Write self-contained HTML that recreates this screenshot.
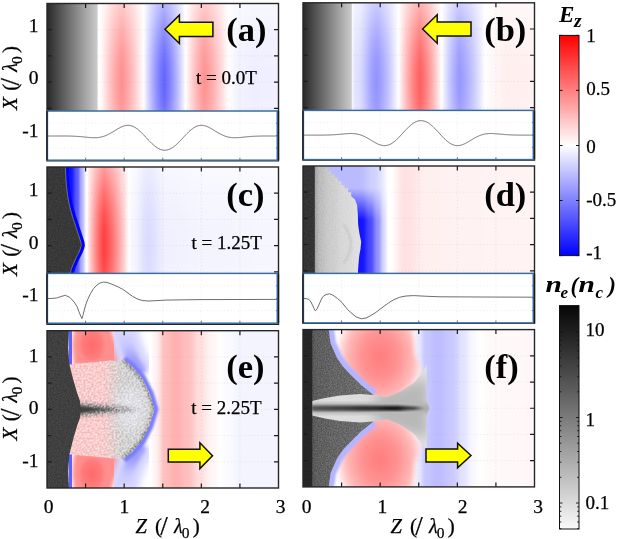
<!DOCTYPE html>
<html><head><meta charset="utf-8"><style>
html,body{margin:0;padding:0;background:#fff;}
svg{display:block;will-change:transform;}
</style></head><body>
<svg width="617" height="539" viewBox="0 0 617 539">
<defs><filter id="b1" x="-20%" y="-20%" width="140%" height="140%"><feGaussianBlur stdDeviation="1"/></filter>
<filter id="b2" x="-30%" y="-30%" width="160%" height="160%"><feGaussianBlur stdDeviation="2"/></filter>
<filter id="b3" x="-30%" y="-30%" width="160%" height="160%"><feGaussianBlur stdDeviation="3.5"/></filter>
<filter id="b5" x="-40%" y="-40%" width="180%" height="180%"><feGaussianBlur stdDeviation="6"/></filter>
<filter id="b8" x="-50%" y="-50%" width="200%" height="200%"><feGaussianBlur stdDeviation="9"/></filter>
<clipPath id="cp00"><rect x="47.00" y="3.50" width="231.50" height="157.30"/></clipPath>
<clipPath id="cp01"><rect x="303.00" y="2.80" width="231.50" height="157.30"/></clipPath>
<clipPath id="cp10"><rect x="47.00" y="167.00" width="231.50" height="157.30"/></clipPath>
<clipPath id="cp11"><rect x="303.00" y="166.00" width="231.50" height="157.30"/></clipPath>
<clipPath id="cp20"><rect x="47.00" y="330.70" width="231.50" height="157.30"/></clipPath>
<clipPath id="cp21"><rect x="303.00" y="329.60" width="231.50" height="157.30"/></clipPath>
<filter id="nz" x="0" y="0" width="1" height="1" filterUnits="objectBoundingBox" color-interpolation-filters="sRGB"><feTurbulence type="fractalNoise" baseFrequency="0.75" numOctaves="2" seed="4"/><feColorMatrix type="matrix" values="1 0 0 0 0  1 0 0 0 0  1 0 0 0 0  0 0 0 0 1"/><feComponentTransfer><feFuncR type="linear" slope="2.6" intercept="-0.8"/><feFuncG type="linear" slope="2.6" intercept="-0.8"/><feFuncB type="linear" slope="2.6" intercept="-0.8"/></feComponentTransfer></filter>
<filter id="nz2" x="0" y="0" width="1" height="1" filterUnits="objectBoundingBox" color-interpolation-filters="sRGB"><feTurbulence type="fractalNoise" baseFrequency="0.5" numOctaves="2" seed="9"/><feColorMatrix type="matrix" values="1 0 0 0 0  1 0 0 0 0  1 0 0 0 0  0 0 0 0 1"/><feComponentTransfer><feFuncR type="linear" slope="3.2" intercept="-1.1"/><feFuncG type="linear" slope="3.2" intercept="-1.1"/><feFuncB type="linear" slope="3.2" intercept="-1.1"/></feComponentTransfer></filter>
<linearGradient id="ga" gradientUnits="userSpaceOnUse" x1="47.00" y1="0" x2="279.00" y2="0"><stop offset="0.0000" stop-color="#ffffff"/><stop offset="0.0043" stop-color="#ffffff"/><stop offset="0.0086" stop-color="#ffffff"/><stop offset="0.0129" stop-color="#ffffff"/><stop offset="0.0172" stop-color="#ffffff"/><stop offset="0.0215" stop-color="#ffffff"/><stop offset="0.0258" stop-color="#ffffff"/><stop offset="0.0300" stop-color="#ffffff"/><stop offset="0.0343" stop-color="#ffffff"/><stop offset="0.0386" stop-color="#ffffff"/><stop offset="0.0429" stop-color="#ffffff"/><stop offset="0.0472" stop-color="#ffffff"/><stop offset="0.0515" stop-color="#ffffff"/><stop offset="0.0558" stop-color="#ffffff"/><stop offset="0.0601" stop-color="#ffffff"/><stop offset="0.0644" stop-color="#ffffff"/><stop offset="0.0687" stop-color="#ffffff"/><stop offset="0.0730" stop-color="#ffffff"/><stop offset="0.0773" stop-color="#ffffff"/><stop offset="0.0815" stop-color="#ffffff"/><stop offset="0.0858" stop-color="#ffffff"/><stop offset="0.0901" stop-color="#ffffff"/><stop offset="0.0944" stop-color="#ffffff"/><stop offset="0.0987" stop-color="#ffffff"/><stop offset="0.1030" stop-color="#ffffff"/><stop offset="0.1073" stop-color="#ffffff"/><stop offset="0.1116" stop-color="#ffffff"/><stop offset="0.1159" stop-color="#ffffff"/><stop offset="0.1202" stop-color="#ffffff"/><stop offset="0.1245" stop-color="#ffffff"/><stop offset="0.1288" stop-color="#ffffff"/><stop offset="0.1330" stop-color="#ffffff"/><stop offset="0.1373" stop-color="#ffffff"/><stop offset="0.1416" stop-color="#ffffff"/><stop offset="0.1459" stop-color="#ffffff"/><stop offset="0.1502" stop-color="#ffffff"/><stop offset="0.1545" stop-color="#ffffff"/><stop offset="0.1588" stop-color="#ffffff"/><stop offset="0.1631" stop-color="#ffffff"/><stop offset="0.1674" stop-color="#ffffff"/><stop offset="0.1717" stop-color="#ffffff"/><stop offset="0.1760" stop-color="#ffffff"/><stop offset="0.1803" stop-color="#ffffff"/><stop offset="0.1845" stop-color="#ffffff"/><stop offset="0.1888" stop-color="#ffffff"/><stop offset="0.1931" stop-color="#ffffff"/><stop offset="0.1974" stop-color="#ffffff"/><stop offset="0.2017" stop-color="#ffffff"/><stop offset="0.2060" stop-color="#ffffff"/><stop offset="0.2103" stop-color="#ffffff"/><stop offset="0.2146" stop-color="#ffffff"/><stop offset="0.2189" stop-color="#ffffff"/><stop offset="0.2232" stop-color="#ffffff"/><stop offset="0.2275" stop-color="#ffffff"/><stop offset="0.2318" stop-color="#fffdfd"/><stop offset="0.2361" stop-color="#fff7f7"/><stop offset="0.2403" stop-color="#fff0f0"/><stop offset="0.2446" stop-color="#ffeaea"/><stop offset="0.2489" stop-color="#ffe3e3"/><stop offset="0.2532" stop-color="#ffdddd"/><stop offset="0.2575" stop-color="#ffd7d7"/><stop offset="0.2618" stop-color="#ffd1d1"/><stop offset="0.2661" stop-color="#ffcbcb"/><stop offset="0.2704" stop-color="#ffc5c5"/><stop offset="0.2747" stop-color="#ffbfbf"/><stop offset="0.2790" stop-color="#ffbaba"/><stop offset="0.2833" stop-color="#ffb4b4"/><stop offset="0.2876" stop-color="#ffafaf"/><stop offset="0.2918" stop-color="#ffaaaa"/><stop offset="0.2961" stop-color="#ffa6a6"/><stop offset="0.3004" stop-color="#ffa1a1"/><stop offset="0.3047" stop-color="#ff9d9d"/><stop offset="0.3090" stop-color="#ff9999"/><stop offset="0.3133" stop-color="#ff9595"/><stop offset="0.3176" stop-color="#ff9292"/><stop offset="0.3219" stop-color="#ff8f8f"/><stop offset="0.3262" stop-color="#ff9393"/><stop offset="0.3305" stop-color="#ff9696"/><stop offset="0.3348" stop-color="#ff9a9a"/><stop offset="0.3391" stop-color="#ff9d9d"/><stop offset="0.3433" stop-color="#ffa2a2"/><stop offset="0.3476" stop-color="#ffa6a6"/><stop offset="0.3519" stop-color="#ffaaaa"/><stop offset="0.3562" stop-color="#ffafaf"/><stop offset="0.3605" stop-color="#ffb4b4"/><stop offset="0.3648" stop-color="#ffb9b9"/><stop offset="0.3691" stop-color="#ffbebe"/><stop offset="0.3734" stop-color="#ffc4c4"/><stop offset="0.3777" stop-color="#ffc9c9"/><stop offset="0.3820" stop-color="#ffcfcf"/><stop offset="0.3863" stop-color="#ffd5d5"/><stop offset="0.3906" stop-color="#ffdbdb"/><stop offset="0.3948" stop-color="#ffe1e1"/><stop offset="0.3991" stop-color="#ffe7e7"/><stop offset="0.4034" stop-color="#ffeded"/><stop offset="0.4077" stop-color="#fff3f3"/><stop offset="0.4120" stop-color="#fff9f9"/><stop offset="0.4163" stop-color="#fefeff"/><stop offset="0.4206" stop-color="#f5f5ff"/><stop offset="0.4249" stop-color="#ececff"/><stop offset="0.4292" stop-color="#e3e3ff"/><stop offset="0.4335" stop-color="#d9d9ff"/><stop offset="0.4378" stop-color="#d0d0ff"/><stop offset="0.4421" stop-color="#c8c8ff"/><stop offset="0.4464" stop-color="#bfbfff"/><stop offset="0.4506" stop-color="#b6b6ff"/><stop offset="0.4549" stop-color="#aeaeff"/><stop offset="0.4592" stop-color="#a6a6ff"/><stop offset="0.4635" stop-color="#9e9eff"/><stop offset="0.4678" stop-color="#9797ff"/><stop offset="0.4721" stop-color="#8f8fff"/><stop offset="0.4764" stop-color="#8888ff"/><stop offset="0.4807" stop-color="#8282ff"/><stop offset="0.4850" stop-color="#7c7cff"/><stop offset="0.4893" stop-color="#7676ff"/><stop offset="0.4936" stop-color="#7070ff"/><stop offset="0.4979" stop-color="#6b6bff"/><stop offset="0.5021" stop-color="#6666ff"/><stop offset="0.5064" stop-color="#6666ff"/><stop offset="0.5107" stop-color="#6a6aff"/><stop offset="0.5150" stop-color="#6f6fff"/><stop offset="0.5193" stop-color="#7575ff"/><stop offset="0.5236" stop-color="#7a7aff"/><stop offset="0.5279" stop-color="#8080ff"/><stop offset="0.5322" stop-color="#8686ff"/><stop offset="0.5365" stop-color="#8d8dff"/><stop offset="0.5408" stop-color="#9494ff"/><stop offset="0.5451" stop-color="#9b9bff"/><stop offset="0.5494" stop-color="#a2a2ff"/><stop offset="0.5536" stop-color="#aaaaff"/><stop offset="0.5579" stop-color="#b1b1ff"/><stop offset="0.5622" stop-color="#b9b9ff"/><stop offset="0.5665" stop-color="#c2c2ff"/><stop offset="0.5708" stop-color="#cacaff"/><stop offset="0.5751" stop-color="#d2d2ff"/><stop offset="0.5794" stop-color="#dbdbff"/><stop offset="0.5837" stop-color="#e4e4ff"/><stop offset="0.5880" stop-color="#ececff"/><stop offset="0.5923" stop-color="#f5f5ff"/><stop offset="0.5966" stop-color="#fefeff"/><stop offset="0.6009" stop-color="#fff9f9"/><stop offset="0.6052" stop-color="#fff2f2"/><stop offset="0.6094" stop-color="#ffebeb"/><stop offset="0.6137" stop-color="#ffe4e4"/><stop offset="0.6180" stop-color="#ffdddd"/><stop offset="0.6223" stop-color="#ffd6d6"/><stop offset="0.6266" stop-color="#ffd0d0"/><stop offset="0.6309" stop-color="#ffc9c9"/><stop offset="0.6352" stop-color="#ffc3c3"/><stop offset="0.6395" stop-color="#ffbdbd"/><stop offset="0.6438" stop-color="#ffb7b7"/><stop offset="0.6481" stop-color="#ffb2b2"/><stop offset="0.6524" stop-color="#ffacac"/><stop offset="0.6567" stop-color="#ffa7a7"/><stop offset="0.6609" stop-color="#ffa2a2"/><stop offset="0.6652" stop-color="#ff9e9e"/><stop offset="0.6695" stop-color="#ff9a9a"/><stop offset="0.6738" stop-color="#ff9696"/><stop offset="0.6781" stop-color="#ff9292"/><stop offset="0.6824" stop-color="#ff9494"/><stop offset="0.6867" stop-color="#ff9797"/><stop offset="0.6910" stop-color="#ff9a9a"/><stop offset="0.6953" stop-color="#ff9d9d"/><stop offset="0.6996" stop-color="#ffa1a1"/><stop offset="0.7039" stop-color="#ffa4a4"/><stop offset="0.7082" stop-color="#ffa8a8"/><stop offset="0.7124" stop-color="#ffacac"/><stop offset="0.7167" stop-color="#ffb0b0"/><stop offset="0.7210" stop-color="#ffb5b5"/><stop offset="0.7253" stop-color="#ffb9b9"/><stop offset="0.7296" stop-color="#ffbebe"/><stop offset="0.7339" stop-color="#ffc3c3"/><stop offset="0.7382" stop-color="#ffc8c8"/><stop offset="0.7425" stop-color="#ffcdcd"/><stop offset="0.7468" stop-color="#ffd2d2"/><stop offset="0.7511" stop-color="#ffd7d7"/><stop offset="0.7554" stop-color="#ffdcdc"/><stop offset="0.7597" stop-color="#ffe2e2"/><stop offset="0.7639" stop-color="#ffe7e7"/><stop offset="0.7682" stop-color="#ffeded"/><stop offset="0.7725" stop-color="#fff2f2"/><stop offset="0.7768" stop-color="#fff8f8"/><stop offset="0.7811" stop-color="#fffdfd"/><stop offset="0.7854" stop-color="#fefeff"/><stop offset="0.7897" stop-color="#fcfcff"/><stop offset="0.7940" stop-color="#fbfbff"/><stop offset="0.7983" stop-color="#f9f9ff"/><stop offset="0.8026" stop-color="#f8f8ff"/><stop offset="0.8069" stop-color="#f6f6ff"/><stop offset="0.8112" stop-color="#f5f5ff"/><stop offset="0.8155" stop-color="#f4f4ff"/><stop offset="0.8197" stop-color="#f3f3ff"/><stop offset="0.8240" stop-color="#f2f2ff"/><stop offset="0.8283" stop-color="#f2f2ff"/><stop offset="0.8326" stop-color="#f2f2ff"/><stop offset="0.8369" stop-color="#f2f2ff"/><stop offset="0.8412" stop-color="#f2f2ff"/><stop offset="0.8455" stop-color="#f1f1ff"/><stop offset="0.8498" stop-color="#f1f1ff"/><stop offset="0.8541" stop-color="#f1f1ff"/><stop offset="0.8584" stop-color="#f0f0ff"/><stop offset="0.8627" stop-color="#f0f0ff"/><stop offset="0.8670" stop-color="#f0f0ff"/><stop offset="0.8712" stop-color="#efefff"/><stop offset="0.8755" stop-color="#efefff"/><stop offset="0.8798" stop-color="#efefff"/><stop offset="0.8841" stop-color="#efefff"/><stop offset="0.8884" stop-color="#eeeeff"/><stop offset="0.8927" stop-color="#eeeeff"/><stop offset="0.8970" stop-color="#eeeeff"/><stop offset="0.9013" stop-color="#eeeeff"/><stop offset="0.9056" stop-color="#eeeeff"/><stop offset="0.9099" stop-color="#efefff"/><stop offset="0.9142" stop-color="#efefff"/><stop offset="0.9185" stop-color="#efefff"/><stop offset="0.9227" stop-color="#efefff"/><stop offset="0.9270" stop-color="#efefff"/><stop offset="0.9313" stop-color="#efefff"/><stop offset="0.9356" stop-color="#efefff"/><stop offset="0.9399" stop-color="#efefff"/><stop offset="0.9442" stop-color="#efefff"/><stop offset="0.9485" stop-color="#efefff"/><stop offset="0.9528" stop-color="#efefff"/><stop offset="0.9571" stop-color="#efefff"/><stop offset="0.9614" stop-color="#efefff"/><stop offset="0.9657" stop-color="#efefff"/><stop offset="0.9700" stop-color="#efefff"/><stop offset="0.9742" stop-color="#f0f0ff"/><stop offset="0.9785" stop-color="#f0f0ff"/><stop offset="0.9828" stop-color="#f0f0ff"/><stop offset="0.9871" stop-color="#f0f0ff"/><stop offset="0.9914" stop-color="#f0f0ff"/><stop offset="0.9957" stop-color="#f0f0ff"/><stop offset="1.0000" stop-color="#f0f0ff"/></linearGradient>
<linearGradient id="gra" gradientUnits="userSpaceOnUse" x1="47.00" y1="0" x2="97.60" y2="0"><stop offset="0.0000" stop-color="#292929"/><stop offset="0.0196" stop-color="#2c2c2c"/><stop offset="0.0392" stop-color="#2f2f2f"/><stop offset="0.0588" stop-color="#323232"/><stop offset="0.0784" stop-color="#363636"/><stop offset="0.0980" stop-color="#393939"/><stop offset="0.1176" stop-color="#3c3c3c"/><stop offset="0.1373" stop-color="#3f3f3f"/><stop offset="0.1569" stop-color="#424242"/><stop offset="0.1765" stop-color="#464646"/><stop offset="0.1961" stop-color="#494949"/><stop offset="0.2157" stop-color="#4c4c4c"/><stop offset="0.2353" stop-color="#4f4f4f"/><stop offset="0.2549" stop-color="#525252"/><stop offset="0.2745" stop-color="#565656"/><stop offset="0.2941" stop-color="#595959"/><stop offset="0.3137" stop-color="#5c5c5c"/><stop offset="0.3333" stop-color="#5f5f5f"/><stop offset="0.3529" stop-color="#626262"/><stop offset="0.3725" stop-color="#666666"/><stop offset="0.3922" stop-color="#696969"/><stop offset="0.4118" stop-color="#6c6c6c"/><stop offset="0.4314" stop-color="#6f6f6f"/><stop offset="0.4510" stop-color="#727272"/><stop offset="0.4706" stop-color="#767676"/><stop offset="0.4902" stop-color="#797979"/><stop offset="0.5098" stop-color="#7c7c7c"/><stop offset="0.5294" stop-color="#7f7f7f"/><stop offset="0.5490" stop-color="#828282"/><stop offset="0.5686" stop-color="#868686"/><stop offset="0.5882" stop-color="#898989"/><stop offset="0.6078" stop-color="#8c8c8c"/><stop offset="0.6275" stop-color="#8f8f8f"/><stop offset="0.6471" stop-color="#929292"/><stop offset="0.6667" stop-color="#969696"/><stop offset="0.6863" stop-color="#999999"/><stop offset="0.7059" stop-color="#9c9c9c"/><stop offset="0.7255" stop-color="#9f9f9f"/><stop offset="0.7451" stop-color="#a2a2a2"/><stop offset="0.7647" stop-color="#a6a6a6"/><stop offset="0.7843" stop-color="#a9a9a9"/><stop offset="0.8039" stop-color="#acacac"/><stop offset="0.8235" stop-color="#afafaf"/><stop offset="0.8431" stop-color="#b2b2b2"/><stop offset="0.8627" stop-color="#b6b6b6"/><stop offset="0.8824" stop-color="#b9b9b9"/><stop offset="0.9020" stop-color="#bcbcbc"/><stop offset="0.9216" stop-color="#bfbfbf"/><stop offset="0.9412" stop-color="#c2c2c2"/><stop offset="0.9608" stop-color="#c6c6c6"/><stop offset="0.9804" stop-color="#c9c9c9"/><stop offset="1.0000" stop-color="#cccccc"/></linearGradient>
<linearGradient id="mag" gradientUnits="userSpaceOnUse" x1="0" y1="3.50" x2="0" y2="160.80"><stop offset="0.0000" stop-color="#ffffff" stop-opacity="0.480"/><stop offset="0.0127" stop-color="#ffffff" stop-opacity="0.498"/><stop offset="0.0253" stop-color="#ffffff" stop-opacity="0.516"/><stop offset="0.0380" stop-color="#ffffff" stop-opacity="0.534"/><stop offset="0.0506" stop-color="#ffffff" stop-opacity="0.552"/><stop offset="0.0633" stop-color="#ffffff" stop-opacity="0.571"/><stop offset="0.0759" stop-color="#ffffff" stop-opacity="0.590"/><stop offset="0.0886" stop-color="#ffffff" stop-opacity="0.608"/><stop offset="0.1013" stop-color="#ffffff" stop-opacity="0.627"/><stop offset="0.1139" stop-color="#ffffff" stop-opacity="0.645"/><stop offset="0.1266" stop-color="#ffffff" stop-opacity="0.664"/><stop offset="0.1392" stop-color="#ffffff" stop-opacity="0.682"/><stop offset="0.1519" stop-color="#ffffff" stop-opacity="0.700"/><stop offset="0.1646" stop-color="#ffffff" stop-opacity="0.718"/><stop offset="0.1772" stop-color="#ffffff" stop-opacity="0.736"/><stop offset="0.1899" stop-color="#ffffff" stop-opacity="0.754"/><stop offset="0.2025" stop-color="#ffffff" stop-opacity="0.771"/><stop offset="0.2152" stop-color="#ffffff" stop-opacity="0.788"/><stop offset="0.2278" stop-color="#ffffff" stop-opacity="0.804"/><stop offset="0.2405" stop-color="#ffffff" stop-opacity="0.820"/><stop offset="0.2532" stop-color="#ffffff" stop-opacity="0.836"/><stop offset="0.2658" stop-color="#ffffff" stop-opacity="0.851"/><stop offset="0.2785" stop-color="#ffffff" stop-opacity="0.866"/><stop offset="0.2911" stop-color="#ffffff" stop-opacity="0.880"/><stop offset="0.3038" stop-color="#ffffff" stop-opacity="0.893"/><stop offset="0.3165" stop-color="#ffffff" stop-opacity="0.906"/><stop offset="0.3291" stop-color="#ffffff" stop-opacity="0.918"/><stop offset="0.3418" stop-color="#ffffff" stop-opacity="0.929"/><stop offset="0.3544" stop-color="#ffffff" stop-opacity="0.940"/><stop offset="0.3671" stop-color="#ffffff" stop-opacity="0.949"/><stop offset="0.3797" stop-color="#ffffff" stop-opacity="0.958"/><stop offset="0.3924" stop-color="#ffffff" stop-opacity="0.967"/><stop offset="0.4051" stop-color="#ffffff" stop-opacity="0.974"/><stop offset="0.4177" stop-color="#ffffff" stop-opacity="0.980"/><stop offset="0.4304" stop-color="#ffffff" stop-opacity="0.986"/><stop offset="0.4430" stop-color="#ffffff" stop-opacity="0.991"/><stop offset="0.4557" stop-color="#ffffff" stop-opacity="0.994"/><stop offset="0.4684" stop-color="#ffffff" stop-opacity="0.997"/><stop offset="0.4810" stop-color="#ffffff" stop-opacity="0.999"/><stop offset="0.4937" stop-color="#ffffff" stop-opacity="1.000"/><stop offset="0.5063" stop-color="#ffffff" stop-opacity="1.000"/><stop offset="0.5190" stop-color="#ffffff" stop-opacity="0.999"/><stop offset="0.5316" stop-color="#ffffff" stop-opacity="0.997"/><stop offset="0.5443" stop-color="#ffffff" stop-opacity="0.994"/><stop offset="0.5570" stop-color="#ffffff" stop-opacity="0.991"/><stop offset="0.5696" stop-color="#ffffff" stop-opacity="0.986"/><stop offset="0.5823" stop-color="#ffffff" stop-opacity="0.980"/><stop offset="0.5949" stop-color="#ffffff" stop-opacity="0.974"/><stop offset="0.6076" stop-color="#ffffff" stop-opacity="0.967"/><stop offset="0.6203" stop-color="#ffffff" stop-opacity="0.958"/><stop offset="0.6329" stop-color="#ffffff" stop-opacity="0.949"/><stop offset="0.6456" stop-color="#ffffff" stop-opacity="0.940"/><stop offset="0.6582" stop-color="#ffffff" stop-opacity="0.929"/><stop offset="0.6709" stop-color="#ffffff" stop-opacity="0.918"/><stop offset="0.6835" stop-color="#ffffff" stop-opacity="0.906"/><stop offset="0.6962" stop-color="#ffffff" stop-opacity="0.893"/><stop offset="0.7089" stop-color="#ffffff" stop-opacity="0.880"/><stop offset="0.7215" stop-color="#ffffff" stop-opacity="0.866"/><stop offset="0.7342" stop-color="#ffffff" stop-opacity="0.851"/><stop offset="0.7468" stop-color="#ffffff" stop-opacity="0.836"/><stop offset="0.7595" stop-color="#ffffff" stop-opacity="0.820"/><stop offset="0.7722" stop-color="#ffffff" stop-opacity="0.804"/><stop offset="0.7848" stop-color="#ffffff" stop-opacity="0.788"/><stop offset="0.7975" stop-color="#ffffff" stop-opacity="0.771"/><stop offset="0.8101" stop-color="#ffffff" stop-opacity="0.754"/><stop offset="0.8228" stop-color="#ffffff" stop-opacity="0.736"/><stop offset="0.8354" stop-color="#ffffff" stop-opacity="0.718"/><stop offset="0.8481" stop-color="#ffffff" stop-opacity="0.700"/><stop offset="0.8608" stop-color="#ffffff" stop-opacity="0.682"/><stop offset="0.8734" stop-color="#ffffff" stop-opacity="0.664"/><stop offset="0.8861" stop-color="#ffffff" stop-opacity="0.645"/><stop offset="0.8987" stop-color="#ffffff" stop-opacity="0.627"/><stop offset="0.9114" stop-color="#ffffff" stop-opacity="0.608"/><stop offset="0.9241" stop-color="#ffffff" stop-opacity="0.590"/><stop offset="0.9367" stop-color="#ffffff" stop-opacity="0.571"/><stop offset="0.9494" stop-color="#ffffff" stop-opacity="0.552"/><stop offset="0.9620" stop-color="#ffffff" stop-opacity="0.534"/><stop offset="0.9747" stop-color="#ffffff" stop-opacity="0.516"/><stop offset="0.9873" stop-color="#ffffff" stop-opacity="0.498"/><stop offset="1.0000" stop-color="#ffffff" stop-opacity="0.480"/></linearGradient>
<mask id="ma" maskUnits="userSpaceOnUse" x="47.0" y="3.5" width="231.5" height="157.3"><rect x="47.0" y="3.5" width="231.5" height="157.3" fill="url(#mag)"/></mask>
<linearGradient id="gb" gradientUnits="userSpaceOnUse" x1="303.00" y1="0" x2="535.00" y2="0"><stop offset="0.0000" stop-color="#f5f5ff"/><stop offset="0.0043" stop-color="#f5f5ff"/><stop offset="0.0086" stop-color="#f5f5ff"/><stop offset="0.0129" stop-color="#f5f5ff"/><stop offset="0.0172" stop-color="#f5f5ff"/><stop offset="0.0215" stop-color="#f5f5ff"/><stop offset="0.0258" stop-color="#f5f5ff"/><stop offset="0.0300" stop-color="#f5f5ff"/><stop offset="0.0343" stop-color="#f5f5ff"/><stop offset="0.0386" stop-color="#f5f5ff"/><stop offset="0.0429" stop-color="#f5f5ff"/><stop offset="0.0472" stop-color="#f5f5ff"/><stop offset="0.0515" stop-color="#f5f5ff"/><stop offset="0.0558" stop-color="#f5f5ff"/><stop offset="0.0601" stop-color="#f5f5ff"/><stop offset="0.0644" stop-color="#f5f5ff"/><stop offset="0.0687" stop-color="#f5f5ff"/><stop offset="0.0730" stop-color="#f5f5ff"/><stop offset="0.0773" stop-color="#f5f5ff"/><stop offset="0.0815" stop-color="#f5f5ff"/><stop offset="0.0858" stop-color="#f5f5ff"/><stop offset="0.0901" stop-color="#f5f5ff"/><stop offset="0.0944" stop-color="#f5f5ff"/><stop offset="0.0987" stop-color="#f5f5ff"/><stop offset="0.1030" stop-color="#f5f5ff"/><stop offset="0.1073" stop-color="#f5f5ff"/><stop offset="0.1116" stop-color="#f5f5ff"/><stop offset="0.1159" stop-color="#f5f5ff"/><stop offset="0.1202" stop-color="#f5f5ff"/><stop offset="0.1245" stop-color="#f5f5ff"/><stop offset="0.1288" stop-color="#f5f5ff"/><stop offset="0.1330" stop-color="#f5f5ff"/><stop offset="0.1373" stop-color="#f5f5ff"/><stop offset="0.1416" stop-color="#f5f5ff"/><stop offset="0.1459" stop-color="#f5f5ff"/><stop offset="0.1502" stop-color="#f5f5ff"/><stop offset="0.1545" stop-color="#f5f5ff"/><stop offset="0.1588" stop-color="#f5f5ff"/><stop offset="0.1631" stop-color="#f5f5ff"/><stop offset="0.1674" stop-color="#f5f5ff"/><stop offset="0.1717" stop-color="#f5f5ff"/><stop offset="0.1760" stop-color="#f5f5ff"/><stop offset="0.1803" stop-color="#f5f5ff"/><stop offset="0.1845" stop-color="#f5f5ff"/><stop offset="0.1888" stop-color="#f5f5ff"/><stop offset="0.1931" stop-color="#f5f5ff"/><stop offset="0.1974" stop-color="#f5f5ff"/><stop offset="0.2017" stop-color="#f5f5ff"/><stop offset="0.2060" stop-color="#f5f5ff"/><stop offset="0.2103" stop-color="#f5f5ff"/><stop offset="0.2146" stop-color="#f2f2ff"/><stop offset="0.2189" stop-color="#ececff"/><stop offset="0.2232" stop-color="#e4e4ff"/><stop offset="0.2275" stop-color="#e1e1ff"/><stop offset="0.2318" stop-color="#e0e0ff"/><stop offset="0.2361" stop-color="#dfdfff"/><stop offset="0.2403" stop-color="#ddddff"/><stop offset="0.2446" stop-color="#dbdbff"/><stop offset="0.2489" stop-color="#d8d8ff"/><stop offset="0.2532" stop-color="#d4d4ff"/><stop offset="0.2575" stop-color="#cfcfff"/><stop offset="0.2618" stop-color="#cacaff"/><stop offset="0.2661" stop-color="#c5c5ff"/><stop offset="0.2704" stop-color="#c0c0ff"/><stop offset="0.2747" stop-color="#babaff"/><stop offset="0.2790" stop-color="#b5b5ff"/><stop offset="0.2833" stop-color="#afafff"/><stop offset="0.2876" stop-color="#aaaaff"/><stop offset="0.2918" stop-color="#a5a5ff"/><stop offset="0.2961" stop-color="#a1a1ff"/><stop offset="0.3004" stop-color="#9d9dff"/><stop offset="0.3047" stop-color="#9a9aff"/><stop offset="0.3090" stop-color="#9797ff"/><stop offset="0.3133" stop-color="#9595ff"/><stop offset="0.3176" stop-color="#9494ff"/><stop offset="0.3219" stop-color="#9494ff"/><stop offset="0.3262" stop-color="#9898ff"/><stop offset="0.3305" stop-color="#9b9bff"/><stop offset="0.3348" stop-color="#9f9fff"/><stop offset="0.3391" stop-color="#a3a3ff"/><stop offset="0.3433" stop-color="#a7a7ff"/><stop offset="0.3476" stop-color="#ababff"/><stop offset="0.3519" stop-color="#b0b0ff"/><stop offset="0.3562" stop-color="#b5b5ff"/><stop offset="0.3605" stop-color="#b9b9ff"/><stop offset="0.3648" stop-color="#bfbfff"/><stop offset="0.3691" stop-color="#c4c4ff"/><stop offset="0.3734" stop-color="#c9c9ff"/><stop offset="0.3777" stop-color="#cfcfff"/><stop offset="0.3820" stop-color="#d5d5ff"/><stop offset="0.3863" stop-color="#dbdbff"/><stop offset="0.3906" stop-color="#e1e1ff"/><stop offset="0.3948" stop-color="#e7e7ff"/><stop offset="0.3991" stop-color="#ededff"/><stop offset="0.4034" stop-color="#f3f3ff"/><stop offset="0.4077" stop-color="#f9f9ff"/><stop offset="0.4120" stop-color="#fffefe"/><stop offset="0.4163" stop-color="#fff5f5"/><stop offset="0.4206" stop-color="#ffecec"/><stop offset="0.4249" stop-color="#ffe3e3"/><stop offset="0.4292" stop-color="#ffdada"/><stop offset="0.4335" stop-color="#ffd1d1"/><stop offset="0.4378" stop-color="#ffc8c8"/><stop offset="0.4421" stop-color="#ffc0c0"/><stop offset="0.4464" stop-color="#ffb7b7"/><stop offset="0.4506" stop-color="#ffafaf"/><stop offset="0.4549" stop-color="#ffa7a7"/><stop offset="0.4592" stop-color="#ff9f9f"/><stop offset="0.4635" stop-color="#ff9898"/><stop offset="0.4678" stop-color="#ff9090"/><stop offset="0.4721" stop-color="#ff8989"/><stop offset="0.4764" stop-color="#ff8282"/><stop offset="0.4807" stop-color="#ff7c7c"/><stop offset="0.4850" stop-color="#ff7676"/><stop offset="0.4893" stop-color="#ff7070"/><stop offset="0.4936" stop-color="#ff6b6b"/><stop offset="0.4979" stop-color="#ff6565"/><stop offset="0.5021" stop-color="#ff6161"/><stop offset="0.5064" stop-color="#ff6161"/><stop offset="0.5107" stop-color="#ff6565"/><stop offset="0.5150" stop-color="#ff6b6b"/><stop offset="0.5193" stop-color="#ff7070"/><stop offset="0.5236" stop-color="#ff7676"/><stop offset="0.5279" stop-color="#ff7c7c"/><stop offset="0.5322" stop-color="#ff8282"/><stop offset="0.5365" stop-color="#ff8989"/><stop offset="0.5408" stop-color="#ff9090"/><stop offset="0.5451" stop-color="#ff9797"/><stop offset="0.5494" stop-color="#ff9f9f"/><stop offset="0.5536" stop-color="#ffa7a7"/><stop offset="0.5579" stop-color="#ffafaf"/><stop offset="0.5622" stop-color="#ffb7b7"/><stop offset="0.5665" stop-color="#ffc0c0"/><stop offset="0.5708" stop-color="#ffc8c8"/><stop offset="0.5751" stop-color="#ffd1d1"/><stop offset="0.5794" stop-color="#ffdada"/><stop offset="0.5837" stop-color="#ffe3e3"/><stop offset="0.5880" stop-color="#ffecec"/><stop offset="0.5923" stop-color="#fff5f5"/><stop offset="0.5966" stop-color="#fffefe"/><stop offset="0.6009" stop-color="#f9f9ff"/><stop offset="0.6052" stop-color="#f2f2ff"/><stop offset="0.6094" stop-color="#eaeaff"/><stop offset="0.6137" stop-color="#e4e4ff"/><stop offset="0.6180" stop-color="#ddddff"/><stop offset="0.6223" stop-color="#d6d6ff"/><stop offset="0.6266" stop-color="#cfcfff"/><stop offset="0.6309" stop-color="#c9c9ff"/><stop offset="0.6352" stop-color="#c3c3ff"/><stop offset="0.6395" stop-color="#bdbdff"/><stop offset="0.6438" stop-color="#b7b7ff"/><stop offset="0.6481" stop-color="#b2b2ff"/><stop offset="0.6524" stop-color="#adadff"/><stop offset="0.6567" stop-color="#a8a8ff"/><stop offset="0.6609" stop-color="#a3a3ff"/><stop offset="0.6652" stop-color="#9f9fff"/><stop offset="0.6695" stop-color="#9b9bff"/><stop offset="0.6738" stop-color="#9797ff"/><stop offset="0.6781" stop-color="#9999ff"/><stop offset="0.6824" stop-color="#9b9bff"/><stop offset="0.6867" stop-color="#9e9eff"/><stop offset="0.6910" stop-color="#a1a1ff"/><stop offset="0.6953" stop-color="#a4a4ff"/><stop offset="0.6996" stop-color="#a7a7ff"/><stop offset="0.7039" stop-color="#ababff"/><stop offset="0.7082" stop-color="#aeaeff"/><stop offset="0.7124" stop-color="#b2b2ff"/><stop offset="0.7167" stop-color="#b6b6ff"/><stop offset="0.7210" stop-color="#babaff"/><stop offset="0.7253" stop-color="#bebeff"/><stop offset="0.7296" stop-color="#c2c2ff"/><stop offset="0.7339" stop-color="#c6c6ff"/><stop offset="0.7382" stop-color="#cbcbff"/><stop offset="0.7425" stop-color="#cfcfff"/><stop offset="0.7468" stop-color="#d4d4ff"/><stop offset="0.7511" stop-color="#d9d9ff"/><stop offset="0.7554" stop-color="#ddddff"/><stop offset="0.7597" stop-color="#e2e2ff"/><stop offset="0.7639" stop-color="#e7e7ff"/><stop offset="0.7682" stop-color="#ececff"/><stop offset="0.7725" stop-color="#f1f1ff"/><stop offset="0.7768" stop-color="#f6f6ff"/><stop offset="0.7811" stop-color="#fbfbff"/><stop offset="0.7854" stop-color="#ffffff"/><stop offset="0.7897" stop-color="#fffdfd"/><stop offset="0.7940" stop-color="#fffcfc"/><stop offset="0.7983" stop-color="#fffbfb"/><stop offset="0.8026" stop-color="#fffafa"/><stop offset="0.8069" stop-color="#fff9f9"/><stop offset="0.8112" stop-color="#fff8f8"/><stop offset="0.8155" stop-color="#fff7f7"/><stop offset="0.8197" stop-color="#fff7f7"/><stop offset="0.8240" stop-color="#fff7f7"/><stop offset="0.8283" stop-color="#fff6f6"/><stop offset="0.8326" stop-color="#fff6f6"/><stop offset="0.8369" stop-color="#fff5f5"/><stop offset="0.8412" stop-color="#fff4f4"/><stop offset="0.8455" stop-color="#fff3f3"/><stop offset="0.8498" stop-color="#fff2f2"/><stop offset="0.8541" stop-color="#fff1f1"/><stop offset="0.8584" stop-color="#fff1f1"/><stop offset="0.8627" stop-color="#fff0f0"/><stop offset="0.8670" stop-color="#ffefef"/><stop offset="0.8712" stop-color="#ffefef"/><stop offset="0.8755" stop-color="#ffeeee"/><stop offset="0.8798" stop-color="#ffeeee"/><stop offset="0.8841" stop-color="#ffeeee"/><stop offset="0.8884" stop-color="#ffeeee"/><stop offset="0.8927" stop-color="#ffefef"/><stop offset="0.8970" stop-color="#ffefef"/><stop offset="0.9013" stop-color="#ffefef"/><stop offset="0.9056" stop-color="#ffefef"/><stop offset="0.9099" stop-color="#ffefef"/><stop offset="0.9142" stop-color="#ffefef"/><stop offset="0.9185" stop-color="#ffefef"/><stop offset="0.9227" stop-color="#ffefef"/><stop offset="0.9270" stop-color="#ffefef"/><stop offset="0.9313" stop-color="#ffefef"/><stop offset="0.9356" stop-color="#fff0f0"/><stop offset="0.9399" stop-color="#fff0f0"/><stop offset="0.9442" stop-color="#fff0f0"/><stop offset="0.9485" stop-color="#fff0f0"/><stop offset="0.9528" stop-color="#fff0f0"/><stop offset="0.9571" stop-color="#fff0f0"/><stop offset="0.9614" stop-color="#fff0f0"/><stop offset="0.9657" stop-color="#fff0f0"/><stop offset="0.9700" stop-color="#fff1f1"/><stop offset="0.9742" stop-color="#fff1f1"/><stop offset="0.9785" stop-color="#fff1f1"/><stop offset="0.9828" stop-color="#fff1f1"/><stop offset="0.9871" stop-color="#fff1f1"/><stop offset="0.9914" stop-color="#fff1f1"/><stop offset="0.9957" stop-color="#fff1f1"/><stop offset="1.0000" stop-color="#fff1f1"/></linearGradient>
<linearGradient id="grb" gradientUnits="userSpaceOnUse" x1="303.00" y1="0" x2="351.80" y2="0"><stop offset="0.0000" stop-color="#292929"/><stop offset="0.0204" stop-color="#2c2c2c"/><stop offset="0.0408" stop-color="#2f2f2f"/><stop offset="0.0612" stop-color="#333333"/><stop offset="0.0816" stop-color="#363636"/><stop offset="0.1020" stop-color="#393939"/><stop offset="0.1224" stop-color="#3d3d3d"/><stop offset="0.1429" stop-color="#404040"/><stop offset="0.1633" stop-color="#434343"/><stop offset="0.1837" stop-color="#474747"/><stop offset="0.2041" stop-color="#4a4a4a"/><stop offset="0.2245" stop-color="#4d4d4d"/><stop offset="0.2449" stop-color="#515151"/><stop offset="0.2653" stop-color="#545454"/><stop offset="0.2857" stop-color="#575757"/><stop offset="0.3061" stop-color="#5b5b5b"/><stop offset="0.3265" stop-color="#5e5e5e"/><stop offset="0.3469" stop-color="#616161"/><stop offset="0.3673" stop-color="#656565"/><stop offset="0.3878" stop-color="#686868"/><stop offset="0.4082" stop-color="#6b6b6b"/><stop offset="0.4286" stop-color="#6f6f6f"/><stop offset="0.4490" stop-color="#727272"/><stop offset="0.4694" stop-color="#757575"/><stop offset="0.4898" stop-color="#797979"/><stop offset="0.5102" stop-color="#7c7c7c"/><stop offset="0.5306" stop-color="#7f7f7f"/><stop offset="0.5510" stop-color="#838383"/><stop offset="0.5714" stop-color="#868686"/><stop offset="0.5918" stop-color="#898989"/><stop offset="0.6122" stop-color="#8d8d8d"/><stop offset="0.6327" stop-color="#909090"/><stop offset="0.6531" stop-color="#939393"/><stop offset="0.6735" stop-color="#979797"/><stop offset="0.6939" stop-color="#9a9a9a"/><stop offset="0.7143" stop-color="#9d9d9d"/><stop offset="0.7347" stop-color="#a1a1a1"/><stop offset="0.7551" stop-color="#a4a4a4"/><stop offset="0.7755" stop-color="#a7a7a7"/><stop offset="0.7959" stop-color="#ababab"/><stop offset="0.8163" stop-color="#aeaeae"/><stop offset="0.8367" stop-color="#b1b1b1"/><stop offset="0.8571" stop-color="#b5b5b5"/><stop offset="0.8776" stop-color="#b8b8b8"/><stop offset="0.8980" stop-color="#bbbbbb"/><stop offset="0.9184" stop-color="#bfbfbf"/><stop offset="0.9388" stop-color="#c2c2c2"/><stop offset="0.9592" stop-color="#c5c5c5"/><stop offset="0.9796" stop-color="#c9c9c9"/><stop offset="1.0000" stop-color="#cccccc"/></linearGradient>
<linearGradient id="mbg" gradientUnits="userSpaceOnUse" x1="0" y1="2.80" x2="0" y2="160.10"><stop offset="0.0000" stop-color="#ffffff" stop-opacity="0.480"/><stop offset="0.0127" stop-color="#ffffff" stop-opacity="0.498"/><stop offset="0.0253" stop-color="#ffffff" stop-opacity="0.516"/><stop offset="0.0380" stop-color="#ffffff" stop-opacity="0.534"/><stop offset="0.0506" stop-color="#ffffff" stop-opacity="0.552"/><stop offset="0.0633" stop-color="#ffffff" stop-opacity="0.571"/><stop offset="0.0759" stop-color="#ffffff" stop-opacity="0.590"/><stop offset="0.0886" stop-color="#ffffff" stop-opacity="0.608"/><stop offset="0.1013" stop-color="#ffffff" stop-opacity="0.627"/><stop offset="0.1139" stop-color="#ffffff" stop-opacity="0.645"/><stop offset="0.1266" stop-color="#ffffff" stop-opacity="0.664"/><stop offset="0.1392" stop-color="#ffffff" stop-opacity="0.682"/><stop offset="0.1519" stop-color="#ffffff" stop-opacity="0.700"/><stop offset="0.1646" stop-color="#ffffff" stop-opacity="0.718"/><stop offset="0.1772" stop-color="#ffffff" stop-opacity="0.736"/><stop offset="0.1899" stop-color="#ffffff" stop-opacity="0.754"/><stop offset="0.2025" stop-color="#ffffff" stop-opacity="0.771"/><stop offset="0.2152" stop-color="#ffffff" stop-opacity="0.788"/><stop offset="0.2278" stop-color="#ffffff" stop-opacity="0.804"/><stop offset="0.2405" stop-color="#ffffff" stop-opacity="0.820"/><stop offset="0.2532" stop-color="#ffffff" stop-opacity="0.836"/><stop offset="0.2658" stop-color="#ffffff" stop-opacity="0.851"/><stop offset="0.2785" stop-color="#ffffff" stop-opacity="0.866"/><stop offset="0.2911" stop-color="#ffffff" stop-opacity="0.880"/><stop offset="0.3038" stop-color="#ffffff" stop-opacity="0.893"/><stop offset="0.3165" stop-color="#ffffff" stop-opacity="0.906"/><stop offset="0.3291" stop-color="#ffffff" stop-opacity="0.918"/><stop offset="0.3418" stop-color="#ffffff" stop-opacity="0.929"/><stop offset="0.3544" stop-color="#ffffff" stop-opacity="0.940"/><stop offset="0.3671" stop-color="#ffffff" stop-opacity="0.949"/><stop offset="0.3797" stop-color="#ffffff" stop-opacity="0.958"/><stop offset="0.3924" stop-color="#ffffff" stop-opacity="0.967"/><stop offset="0.4051" stop-color="#ffffff" stop-opacity="0.974"/><stop offset="0.4177" stop-color="#ffffff" stop-opacity="0.980"/><stop offset="0.4304" stop-color="#ffffff" stop-opacity="0.986"/><stop offset="0.4430" stop-color="#ffffff" stop-opacity="0.991"/><stop offset="0.4557" stop-color="#ffffff" stop-opacity="0.994"/><stop offset="0.4684" stop-color="#ffffff" stop-opacity="0.997"/><stop offset="0.4810" stop-color="#ffffff" stop-opacity="0.999"/><stop offset="0.4937" stop-color="#ffffff" stop-opacity="1.000"/><stop offset="0.5063" stop-color="#ffffff" stop-opacity="1.000"/><stop offset="0.5190" stop-color="#ffffff" stop-opacity="0.999"/><stop offset="0.5316" stop-color="#ffffff" stop-opacity="0.997"/><stop offset="0.5443" stop-color="#ffffff" stop-opacity="0.994"/><stop offset="0.5570" stop-color="#ffffff" stop-opacity="0.991"/><stop offset="0.5696" stop-color="#ffffff" stop-opacity="0.986"/><stop offset="0.5823" stop-color="#ffffff" stop-opacity="0.980"/><stop offset="0.5949" stop-color="#ffffff" stop-opacity="0.974"/><stop offset="0.6076" stop-color="#ffffff" stop-opacity="0.967"/><stop offset="0.6203" stop-color="#ffffff" stop-opacity="0.958"/><stop offset="0.6329" stop-color="#ffffff" stop-opacity="0.949"/><stop offset="0.6456" stop-color="#ffffff" stop-opacity="0.940"/><stop offset="0.6582" stop-color="#ffffff" stop-opacity="0.929"/><stop offset="0.6709" stop-color="#ffffff" stop-opacity="0.918"/><stop offset="0.6835" stop-color="#ffffff" stop-opacity="0.906"/><stop offset="0.6962" stop-color="#ffffff" stop-opacity="0.893"/><stop offset="0.7089" stop-color="#ffffff" stop-opacity="0.880"/><stop offset="0.7215" stop-color="#ffffff" stop-opacity="0.866"/><stop offset="0.7342" stop-color="#ffffff" stop-opacity="0.851"/><stop offset="0.7468" stop-color="#ffffff" stop-opacity="0.836"/><stop offset="0.7595" stop-color="#ffffff" stop-opacity="0.820"/><stop offset="0.7722" stop-color="#ffffff" stop-opacity="0.804"/><stop offset="0.7848" stop-color="#ffffff" stop-opacity="0.788"/><stop offset="0.7975" stop-color="#ffffff" stop-opacity="0.771"/><stop offset="0.8101" stop-color="#ffffff" stop-opacity="0.754"/><stop offset="0.8228" stop-color="#ffffff" stop-opacity="0.736"/><stop offset="0.8354" stop-color="#ffffff" stop-opacity="0.718"/><stop offset="0.8481" stop-color="#ffffff" stop-opacity="0.700"/><stop offset="0.8608" stop-color="#ffffff" stop-opacity="0.682"/><stop offset="0.8734" stop-color="#ffffff" stop-opacity="0.664"/><stop offset="0.8861" stop-color="#ffffff" stop-opacity="0.645"/><stop offset="0.8987" stop-color="#ffffff" stop-opacity="0.627"/><stop offset="0.9114" stop-color="#ffffff" stop-opacity="0.608"/><stop offset="0.9241" stop-color="#ffffff" stop-opacity="0.590"/><stop offset="0.9367" stop-color="#ffffff" stop-opacity="0.571"/><stop offset="0.9494" stop-color="#ffffff" stop-opacity="0.552"/><stop offset="0.9620" stop-color="#ffffff" stop-opacity="0.534"/><stop offset="0.9747" stop-color="#ffffff" stop-opacity="0.516"/><stop offset="0.9873" stop-color="#ffffff" stop-opacity="0.498"/><stop offset="1.0000" stop-color="#ffffff" stop-opacity="0.480"/></linearGradient>
<mask id="mb" maskUnits="userSpaceOnUse" x="303.0" y="2.8" width="231.5" height="157.3"><rect x="303.0" y="2.8" width="231.5" height="157.3" fill="url(#mbg)"/></mask>
<linearGradient id="gc1" gradientUnits="userSpaceOnUse" x1="47.00" y1="0" x2="279.00" y2="0"><stop offset="0.0000" stop-color="#ffffff"/><stop offset="0.0043" stop-color="#ffffff"/><stop offset="0.0086" stop-color="#ffffff"/><stop offset="0.0129" stop-color="#ffffff"/><stop offset="0.0172" stop-color="#ffffff"/><stop offset="0.0215" stop-color="#ffffff"/><stop offset="0.0258" stop-color="#ffffff"/><stop offset="0.0300" stop-color="#ffffff"/><stop offset="0.0343" stop-color="#ffffff"/><stop offset="0.0386" stop-color="#ffffff"/><stop offset="0.0429" stop-color="#ffffff"/><stop offset="0.0472" stop-color="#ffffff"/><stop offset="0.0515" stop-color="#ffffff"/><stop offset="0.0558" stop-color="#ffffff"/><stop offset="0.0601" stop-color="#ffffff"/><stop offset="0.0644" stop-color="#ffffff"/><stop offset="0.0687" stop-color="#ffffff"/><stop offset="0.0730" stop-color="#ffffff"/><stop offset="0.0773" stop-color="#ffffff"/><stop offset="0.0815" stop-color="#ffffff"/><stop offset="0.0858" stop-color="#ffffff"/><stop offset="0.0901" stop-color="#ffffff"/><stop offset="0.0944" stop-color="#ffffff"/><stop offset="0.0987" stop-color="#ffffff"/><stop offset="0.1030" stop-color="#ffffff"/><stop offset="0.1073" stop-color="#ffffff"/><stop offset="0.1116" stop-color="#ffffff"/><stop offset="0.1159" stop-color="#ffffff"/><stop offset="0.1202" stop-color="#ffffff"/><stop offset="0.1245" stop-color="#ffffff"/><stop offset="0.1288" stop-color="#ffffff"/><stop offset="0.1330" stop-color="#ffffff"/><stop offset="0.1373" stop-color="#ffffff"/><stop offset="0.1416" stop-color="#ffffff"/><stop offset="0.1459" stop-color="#ffffff"/><stop offset="0.1502" stop-color="#ffffff"/><stop offset="0.1545" stop-color="#ffffff"/><stop offset="0.1588" stop-color="#ffffff"/><stop offset="0.1631" stop-color="#ffffff"/><stop offset="0.1674" stop-color="#ffffff"/><stop offset="0.1717" stop-color="#fffcfc"/><stop offset="0.1760" stop-color="#fff4f4"/><stop offset="0.1803" stop-color="#ffecec"/><stop offset="0.1845" stop-color="#ffe4e4"/><stop offset="0.1888" stop-color="#ffdddd"/><stop offset="0.1931" stop-color="#ffd5d5"/><stop offset="0.1974" stop-color="#ffcece"/><stop offset="0.2017" stop-color="#ffc6c6"/><stop offset="0.2060" stop-color="#ffbfbf"/><stop offset="0.2103" stop-color="#ffb8b8"/><stop offset="0.2146" stop-color="#ffb2b2"/><stop offset="0.2189" stop-color="#ffacac"/><stop offset="0.2232" stop-color="#ffa6a6"/><stop offset="0.2275" stop-color="#ffa0a0"/><stop offset="0.2318" stop-color="#ff9b9b"/><stop offset="0.2361" stop-color="#ff9696"/><stop offset="0.2403" stop-color="#ff9191"/><stop offset="0.2446" stop-color="#ff8d8d"/><stop offset="0.2489" stop-color="#ff8e8e"/><stop offset="0.2532" stop-color="#ff9191"/><stop offset="0.2575" stop-color="#ff9494"/><stop offset="0.2618" stop-color="#ff9898"/><stop offset="0.2661" stop-color="#ff9b9b"/><stop offset="0.2704" stop-color="#ff9f9f"/><stop offset="0.2747" stop-color="#ffa3a3"/><stop offset="0.2790" stop-color="#ffa7a7"/><stop offset="0.2833" stop-color="#ffabab"/><stop offset="0.2876" stop-color="#ffafaf"/><stop offset="0.2918" stop-color="#ffb4b4"/><stop offset="0.2961" stop-color="#ffb8b8"/><stop offset="0.3004" stop-color="#ffbdbd"/><stop offset="0.3047" stop-color="#ffc2c2"/><stop offset="0.3090" stop-color="#ffc7c7"/><stop offset="0.3133" stop-color="#ffcccc"/><stop offset="0.3176" stop-color="#ffd1d1"/><stop offset="0.3219" stop-color="#ffd6d6"/><stop offset="0.3262" stop-color="#ffdcdc"/><stop offset="0.3305" stop-color="#ffe1e1"/><stop offset="0.3348" stop-color="#ffe7e7"/><stop offset="0.3391" stop-color="#ffecec"/><stop offset="0.3433" stop-color="#fff2f2"/><stop offset="0.3476" stop-color="#fff7f7"/><stop offset="0.3519" stop-color="#fffdfd"/><stop offset="0.3562" stop-color="#fdfdff"/><stop offset="0.3605" stop-color="#fafaff"/><stop offset="0.3648" stop-color="#f7f7ff"/><stop offset="0.3691" stop-color="#f5f5ff"/><stop offset="0.3734" stop-color="#f5f5ff"/><stop offset="0.3777" stop-color="#f4f4ff"/><stop offset="0.3820" stop-color="#f3f3ff"/><stop offset="0.3863" stop-color="#f1f1ff"/><stop offset="0.3906" stop-color="#efefff"/><stop offset="0.3948" stop-color="#ededff"/><stop offset="0.3991" stop-color="#eaeaff"/><stop offset="0.4034" stop-color="#e8e8ff"/><stop offset="0.4077" stop-color="#e5e5ff"/><stop offset="0.4120" stop-color="#e3e3ff"/><stop offset="0.4163" stop-color="#e0e0ff"/><stop offset="0.4206" stop-color="#dedeff"/><stop offset="0.4249" stop-color="#ddddff"/><stop offset="0.4292" stop-color="#dcdcff"/><stop offset="0.4335" stop-color="#dbdbff"/><stop offset="0.4378" stop-color="#dbdbff"/><stop offset="0.4421" stop-color="#dcdcff"/><stop offset="0.4464" stop-color="#dcdcff"/><stop offset="0.4506" stop-color="#ddddff"/><stop offset="0.4549" stop-color="#dedeff"/><stop offset="0.4592" stop-color="#dfdfff"/><stop offset="0.4635" stop-color="#e1e1ff"/><stop offset="0.4678" stop-color="#e2e2ff"/><stop offset="0.4721" stop-color="#e4e4ff"/><stop offset="0.4764" stop-color="#e6e6ff"/><stop offset="0.4807" stop-color="#e7e7ff"/><stop offset="0.4850" stop-color="#e9e9ff"/><stop offset="0.4893" stop-color="#eaeaff"/><stop offset="0.4936" stop-color="#ececff"/><stop offset="0.4979" stop-color="#ededff"/><stop offset="0.5021" stop-color="#eeeeff"/><stop offset="0.5064" stop-color="#efefff"/><stop offset="0.5107" stop-color="#efefff"/><stop offset="0.5150" stop-color="#f0f0ff"/><stop offset="0.5193" stop-color="#f0f0ff"/><stop offset="0.5236" stop-color="#f0f0ff"/><stop offset="0.5279" stop-color="#f0f0ff"/><stop offset="0.5322" stop-color="#f0f0ff"/><stop offset="0.5365" stop-color="#f0f0ff"/><stop offset="0.5408" stop-color="#f0f0ff"/><stop offset="0.5451" stop-color="#f0f0ff"/><stop offset="0.5494" stop-color="#f0f0ff"/><stop offset="0.5536" stop-color="#f0f0ff"/><stop offset="0.5579" stop-color="#f0f0ff"/><stop offset="0.5622" stop-color="#f1f1ff"/><stop offset="0.5665" stop-color="#f1f1ff"/><stop offset="0.5708" stop-color="#f1f1ff"/><stop offset="0.5751" stop-color="#f1f1ff"/><stop offset="0.5794" stop-color="#f1f1ff"/><stop offset="0.5837" stop-color="#f1f1ff"/><stop offset="0.5880" stop-color="#f2f2ff"/><stop offset="0.5923" stop-color="#f2f2ff"/><stop offset="0.5966" stop-color="#f2f2ff"/><stop offset="0.6009" stop-color="#f2f2ff"/><stop offset="0.6052" stop-color="#f2f2ff"/><stop offset="0.6094" stop-color="#f2f2ff"/><stop offset="0.6137" stop-color="#f3f3ff"/><stop offset="0.6180" stop-color="#f3f3ff"/><stop offset="0.6223" stop-color="#f3f3ff"/><stop offset="0.6266" stop-color="#f3f3ff"/><stop offset="0.6309" stop-color="#f3f3ff"/><stop offset="0.6352" stop-color="#f3f3ff"/><stop offset="0.6395" stop-color="#f3f3ff"/><stop offset="0.6438" stop-color="#f3f3ff"/><stop offset="0.6481" stop-color="#f3f3ff"/><stop offset="0.6524" stop-color="#f4f4ff"/><stop offset="0.6567" stop-color="#f4f4ff"/><stop offset="0.6609" stop-color="#f4f4ff"/><stop offset="0.6652" stop-color="#f4f4ff"/><stop offset="0.6695" stop-color="#f4f4ff"/><stop offset="0.6738" stop-color="#f4f4ff"/><stop offset="0.6781" stop-color="#f4f4ff"/><stop offset="0.6824" stop-color="#f4f4ff"/><stop offset="0.6867" stop-color="#f4f4ff"/><stop offset="0.6910" stop-color="#f4f4ff"/><stop offset="0.6953" stop-color="#f4f4ff"/><stop offset="0.6996" stop-color="#f4f4ff"/><stop offset="0.7039" stop-color="#f4f4ff"/><stop offset="0.7082" stop-color="#f4f4ff"/><stop offset="0.7124" stop-color="#f4f4ff"/><stop offset="0.7167" stop-color="#f4f4ff"/><stop offset="0.7210" stop-color="#f4f4ff"/><stop offset="0.7253" stop-color="#f4f4ff"/><stop offset="0.7296" stop-color="#f4f4ff"/><stop offset="0.7339" stop-color="#f4f4ff"/><stop offset="0.7382" stop-color="#f4f4ff"/><stop offset="0.7425" stop-color="#f4f4ff"/><stop offset="0.7468" stop-color="#f4f4ff"/><stop offset="0.7511" stop-color="#f4f4ff"/><stop offset="0.7554" stop-color="#f4f4ff"/><stop offset="0.7597" stop-color="#f4f4ff"/><stop offset="0.7639" stop-color="#f4f4ff"/><stop offset="0.7682" stop-color="#f4f4ff"/><stop offset="0.7725" stop-color="#f4f4ff"/><stop offset="0.7768" stop-color="#f4f4ff"/><stop offset="0.7811" stop-color="#f4f4ff"/><stop offset="0.7854" stop-color="#f4f4ff"/><stop offset="0.7897" stop-color="#f4f4ff"/><stop offset="0.7940" stop-color="#f4f4ff"/><stop offset="0.7983" stop-color="#f4f4ff"/><stop offset="0.8026" stop-color="#f4f4ff"/><stop offset="0.8069" stop-color="#f5f5ff"/><stop offset="0.8112" stop-color="#f5f5ff"/><stop offset="0.8155" stop-color="#f5f5ff"/><stop offset="0.8197" stop-color="#f5f5ff"/><stop offset="0.8240" stop-color="#f5f5ff"/><stop offset="0.8283" stop-color="#f5f5ff"/><stop offset="0.8326" stop-color="#f5f5ff"/><stop offset="0.8369" stop-color="#f5f5ff"/><stop offset="0.8412" stop-color="#f5f5ff"/><stop offset="0.8455" stop-color="#f5f5ff"/><stop offset="0.8498" stop-color="#f5f5ff"/><stop offset="0.8541" stop-color="#f5f5ff"/><stop offset="0.8584" stop-color="#f5f5ff"/><stop offset="0.8627" stop-color="#f5f5ff"/><stop offset="0.8670" stop-color="#f5f5ff"/><stop offset="0.8712" stop-color="#f5f5ff"/><stop offset="0.8755" stop-color="#f5f5ff"/><stop offset="0.8798" stop-color="#f5f5ff"/><stop offset="0.8841" stop-color="#f5f5ff"/><stop offset="0.8884" stop-color="#f5f5ff"/><stop offset="0.8927" stop-color="#f5f5ff"/><stop offset="0.8970" stop-color="#f6f6ff"/><stop offset="0.9013" stop-color="#f6f6ff"/><stop offset="0.9056" stop-color="#f6f6ff"/><stop offset="0.9099" stop-color="#f6f6ff"/><stop offset="0.9142" stop-color="#f6f6ff"/><stop offset="0.9185" stop-color="#f6f6ff"/><stop offset="0.9227" stop-color="#f6f6ff"/><stop offset="0.9270" stop-color="#f6f6ff"/><stop offset="0.9313" stop-color="#f6f6ff"/><stop offset="0.9356" stop-color="#f6f6ff"/><stop offset="0.9399" stop-color="#f6f6ff"/><stop offset="0.9442" stop-color="#f6f6ff"/><stop offset="0.9485" stop-color="#f6f6ff"/><stop offset="0.9528" stop-color="#f6f6ff"/><stop offset="0.9571" stop-color="#f6f6ff"/><stop offset="0.9614" stop-color="#f6f6ff"/><stop offset="0.9657" stop-color="#f6f6ff"/><stop offset="0.9700" stop-color="#f6f6ff"/><stop offset="0.9742" stop-color="#f6f6ff"/><stop offset="0.9785" stop-color="#f6f6ff"/><stop offset="0.9828" stop-color="#f6f6ff"/><stop offset="0.9871" stop-color="#f6f6ff"/><stop offset="0.9914" stop-color="#f6f6ff"/><stop offset="0.9957" stop-color="#f6f6ff"/><stop offset="1.0000" stop-color="#f6f6ff"/></linearGradient>
<linearGradient id="gc2" gradientUnits="userSpaceOnUse" x1="47.00" y1="0" x2="279.00" y2="0"><stop offset="0.0000" stop-color="#ffffff"/><stop offset="0.0043" stop-color="#ffffff"/><stop offset="0.0086" stop-color="#ffffff"/><stop offset="0.0129" stop-color="#ffffff"/><stop offset="0.0172" stop-color="#ffffff"/><stop offset="0.0215" stop-color="#ffffff"/><stop offset="0.0258" stop-color="#ffffff"/><stop offset="0.0300" stop-color="#ffffff"/><stop offset="0.0343" stop-color="#ffffff"/><stop offset="0.0386" stop-color="#ffffff"/><stop offset="0.0429" stop-color="#ffffff"/><stop offset="0.0472" stop-color="#ffffff"/><stop offset="0.0515" stop-color="#ffffff"/><stop offset="0.0558" stop-color="#ffffff"/><stop offset="0.0601" stop-color="#ffffff"/><stop offset="0.0644" stop-color="#ffffff"/><stop offset="0.0687" stop-color="#ffffff"/><stop offset="0.0730" stop-color="#ffffff"/><stop offset="0.0773" stop-color="#ffffff"/><stop offset="0.0815" stop-color="#ffffff"/><stop offset="0.0858" stop-color="#ffffff"/><stop offset="0.0901" stop-color="#ffffff"/><stop offset="0.0944" stop-color="#ffffff"/><stop offset="0.0987" stop-color="#ffffff"/><stop offset="0.1030" stop-color="#ffffff"/><stop offset="0.1073" stop-color="#ffffff"/><stop offset="0.1116" stop-color="#ffffff"/><stop offset="0.1159" stop-color="#ffffff"/><stop offset="0.1202" stop-color="#ffffff"/><stop offset="0.1245" stop-color="#ffffff"/><stop offset="0.1288" stop-color="#ffffff"/><stop offset="0.1330" stop-color="#ffffff"/><stop offset="0.1373" stop-color="#ffffff"/><stop offset="0.1416" stop-color="#ffffff"/><stop offset="0.1459" stop-color="#ffffff"/><stop offset="0.1502" stop-color="#ffffff"/><stop offset="0.1545" stop-color="#ffffff"/><stop offset="0.1588" stop-color="#ffffff"/><stop offset="0.1631" stop-color="#ffffff"/><stop offset="0.1674" stop-color="#ffffff"/><stop offset="0.1717" stop-color="#fffbfb"/><stop offset="0.1760" stop-color="#ffeded"/><stop offset="0.1803" stop-color="#ffe0e0"/><stop offset="0.1845" stop-color="#ffd2d2"/><stop offset="0.1888" stop-color="#ffc5c5"/><stop offset="0.1931" stop-color="#ffb8b8"/><stop offset="0.1974" stop-color="#ffacac"/><stop offset="0.2017" stop-color="#ff9f9f"/><stop offset="0.2060" stop-color="#ff9393"/><stop offset="0.2103" stop-color="#ff8888"/><stop offset="0.2146" stop-color="#ff7d7d"/><stop offset="0.2189" stop-color="#ff7272"/><stop offset="0.2232" stop-color="#ff6868"/><stop offset="0.2275" stop-color="#ff5f5f"/><stop offset="0.2318" stop-color="#ff5656"/><stop offset="0.2361" stop-color="#ff4e4e"/><stop offset="0.2403" stop-color="#ff4646"/><stop offset="0.2446" stop-color="#ff3f3f"/><stop offset="0.2489" stop-color="#ff4141"/><stop offset="0.2532" stop-color="#ff4646"/><stop offset="0.2575" stop-color="#ff4b4b"/><stop offset="0.2618" stop-color="#ff5151"/><stop offset="0.2661" stop-color="#ff5757"/><stop offset="0.2704" stop-color="#ff5d5d"/><stop offset="0.2747" stop-color="#ff6363"/><stop offset="0.2790" stop-color="#ff6a6a"/><stop offset="0.2833" stop-color="#ff7171"/><stop offset="0.2876" stop-color="#ff7878"/><stop offset="0.2918" stop-color="#ff8080"/><stop offset="0.2961" stop-color="#ff8888"/><stop offset="0.3004" stop-color="#ff9090"/><stop offset="0.3047" stop-color="#ff9898"/><stop offset="0.3090" stop-color="#ffa0a0"/><stop offset="0.3133" stop-color="#ffa9a9"/><stop offset="0.3176" stop-color="#ffb2b2"/><stop offset="0.3219" stop-color="#ffbbbb"/><stop offset="0.3262" stop-color="#ffc4c4"/><stop offset="0.3305" stop-color="#ffcdcd"/><stop offset="0.3348" stop-color="#ffd6d6"/><stop offset="0.3391" stop-color="#ffdfdf"/><stop offset="0.3433" stop-color="#ffe9e9"/><stop offset="0.3476" stop-color="#fff2f2"/><stop offset="0.3519" stop-color="#fffcfc"/><stop offset="0.3562" stop-color="#fdfdff"/><stop offset="0.3605" stop-color="#fafaff"/><stop offset="0.3648" stop-color="#f7f7ff"/><stop offset="0.3691" stop-color="#f5f5ff"/><stop offset="0.3734" stop-color="#f5f5ff"/><stop offset="0.3777" stop-color="#f4f4ff"/><stop offset="0.3820" stop-color="#f3f3ff"/><stop offset="0.3863" stop-color="#f1f1ff"/><stop offset="0.3906" stop-color="#efefff"/><stop offset="0.3948" stop-color="#ededff"/><stop offset="0.3991" stop-color="#eaeaff"/><stop offset="0.4034" stop-color="#e8e8ff"/><stop offset="0.4077" stop-color="#e5e5ff"/><stop offset="0.4120" stop-color="#e3e3ff"/><stop offset="0.4163" stop-color="#e0e0ff"/><stop offset="0.4206" stop-color="#dedeff"/><stop offset="0.4249" stop-color="#ddddff"/><stop offset="0.4292" stop-color="#dcdcff"/><stop offset="0.4335" stop-color="#dbdbff"/><stop offset="0.4378" stop-color="#dbdbff"/><stop offset="0.4421" stop-color="#dcdcff"/><stop offset="0.4464" stop-color="#dcdcff"/><stop offset="0.4506" stop-color="#ddddff"/><stop offset="0.4549" stop-color="#dedeff"/><stop offset="0.4592" stop-color="#dfdfff"/><stop offset="0.4635" stop-color="#e1e1ff"/><stop offset="0.4678" stop-color="#e2e2ff"/><stop offset="0.4721" stop-color="#e4e4ff"/><stop offset="0.4764" stop-color="#e6e6ff"/><stop offset="0.4807" stop-color="#e7e7ff"/><stop offset="0.4850" stop-color="#e9e9ff"/><stop offset="0.4893" stop-color="#eaeaff"/><stop offset="0.4936" stop-color="#ececff"/><stop offset="0.4979" stop-color="#ededff"/><stop offset="0.5021" stop-color="#eeeeff"/><stop offset="0.5064" stop-color="#efefff"/><stop offset="0.5107" stop-color="#efefff"/><stop offset="0.5150" stop-color="#f0f0ff"/><stop offset="0.5193" stop-color="#f0f0ff"/><stop offset="0.5236" stop-color="#f0f0ff"/><stop offset="0.5279" stop-color="#f0f0ff"/><stop offset="0.5322" stop-color="#f0f0ff"/><stop offset="0.5365" stop-color="#f0f0ff"/><stop offset="0.5408" stop-color="#f0f0ff"/><stop offset="0.5451" stop-color="#f0f0ff"/><stop offset="0.5494" stop-color="#f0f0ff"/><stop offset="0.5536" stop-color="#f0f0ff"/><stop offset="0.5579" stop-color="#f0f0ff"/><stop offset="0.5622" stop-color="#f1f1ff"/><stop offset="0.5665" stop-color="#f1f1ff"/><stop offset="0.5708" stop-color="#f1f1ff"/><stop offset="0.5751" stop-color="#f1f1ff"/><stop offset="0.5794" stop-color="#f1f1ff"/><stop offset="0.5837" stop-color="#f1f1ff"/><stop offset="0.5880" stop-color="#f2f2ff"/><stop offset="0.5923" stop-color="#f2f2ff"/><stop offset="0.5966" stop-color="#f2f2ff"/><stop offset="0.6009" stop-color="#f2f2ff"/><stop offset="0.6052" stop-color="#f2f2ff"/><stop offset="0.6094" stop-color="#f2f2ff"/><stop offset="0.6137" stop-color="#f3f3ff"/><stop offset="0.6180" stop-color="#f3f3ff"/><stop offset="0.6223" stop-color="#f3f3ff"/><stop offset="0.6266" stop-color="#f3f3ff"/><stop offset="0.6309" stop-color="#f3f3ff"/><stop offset="0.6352" stop-color="#f3f3ff"/><stop offset="0.6395" stop-color="#f3f3ff"/><stop offset="0.6438" stop-color="#f3f3ff"/><stop offset="0.6481" stop-color="#f3f3ff"/><stop offset="0.6524" stop-color="#f4f4ff"/><stop offset="0.6567" stop-color="#f4f4ff"/><stop offset="0.6609" stop-color="#f4f4ff"/><stop offset="0.6652" stop-color="#f4f4ff"/><stop offset="0.6695" stop-color="#f4f4ff"/><stop offset="0.6738" stop-color="#f4f4ff"/><stop offset="0.6781" stop-color="#f4f4ff"/><stop offset="0.6824" stop-color="#f4f4ff"/><stop offset="0.6867" stop-color="#f4f4ff"/><stop offset="0.6910" stop-color="#f4f4ff"/><stop offset="0.6953" stop-color="#f4f4ff"/><stop offset="0.6996" stop-color="#f4f4ff"/><stop offset="0.7039" stop-color="#f4f4ff"/><stop offset="0.7082" stop-color="#f4f4ff"/><stop offset="0.7124" stop-color="#f4f4ff"/><stop offset="0.7167" stop-color="#f4f4ff"/><stop offset="0.7210" stop-color="#f4f4ff"/><stop offset="0.7253" stop-color="#f4f4ff"/><stop offset="0.7296" stop-color="#f4f4ff"/><stop offset="0.7339" stop-color="#f4f4ff"/><stop offset="0.7382" stop-color="#f4f4ff"/><stop offset="0.7425" stop-color="#f4f4ff"/><stop offset="0.7468" stop-color="#f4f4ff"/><stop offset="0.7511" stop-color="#f4f4ff"/><stop offset="0.7554" stop-color="#f4f4ff"/><stop offset="0.7597" stop-color="#f4f4ff"/><stop offset="0.7639" stop-color="#f4f4ff"/><stop offset="0.7682" stop-color="#f4f4ff"/><stop offset="0.7725" stop-color="#f4f4ff"/><stop offset="0.7768" stop-color="#f4f4ff"/><stop offset="0.7811" stop-color="#f4f4ff"/><stop offset="0.7854" stop-color="#f4f4ff"/><stop offset="0.7897" stop-color="#f4f4ff"/><stop offset="0.7940" stop-color="#f4f4ff"/><stop offset="0.7983" stop-color="#f4f4ff"/><stop offset="0.8026" stop-color="#f4f4ff"/><stop offset="0.8069" stop-color="#f5f5ff"/><stop offset="0.8112" stop-color="#f5f5ff"/><stop offset="0.8155" stop-color="#f5f5ff"/><stop offset="0.8197" stop-color="#f5f5ff"/><stop offset="0.8240" stop-color="#f5f5ff"/><stop offset="0.8283" stop-color="#f5f5ff"/><stop offset="0.8326" stop-color="#f5f5ff"/><stop offset="0.8369" stop-color="#f5f5ff"/><stop offset="0.8412" stop-color="#f5f5ff"/><stop offset="0.8455" stop-color="#f5f5ff"/><stop offset="0.8498" stop-color="#f5f5ff"/><stop offset="0.8541" stop-color="#f5f5ff"/><stop offset="0.8584" stop-color="#f5f5ff"/><stop offset="0.8627" stop-color="#f5f5ff"/><stop offset="0.8670" stop-color="#f5f5ff"/><stop offset="0.8712" stop-color="#f5f5ff"/><stop offset="0.8755" stop-color="#f5f5ff"/><stop offset="0.8798" stop-color="#f5f5ff"/><stop offset="0.8841" stop-color="#f5f5ff"/><stop offset="0.8884" stop-color="#f5f5ff"/><stop offset="0.8927" stop-color="#f5f5ff"/><stop offset="0.8970" stop-color="#f6f6ff"/><stop offset="0.9013" stop-color="#f6f6ff"/><stop offset="0.9056" stop-color="#f6f6ff"/><stop offset="0.9099" stop-color="#f6f6ff"/><stop offset="0.9142" stop-color="#f6f6ff"/><stop offset="0.9185" stop-color="#f6f6ff"/><stop offset="0.9227" stop-color="#f6f6ff"/><stop offset="0.9270" stop-color="#f6f6ff"/><stop offset="0.9313" stop-color="#f6f6ff"/><stop offset="0.9356" stop-color="#f6f6ff"/><stop offset="0.9399" stop-color="#f6f6ff"/><stop offset="0.9442" stop-color="#f6f6ff"/><stop offset="0.9485" stop-color="#f6f6ff"/><stop offset="0.9528" stop-color="#f6f6ff"/><stop offset="0.9571" stop-color="#f6f6ff"/><stop offset="0.9614" stop-color="#f6f6ff"/><stop offset="0.9657" stop-color="#f6f6ff"/><stop offset="0.9700" stop-color="#f6f6ff"/><stop offset="0.9742" stop-color="#f6f6ff"/><stop offset="0.9785" stop-color="#f6f6ff"/><stop offset="0.9828" stop-color="#f6f6ff"/><stop offset="0.9871" stop-color="#f6f6ff"/><stop offset="0.9914" stop-color="#f6f6ff"/><stop offset="0.9957" stop-color="#f6f6ff"/><stop offset="1.0000" stop-color="#f6f6ff"/></linearGradient>
<linearGradient id="gcm" gradientUnits="userSpaceOnUse" x1="0" y1="167.00" x2="0" y2="324.30"><stop offset="0.0000" stop-color="#ffffff" stop-opacity="0.000"/><stop offset="0.0127" stop-color="#ffffff" stop-opacity="0.000"/><stop offset="0.0253" stop-color="#ffffff" stop-opacity="0.000"/><stop offset="0.0380" stop-color="#ffffff" stop-opacity="0.000"/><stop offset="0.0506" stop-color="#ffffff" stop-opacity="0.000"/><stop offset="0.0633" stop-color="#ffffff" stop-opacity="0.000"/><stop offset="0.0759" stop-color="#ffffff" stop-opacity="0.000"/><stop offset="0.0886" stop-color="#ffffff" stop-opacity="0.000"/><stop offset="0.1013" stop-color="#ffffff" stop-opacity="0.000"/><stop offset="0.1139" stop-color="#ffffff" stop-opacity="0.000"/><stop offset="0.1266" stop-color="#ffffff" stop-opacity="0.000"/><stop offset="0.1392" stop-color="#ffffff" stop-opacity="0.042"/><stop offset="0.1519" stop-color="#ffffff" stop-opacity="0.087"/><stop offset="0.1646" stop-color="#ffffff" stop-opacity="0.131"/><stop offset="0.1772" stop-color="#ffffff" stop-opacity="0.175"/><stop offset="0.1899" stop-color="#ffffff" stop-opacity="0.219"/><stop offset="0.2025" stop-color="#ffffff" stop-opacity="0.264"/><stop offset="0.2152" stop-color="#ffffff" stop-opacity="0.308"/><stop offset="0.2278" stop-color="#ffffff" stop-opacity="0.352"/><stop offset="0.2405" stop-color="#ffffff" stop-opacity="0.396"/><stop offset="0.2532" stop-color="#ffffff" stop-opacity="0.441"/><stop offset="0.2658" stop-color="#ffffff" stop-opacity="0.485"/><stop offset="0.2785" stop-color="#ffffff" stop-opacity="0.529"/><stop offset="0.2911" stop-color="#ffffff" stop-opacity="0.573"/><stop offset="0.3038" stop-color="#ffffff" stop-opacity="0.617"/><stop offset="0.3165" stop-color="#ffffff" stop-opacity="0.662"/><stop offset="0.3291" stop-color="#ffffff" stop-opacity="0.706"/><stop offset="0.3418" stop-color="#ffffff" stop-opacity="0.750"/><stop offset="0.3544" stop-color="#ffffff" stop-opacity="0.794"/><stop offset="0.3671" stop-color="#ffffff" stop-opacity="0.839"/><stop offset="0.3797" stop-color="#ffffff" stop-opacity="0.883"/><stop offset="0.3924" stop-color="#ffffff" stop-opacity="0.927"/><stop offset="0.4051" stop-color="#ffffff" stop-opacity="0.971"/><stop offset="0.4177" stop-color="#ffffff" stop-opacity="1.000"/><stop offset="0.4304" stop-color="#ffffff" stop-opacity="1.000"/><stop offset="0.4430" stop-color="#ffffff" stop-opacity="1.000"/><stop offset="0.4557" stop-color="#ffffff" stop-opacity="1.000"/><stop offset="0.4684" stop-color="#ffffff" stop-opacity="1.000"/><stop offset="0.4810" stop-color="#ffffff" stop-opacity="1.000"/><stop offset="0.4937" stop-color="#ffffff" stop-opacity="1.000"/><stop offset="0.5063" stop-color="#ffffff" stop-opacity="1.000"/><stop offset="0.5190" stop-color="#ffffff" stop-opacity="1.000"/><stop offset="0.5316" stop-color="#ffffff" stop-opacity="1.000"/><stop offset="0.5443" stop-color="#ffffff" stop-opacity="1.000"/><stop offset="0.5570" stop-color="#ffffff" stop-opacity="1.000"/><stop offset="0.5696" stop-color="#ffffff" stop-opacity="1.000"/><stop offset="0.5823" stop-color="#ffffff" stop-opacity="1.000"/><stop offset="0.5949" stop-color="#ffffff" stop-opacity="1.000"/><stop offset="0.6076" stop-color="#ffffff" stop-opacity="1.000"/><stop offset="0.6203" stop-color="#ffffff" stop-opacity="1.000"/><stop offset="0.6329" stop-color="#ffffff" stop-opacity="1.000"/><stop offset="0.6456" stop-color="#ffffff" stop-opacity="1.000"/><stop offset="0.6582" stop-color="#ffffff" stop-opacity="1.000"/><stop offset="0.6709" stop-color="#ffffff" stop-opacity="1.000"/><stop offset="0.6835" stop-color="#ffffff" stop-opacity="1.000"/><stop offset="0.6962" stop-color="#ffffff" stop-opacity="1.000"/><stop offset="0.7089" stop-color="#ffffff" stop-opacity="1.000"/><stop offset="0.7215" stop-color="#ffffff" stop-opacity="1.000"/><stop offset="0.7342" stop-color="#ffffff" stop-opacity="1.000"/><stop offset="0.7468" stop-color="#ffffff" stop-opacity="1.000"/><stop offset="0.7595" stop-color="#ffffff" stop-opacity="1.000"/><stop offset="0.7722" stop-color="#ffffff" stop-opacity="1.000"/><stop offset="0.7848" stop-color="#ffffff" stop-opacity="1.000"/><stop offset="0.7975" stop-color="#ffffff" stop-opacity="1.000"/><stop offset="0.8101" stop-color="#ffffff" stop-opacity="1.000"/><stop offset="0.8228" stop-color="#ffffff" stop-opacity="1.000"/><stop offset="0.8354" stop-color="#ffffff" stop-opacity="1.000"/><stop offset="0.8481" stop-color="#ffffff" stop-opacity="1.000"/><stop offset="0.8608" stop-color="#ffffff" stop-opacity="1.000"/><stop offset="0.8734" stop-color="#ffffff" stop-opacity="1.000"/><stop offset="0.8861" stop-color="#ffffff" stop-opacity="1.000"/><stop offset="0.8987" stop-color="#ffffff" stop-opacity="1.000"/><stop offset="0.9114" stop-color="#ffffff" stop-opacity="1.000"/><stop offset="0.9241" stop-color="#ffffff" stop-opacity="1.000"/><stop offset="0.9367" stop-color="#ffffff" stop-opacity="1.000"/><stop offset="0.9494" stop-color="#ffffff" stop-opacity="1.000"/><stop offset="0.9620" stop-color="#ffffff" stop-opacity="1.000"/><stop offset="0.9747" stop-color="#ffffff" stop-opacity="1.000"/><stop offset="0.9873" stop-color="#ffffff" stop-opacity="1.000"/><stop offset="1.0000" stop-color="#ffffff" stop-opacity="1.000"/></linearGradient>
<mask id="mc"><rect x="47.0" y="167.0" width="231.5" height="157.3" fill="url(#gcm)"/></mask>
<linearGradient id="gcb" gradientUnits="userSpaceOnUse" x1="64.00" y1="0" x2="87.00" y2="0"><stop offset="0.0000" stop-color="#0000ff"/><stop offset="0.0417" stop-color="#0101ff"/><stop offset="0.0833" stop-color="#0404ff"/><stop offset="0.1250" stop-color="#0707ff"/><stop offset="0.1667" stop-color="#0c0cff"/><stop offset="0.2083" stop-color="#1010ff"/><stop offset="0.2500" stop-color="#1313ff"/><stop offset="0.2917" stop-color="#1414ff"/><stop offset="0.3333" stop-color="#1616ff"/><stop offset="0.3750" stop-color="#2020ff"/><stop offset="0.4167" stop-color="#2f2fff"/><stop offset="0.4583" stop-color="#4040ff"/><stop offset="0.5000" stop-color="#4f4fff"/><stop offset="0.5417" stop-color="#5858ff"/><stop offset="0.5833" stop-color="#5b5bff"/><stop offset="0.6250" stop-color="#6969ff"/><stop offset="0.6667" stop-color="#8181ff"/><stop offset="0.7083" stop-color="#9b9bff"/><stop offset="0.7500" stop-color="#aeaeff"/><stop offset="0.7917" stop-color="#b5b5ff"/><stop offset="0.8333" stop-color="#c3c3ff"/><stop offset="0.8750" stop-color="#d5d5ff"/><stop offset="0.9167" stop-color="#eaeaff"/><stop offset="0.9583" stop-color="#ffffff"/><stop offset="1.0000" stop-color="#ffffff"/></linearGradient>
<linearGradient id="mc2g" gradientUnits="userSpaceOnUse" x1="0" y1="167.00" x2="0" y2="324.30"><stop offset="0.0000" stop-color="#ffffff" stop-opacity="0.518"/><stop offset="0.0127" stop-color="#ffffff" stop-opacity="0.536"/><stop offset="0.0253" stop-color="#ffffff" stop-opacity="0.553"/><stop offset="0.0380" stop-color="#ffffff" stop-opacity="0.570"/><stop offset="0.0506" stop-color="#ffffff" stop-opacity="0.588"/><stop offset="0.0633" stop-color="#ffffff" stop-opacity="0.606"/><stop offset="0.0759" stop-color="#ffffff" stop-opacity="0.623"/><stop offset="0.0886" stop-color="#ffffff" stop-opacity="0.641"/><stop offset="0.1013" stop-color="#ffffff" stop-opacity="0.658"/><stop offset="0.1139" stop-color="#ffffff" stop-opacity="0.676"/><stop offset="0.1266" stop-color="#ffffff" stop-opacity="0.693"/><stop offset="0.1392" stop-color="#ffffff" stop-opacity="0.710"/><stop offset="0.1519" stop-color="#ffffff" stop-opacity="0.727"/><stop offset="0.1646" stop-color="#ffffff" stop-opacity="0.744"/><stop offset="0.1772" stop-color="#ffffff" stop-opacity="0.760"/><stop offset="0.1899" stop-color="#ffffff" stop-opacity="0.777"/><stop offset="0.2025" stop-color="#ffffff" stop-opacity="0.792"/><stop offset="0.2152" stop-color="#ffffff" stop-opacity="0.808"/><stop offset="0.2278" stop-color="#ffffff" stop-opacity="0.823"/><stop offset="0.2405" stop-color="#ffffff" stop-opacity="0.838"/><stop offset="0.2532" stop-color="#ffffff" stop-opacity="0.852"/><stop offset="0.2658" stop-color="#ffffff" stop-opacity="0.866"/><stop offset="0.2785" stop-color="#ffffff" stop-opacity="0.879"/><stop offset="0.2911" stop-color="#ffffff" stop-opacity="0.892"/><stop offset="0.3038" stop-color="#ffffff" stop-opacity="0.904"/><stop offset="0.3165" stop-color="#ffffff" stop-opacity="0.915"/><stop offset="0.3291" stop-color="#ffffff" stop-opacity="0.926"/><stop offset="0.3418" stop-color="#ffffff" stop-opacity="0.936"/><stop offset="0.3544" stop-color="#ffffff" stop-opacity="0.946"/><stop offset="0.3671" stop-color="#ffffff" stop-opacity="0.955"/><stop offset="0.3797" stop-color="#ffffff" stop-opacity="0.963"/><stop offset="0.3924" stop-color="#ffffff" stop-opacity="0.970"/><stop offset="0.4051" stop-color="#ffffff" stop-opacity="0.977"/><stop offset="0.4177" stop-color="#ffffff" stop-opacity="0.982"/><stop offset="0.4304" stop-color="#ffffff" stop-opacity="0.987"/><stop offset="0.4430" stop-color="#ffffff" stop-opacity="0.992"/><stop offset="0.4557" stop-color="#ffffff" stop-opacity="0.995"/><stop offset="0.4684" stop-color="#ffffff" stop-opacity="0.997"/><stop offset="0.4810" stop-color="#ffffff" stop-opacity="0.999"/><stop offset="0.4937" stop-color="#ffffff" stop-opacity="1.000"/><stop offset="0.5063" stop-color="#ffffff" stop-opacity="1.000"/><stop offset="0.5190" stop-color="#ffffff" stop-opacity="0.999"/><stop offset="0.5316" stop-color="#ffffff" stop-opacity="0.997"/><stop offset="0.5443" stop-color="#ffffff" stop-opacity="0.995"/><stop offset="0.5570" stop-color="#ffffff" stop-opacity="0.992"/><stop offset="0.5696" stop-color="#ffffff" stop-opacity="0.987"/><stop offset="0.5823" stop-color="#ffffff" stop-opacity="0.982"/><stop offset="0.5949" stop-color="#ffffff" stop-opacity="0.977"/><stop offset="0.6076" stop-color="#ffffff" stop-opacity="0.970"/><stop offset="0.6203" stop-color="#ffffff" stop-opacity="0.963"/><stop offset="0.6329" stop-color="#ffffff" stop-opacity="0.955"/><stop offset="0.6456" stop-color="#ffffff" stop-opacity="0.946"/><stop offset="0.6582" stop-color="#ffffff" stop-opacity="0.936"/><stop offset="0.6709" stop-color="#ffffff" stop-opacity="0.926"/><stop offset="0.6835" stop-color="#ffffff" stop-opacity="0.915"/><stop offset="0.6962" stop-color="#ffffff" stop-opacity="0.904"/><stop offset="0.7089" stop-color="#ffffff" stop-opacity="0.892"/><stop offset="0.7215" stop-color="#ffffff" stop-opacity="0.879"/><stop offset="0.7342" stop-color="#ffffff" stop-opacity="0.866"/><stop offset="0.7468" stop-color="#ffffff" stop-opacity="0.852"/><stop offset="0.7595" stop-color="#ffffff" stop-opacity="0.838"/><stop offset="0.7722" stop-color="#ffffff" stop-opacity="0.823"/><stop offset="0.7848" stop-color="#ffffff" stop-opacity="0.808"/><stop offset="0.7975" stop-color="#ffffff" stop-opacity="0.792"/><stop offset="0.8101" stop-color="#ffffff" stop-opacity="0.777"/><stop offset="0.8228" stop-color="#ffffff" stop-opacity="0.760"/><stop offset="0.8354" stop-color="#ffffff" stop-opacity="0.744"/><stop offset="0.8481" stop-color="#ffffff" stop-opacity="0.727"/><stop offset="0.8608" stop-color="#ffffff" stop-opacity="0.710"/><stop offset="0.8734" stop-color="#ffffff" stop-opacity="0.693"/><stop offset="0.8861" stop-color="#ffffff" stop-opacity="0.676"/><stop offset="0.8987" stop-color="#ffffff" stop-opacity="0.658"/><stop offset="0.9114" stop-color="#ffffff" stop-opacity="0.641"/><stop offset="0.9241" stop-color="#ffffff" stop-opacity="0.623"/><stop offset="0.9367" stop-color="#ffffff" stop-opacity="0.606"/><stop offset="0.9494" stop-color="#ffffff" stop-opacity="0.588"/><stop offset="0.9620" stop-color="#ffffff" stop-opacity="0.570"/><stop offset="0.9747" stop-color="#ffffff" stop-opacity="0.553"/><stop offset="0.9873" stop-color="#ffffff" stop-opacity="0.536"/><stop offset="1.0000" stop-color="#ffffff" stop-opacity="0.518"/></linearGradient>
<mask id="mc2" maskUnits="userSpaceOnUse" x="47.0" y="167.0" width="231.5" height="157.3"><rect x="47.0" y="167.0" width="231.5" height="157.3" fill="url(#mc2g)"/></mask>
<clipPath id="nzc1"><path d="M47.0 167.0 L65.4 167.0 L65.5 169.0 L65.6 171.7 L65.7 174.9 L65.9 178.4 L66.1 182.0 L66.4 185.4 L66.8 188.7 L67.2 192.1 L67.6 195.5 L68.2 198.9 L68.8 202.4 L69.5 205.8 L70.4 209.2 L71.4 212.7 L72.4 216.2 L73.5 219.7 L74.6 222.9 L75.6 226.0 L76.5 228.9 L77.5 231.8 L78.4 234.5 L79.2 237.0 L79.9 239.2 L80.5 241.0 L80.9 242.4 L81.1 243.5 L81.2 244.3 L81.2 244.8 L81.3 245.3 L81.3 245.7 L81.1 246.2 L80.9 246.9 L80.6 247.8 L80.3 248.8 L79.9 249.9 L79.5 251.0 L79.0 252.1 L78.4 253.3 L77.8 254.5 L77.1 255.8 L76.3 257.3 L75.6 258.9 L74.8 260.7 L73.9 262.7 L73.0 264.8 L72.1 267.1 L71.2 269.5 L70.5 272.0 L69.9 274.7 L69.3 277.6 L68.8 280.6 L68.3 283.7 L67.9 286.8 L67.5 290.0 L67.2 293.3 L66.9 296.7 L66.6 300.2 L66.4 303.7 L66.2 307.0 L66.0 310.0 L65.8 312.9 L65.7 315.7 L65.6 318.4 L65.5 320.8 L65.5 322.8 L65.4 324.3 L47.0 324.3Z"/></clipPath>
<linearGradient id="gd" gradientUnits="userSpaceOnUse" x1="303.00" y1="0" x2="535.00" y2="0"><stop offset="0.0000" stop-color="#ffffff"/><stop offset="0.0065" stop-color="#ffffff"/><stop offset="0.0129" stop-color="#ffffff"/><stop offset="0.0194" stop-color="#ffffff"/><stop offset="0.0258" stop-color="#ffffff"/><stop offset="0.0323" stop-color="#ffffff"/><stop offset="0.0387" stop-color="#ffffff"/><stop offset="0.0452" stop-color="#ffffff"/><stop offset="0.0516" stop-color="#ffffff"/><stop offset="0.0581" stop-color="#ffffff"/><stop offset="0.0645" stop-color="#ffffff"/><stop offset="0.0710" stop-color="#ffffff"/><stop offset="0.0774" stop-color="#ffffff"/><stop offset="0.0839" stop-color="#ffffff"/><stop offset="0.0903" stop-color="#ffffff"/><stop offset="0.0968" stop-color="#ffffff"/><stop offset="0.1032" stop-color="#ffffff"/><stop offset="0.1097" stop-color="#ffffff"/><stop offset="0.1161" stop-color="#ffffff"/><stop offset="0.1226" stop-color="#ffffff"/><stop offset="0.1290" stop-color="#ffffff"/><stop offset="0.1355" stop-color="#ffffff"/><stop offset="0.1419" stop-color="#ffffff"/><stop offset="0.1484" stop-color="#ffffff"/><stop offset="0.1548" stop-color="#ffffff"/><stop offset="0.1613" stop-color="#ffffff"/><stop offset="0.1677" stop-color="#ffffff"/><stop offset="0.1742" stop-color="#ffffff"/><stop offset="0.1806" stop-color="#ffffff"/><stop offset="0.1871" stop-color="#ffffff"/><stop offset="0.1935" stop-color="#ffffff"/><stop offset="0.2000" stop-color="#ffffff"/><stop offset="0.2065" stop-color="#ffffff"/><stop offset="0.2129" stop-color="#ffffff"/><stop offset="0.2194" stop-color="#ffffff"/><stop offset="0.2258" stop-color="#ffffff"/><stop offset="0.2323" stop-color="#ffffff"/><stop offset="0.2387" stop-color="#ffffff"/><stop offset="0.2452" stop-color="#ffffff"/><stop offset="0.2516" stop-color="#ffffff"/><stop offset="0.2581" stop-color="#ffffff"/><stop offset="0.2645" stop-color="#ffffff"/><stop offset="0.2710" stop-color="#ffffff"/><stop offset="0.2774" stop-color="#ffffff"/><stop offset="0.2839" stop-color="#ffffff"/><stop offset="0.2903" stop-color="#ffffff"/><stop offset="0.2968" stop-color="#ffffff"/><stop offset="0.3032" stop-color="#ffffff"/><stop offset="0.3097" stop-color="#ffffff"/><stop offset="0.3161" stop-color="#ffffff"/><stop offset="0.3226" stop-color="#ffffff"/><stop offset="0.3290" stop-color="#ffffff"/><stop offset="0.3355" stop-color="#ffffff"/><stop offset="0.3419" stop-color="#ffffff"/><stop offset="0.3484" stop-color="#ffffff"/><stop offset="0.3548" stop-color="#ffffff"/><stop offset="0.3613" stop-color="#ffffff"/><stop offset="0.3677" stop-color="#ffffff"/><stop offset="0.3742" stop-color="#ffffff"/><stop offset="0.3806" stop-color="#ffffff"/><stop offset="0.3871" stop-color="#fffcfc"/><stop offset="0.3935" stop-color="#fff8f8"/><stop offset="0.4000" stop-color="#fff3f3"/><stop offset="0.4065" stop-color="#ffefef"/><stop offset="0.4129" stop-color="#ffebeb"/><stop offset="0.4194" stop-color="#ffe7e7"/><stop offset="0.4258" stop-color="#ffe4e4"/><stop offset="0.4323" stop-color="#ffe2e2"/><stop offset="0.4387" stop-color="#ffe0e0"/><stop offset="0.4452" stop-color="#ffe1e1"/><stop offset="0.4516" stop-color="#ffe1e1"/><stop offset="0.4581" stop-color="#ffe2e2"/><stop offset="0.4645" stop-color="#ffe3e3"/><stop offset="0.4710" stop-color="#ffe4e4"/><stop offset="0.4774" stop-color="#ffe6e6"/><stop offset="0.4839" stop-color="#ffe7e7"/><stop offset="0.4903" stop-color="#ffe9e9"/><stop offset="0.4968" stop-color="#ffeaea"/><stop offset="0.5032" stop-color="#ffecec"/><stop offset="0.5097" stop-color="#ffeded"/><stop offset="0.5161" stop-color="#ffeeee"/><stop offset="0.5226" stop-color="#ffefef"/><stop offset="0.5290" stop-color="#ffefef"/><stop offset="0.5355" stop-color="#fff0f0"/><stop offset="0.5419" stop-color="#fff0f0"/><stop offset="0.5484" stop-color="#fff0f0"/><stop offset="0.5548" stop-color="#fff0f0"/><stop offset="0.5613" stop-color="#fff0f0"/><stop offset="0.5677" stop-color="#fff0f0"/><stop offset="0.5742" stop-color="#fff0f0"/><stop offset="0.5806" stop-color="#fff0f0"/><stop offset="0.5871" stop-color="#fff0f0"/><stop offset="0.5935" stop-color="#fff1f1"/><stop offset="0.6000" stop-color="#fff1f1"/><stop offset="0.6065" stop-color="#fff1f1"/><stop offset="0.6129" stop-color="#fff1f1"/><stop offset="0.6194" stop-color="#fff1f1"/><stop offset="0.6258" stop-color="#fff1f1"/><stop offset="0.6323" stop-color="#fff2f2"/><stop offset="0.6387" stop-color="#fff2f2"/><stop offset="0.6452" stop-color="#fff2f2"/><stop offset="0.6516" stop-color="#fff2f2"/><stop offset="0.6581" stop-color="#fff2f2"/><stop offset="0.6645" stop-color="#fff2f2"/><stop offset="0.6710" stop-color="#fff2f2"/><stop offset="0.6774" stop-color="#fff2f2"/><stop offset="0.6839" stop-color="#fff2f2"/><stop offset="0.6903" stop-color="#fff2f2"/><stop offset="0.6968" stop-color="#fff2f2"/><stop offset="0.7032" stop-color="#fff2f2"/><stop offset="0.7097" stop-color="#fff2f2"/><stop offset="0.7161" stop-color="#fff2f2"/><stop offset="0.7226" stop-color="#fff2f2"/><stop offset="0.7290" stop-color="#fff2f2"/><stop offset="0.7355" stop-color="#fff2f2"/><stop offset="0.7419" stop-color="#fff2f2"/><stop offset="0.7484" stop-color="#fff2f2"/><stop offset="0.7548" stop-color="#fff2f2"/><stop offset="0.7613" stop-color="#fff2f2"/><stop offset="0.7677" stop-color="#fff2f2"/><stop offset="0.7742" stop-color="#fff3f3"/><stop offset="0.7806" stop-color="#fff3f3"/><stop offset="0.7871" stop-color="#fff3f3"/><stop offset="0.7935" stop-color="#fff3f3"/><stop offset="0.8000" stop-color="#fff3f3"/><stop offset="0.8065" stop-color="#fff3f3"/><stop offset="0.8129" stop-color="#fff3f3"/><stop offset="0.8194" stop-color="#fff3f3"/><stop offset="0.8258" stop-color="#fff3f3"/><stop offset="0.8323" stop-color="#fff3f3"/><stop offset="0.8387" stop-color="#fff3f3"/><stop offset="0.8452" stop-color="#fff3f3"/><stop offset="0.8516" stop-color="#fff3f3"/><stop offset="0.8581" stop-color="#fff3f3"/><stop offset="0.8645" stop-color="#fff3f3"/><stop offset="0.8710" stop-color="#fff3f3"/><stop offset="0.8774" stop-color="#fff3f3"/><stop offset="0.8839" stop-color="#fff3f3"/><stop offset="0.8903" stop-color="#fff3f3"/><stop offset="0.8968" stop-color="#fff3f3"/><stop offset="0.9032" stop-color="#fff3f3"/><stop offset="0.9097" stop-color="#fff3f3"/><stop offset="0.9161" stop-color="#fff3f3"/><stop offset="0.9226" stop-color="#fff3f3"/><stop offset="0.9290" stop-color="#fff3f3"/><stop offset="0.9355" stop-color="#fff3f3"/><stop offset="0.9419" stop-color="#fff3f3"/><stop offset="0.9484" stop-color="#fff3f3"/><stop offset="0.9548" stop-color="#fff3f3"/><stop offset="0.9613" stop-color="#fff3f3"/><stop offset="0.9677" stop-color="#fff3f3"/><stop offset="0.9742" stop-color="#fff4f4"/><stop offset="0.9806" stop-color="#fff4f4"/><stop offset="0.9871" stop-color="#fff4f4"/><stop offset="0.9935" stop-color="#fff4f4"/><stop offset="1.0000" stop-color="#fff4f4"/></linearGradient>
<linearGradient id="gdb1" gradientUnits="userSpaceOnUse" x1="320.00" y1="0" x2="389.00" y2="0"><stop offset="0.0000" stop-color="#babaff"/><stop offset="0.0143" stop-color="#babaff"/><stop offset="0.0286" stop-color="#babaff"/><stop offset="0.0429" stop-color="#babaff"/><stop offset="0.0571" stop-color="#babaff"/><stop offset="0.0714" stop-color="#babaff"/><stop offset="0.0857" stop-color="#babaff"/><stop offset="0.1000" stop-color="#babaff"/><stop offset="0.1143" stop-color="#babaff"/><stop offset="0.1286" stop-color="#babaff"/><stop offset="0.1429" stop-color="#babaff"/><stop offset="0.1571" stop-color="#babaff"/><stop offset="0.1714" stop-color="#babaff"/><stop offset="0.1857" stop-color="#babaff"/><stop offset="0.2000" stop-color="#babaff"/><stop offset="0.2143" stop-color="#babaff"/><stop offset="0.2286" stop-color="#babaff"/><stop offset="0.2429" stop-color="#babaff"/><stop offset="0.2571" stop-color="#babaff"/><stop offset="0.2714" stop-color="#babaff"/><stop offset="0.2857" stop-color="#babaff"/><stop offset="0.3000" stop-color="#babaff"/><stop offset="0.3143" stop-color="#babaff"/><stop offset="0.3286" stop-color="#babaff"/><stop offset="0.3429" stop-color="#babaff"/><stop offset="0.3571" stop-color="#babaff"/><stop offset="0.3714" stop-color="#babaff"/><stop offset="0.3857" stop-color="#babaff"/><stop offset="0.4000" stop-color="#babaff"/><stop offset="0.4143" stop-color="#babaff"/><stop offset="0.4286" stop-color="#babaff"/><stop offset="0.4429" stop-color="#babaff"/><stop offset="0.4571" stop-color="#babaff"/><stop offset="0.4714" stop-color="#babaff"/><stop offset="0.4857" stop-color="#babaff"/><stop offset="0.5000" stop-color="#babaff"/><stop offset="0.5143" stop-color="#babaff"/><stop offset="0.5286" stop-color="#babaff"/><stop offset="0.5429" stop-color="#babaff"/><stop offset="0.5571" stop-color="#babaff"/><stop offset="0.5714" stop-color="#bbbbff"/><stop offset="0.5857" stop-color="#bbbbff"/><stop offset="0.6000" stop-color="#bcbcff"/><stop offset="0.6143" stop-color="#bebeff"/><stop offset="0.6286" stop-color="#bfbfff"/><stop offset="0.6429" stop-color="#c1c1ff"/><stop offset="0.6571" stop-color="#c3c3ff"/><stop offset="0.6714" stop-color="#c5c5ff"/><stop offset="0.6857" stop-color="#c7c7ff"/><stop offset="0.7000" stop-color="#c9c9ff"/><stop offset="0.7143" stop-color="#cbcbff"/><stop offset="0.7286" stop-color="#cdcdff"/><stop offset="0.7429" stop-color="#ceceff"/><stop offset="0.7571" stop-color="#d0d0ff"/><stop offset="0.7714" stop-color="#d0d0ff"/><stop offset="0.7857" stop-color="#d1d1ff"/><stop offset="0.8000" stop-color="#d2d2ff"/><stop offset="0.8143" stop-color="#d4d4ff"/><stop offset="0.8286" stop-color="#d6d6ff"/><stop offset="0.8429" stop-color="#d9d9ff"/><stop offset="0.8571" stop-color="#dcdcff"/><stop offset="0.8714" stop-color="#dfdfff"/><stop offset="0.8857" stop-color="#e3e3ff"/><stop offset="0.9000" stop-color="#e6e6ff"/><stop offset="0.9143" stop-color="#eaeaff"/><stop offset="0.9286" stop-color="#eeeeff"/><stop offset="0.9429" stop-color="#f2f2ff"/><stop offset="0.9571" stop-color="#f7f7ff"/><stop offset="0.9714" stop-color="#fbfbff"/><stop offset="0.9857" stop-color="#ffffff"/><stop offset="1.0000" stop-color="#ffffff"/></linearGradient>
<linearGradient id="gdb2" gradientUnits="userSpaceOnUse" x1="350.00" y1="0" x2="389.00" y2="0"><stop offset="0.0000" stop-color="#0000ff"/><stop offset="0.0250" stop-color="#0000ff"/><stop offset="0.0500" stop-color="#0101ff"/><stop offset="0.0750" stop-color="#0303ff"/><stop offset="0.1000" stop-color="#0505ff"/><stop offset="0.1250" stop-color="#0707ff"/><stop offset="0.1500" stop-color="#0a0aff"/><stop offset="0.1750" stop-color="#0c0cff"/><stop offset="0.2000" stop-color="#0f0fff"/><stop offset="0.2250" stop-color="#1111ff"/><stop offset="0.2500" stop-color="#1313ff"/><stop offset="0.2750" stop-color="#1414ff"/><stop offset="0.3000" stop-color="#1414ff"/><stop offset="0.3250" stop-color="#1515ff"/><stop offset="0.3500" stop-color="#1a1aff"/><stop offset="0.3750" stop-color="#2121ff"/><stop offset="0.4000" stop-color="#2a2aff"/><stop offset="0.4250" stop-color="#3434ff"/><stop offset="0.4500" stop-color="#3c3cff"/><stop offset="0.4750" stop-color="#4343ff"/><stop offset="0.5000" stop-color="#4747ff"/><stop offset="0.5250" stop-color="#4848ff"/><stop offset="0.5500" stop-color="#4d4dff"/><stop offset="0.5750" stop-color="#5757ff"/><stop offset="0.6000" stop-color="#6565ff"/><stop offset="0.6250" stop-color="#7373ff"/><stop offset="0.6500" stop-color="#8181ff"/><stop offset="0.6750" stop-color="#8c8cff"/><stop offset="0.7000" stop-color="#9292ff"/><stop offset="0.7250" stop-color="#9494ff"/><stop offset="0.7500" stop-color="#9b9bff"/><stop offset="0.7750" stop-color="#a9a9ff"/><stop offset="0.8000" stop-color="#babaff"/><stop offset="0.8250" stop-color="#cacaff"/><stop offset="0.8500" stop-color="#d5d5ff"/><stop offset="0.8750" stop-color="#d9d9ff"/><stop offset="0.9000" stop-color="#e0e0ff"/><stop offset="0.9250" stop-color="#e9e9ff"/><stop offset="0.9500" stop-color="#f4f4ff"/><stop offset="0.9750" stop-color="#ffffff"/><stop offset="1.0000" stop-color="#ffffff"/></linearGradient>
<linearGradient id="gdm" gradientUnits="userSpaceOnUse" x1="0" y1="166.00" x2="0" y2="323.30"><stop offset="0.0000" stop-color="#ffffff" stop-opacity="0.000"/><stop offset="0.0127" stop-color="#ffffff" stop-opacity="0.000"/><stop offset="0.0253" stop-color="#ffffff" stop-opacity="0.000"/><stop offset="0.0380" stop-color="#ffffff" stop-opacity="0.000"/><stop offset="0.0506" stop-color="#ffffff" stop-opacity="0.000"/><stop offset="0.0633" stop-color="#ffffff" stop-opacity="0.000"/><stop offset="0.0759" stop-color="#ffffff" stop-opacity="0.000"/><stop offset="0.0886" stop-color="#ffffff" stop-opacity="0.000"/><stop offset="0.1013" stop-color="#ffffff" stop-opacity="0.000"/><stop offset="0.1139" stop-color="#ffffff" stop-opacity="0.000"/><stop offset="0.1266" stop-color="#ffffff" stop-opacity="0.000"/><stop offset="0.1392" stop-color="#ffffff" stop-opacity="0.000"/><stop offset="0.1519" stop-color="#ffffff" stop-opacity="0.059"/><stop offset="0.1646" stop-color="#ffffff" stop-opacity="0.121"/><stop offset="0.1772" stop-color="#ffffff" stop-opacity="0.184"/><stop offset="0.1899" stop-color="#ffffff" stop-opacity="0.246"/><stop offset="0.2025" stop-color="#ffffff" stop-opacity="0.308"/><stop offset="0.2152" stop-color="#ffffff" stop-opacity="0.370"/><stop offset="0.2278" stop-color="#ffffff" stop-opacity="0.433"/><stop offset="0.2405" stop-color="#ffffff" stop-opacity="0.495"/><stop offset="0.2532" stop-color="#ffffff" stop-opacity="0.557"/><stop offset="0.2658" stop-color="#ffffff" stop-opacity="0.619"/><stop offset="0.2785" stop-color="#ffffff" stop-opacity="0.681"/><stop offset="0.2911" stop-color="#ffffff" stop-opacity="0.744"/><stop offset="0.3038" stop-color="#ffffff" stop-opacity="0.806"/><stop offset="0.3165" stop-color="#ffffff" stop-opacity="0.868"/><stop offset="0.3291" stop-color="#ffffff" stop-opacity="0.930"/><stop offset="0.3418" stop-color="#ffffff" stop-opacity="0.993"/><stop offset="0.3544" stop-color="#ffffff" stop-opacity="1.000"/><stop offset="0.3671" stop-color="#ffffff" stop-opacity="1.000"/><stop offset="0.3797" stop-color="#ffffff" stop-opacity="1.000"/><stop offset="0.3924" stop-color="#ffffff" stop-opacity="1.000"/><stop offset="0.4051" stop-color="#ffffff" stop-opacity="1.000"/><stop offset="0.4177" stop-color="#ffffff" stop-opacity="1.000"/><stop offset="0.4304" stop-color="#ffffff" stop-opacity="1.000"/><stop offset="0.4430" stop-color="#ffffff" stop-opacity="1.000"/><stop offset="0.4557" stop-color="#ffffff" stop-opacity="1.000"/><stop offset="0.4684" stop-color="#ffffff" stop-opacity="1.000"/><stop offset="0.4810" stop-color="#ffffff" stop-opacity="1.000"/><stop offset="0.4937" stop-color="#ffffff" stop-opacity="1.000"/><stop offset="0.5063" stop-color="#ffffff" stop-opacity="1.000"/><stop offset="0.5190" stop-color="#ffffff" stop-opacity="1.000"/><stop offset="0.5316" stop-color="#ffffff" stop-opacity="1.000"/><stop offset="0.5443" stop-color="#ffffff" stop-opacity="1.000"/><stop offset="0.5570" stop-color="#ffffff" stop-opacity="1.000"/><stop offset="0.5696" stop-color="#ffffff" stop-opacity="1.000"/><stop offset="0.5823" stop-color="#ffffff" stop-opacity="1.000"/><stop offset="0.5949" stop-color="#ffffff" stop-opacity="1.000"/><stop offset="0.6076" stop-color="#ffffff" stop-opacity="1.000"/><stop offset="0.6203" stop-color="#ffffff" stop-opacity="1.000"/><stop offset="0.6329" stop-color="#ffffff" stop-opacity="1.000"/><stop offset="0.6456" stop-color="#ffffff" stop-opacity="1.000"/><stop offset="0.6582" stop-color="#ffffff" stop-opacity="1.000"/><stop offset="0.6709" stop-color="#ffffff" stop-opacity="1.000"/><stop offset="0.6835" stop-color="#ffffff" stop-opacity="1.000"/><stop offset="0.6962" stop-color="#ffffff" stop-opacity="1.000"/><stop offset="0.7089" stop-color="#ffffff" stop-opacity="1.000"/><stop offset="0.7215" stop-color="#ffffff" stop-opacity="1.000"/><stop offset="0.7342" stop-color="#ffffff" stop-opacity="1.000"/><stop offset="0.7468" stop-color="#ffffff" stop-opacity="1.000"/><stop offset="0.7595" stop-color="#ffffff" stop-opacity="1.000"/><stop offset="0.7722" stop-color="#ffffff" stop-opacity="1.000"/><stop offset="0.7848" stop-color="#ffffff" stop-opacity="1.000"/><stop offset="0.7975" stop-color="#ffffff" stop-opacity="1.000"/><stop offset="0.8101" stop-color="#ffffff" stop-opacity="1.000"/><stop offset="0.8228" stop-color="#ffffff" stop-opacity="1.000"/><stop offset="0.8354" stop-color="#ffffff" stop-opacity="1.000"/><stop offset="0.8481" stop-color="#ffffff" stop-opacity="1.000"/><stop offset="0.8608" stop-color="#ffffff" stop-opacity="1.000"/><stop offset="0.8734" stop-color="#ffffff" stop-opacity="1.000"/><stop offset="0.8861" stop-color="#ffffff" stop-opacity="1.000"/><stop offset="0.8987" stop-color="#ffffff" stop-opacity="1.000"/><stop offset="0.9114" stop-color="#ffffff" stop-opacity="1.000"/><stop offset="0.9241" stop-color="#ffffff" stop-opacity="1.000"/><stop offset="0.9367" stop-color="#ffffff" stop-opacity="1.000"/><stop offset="0.9494" stop-color="#ffffff" stop-opacity="1.000"/><stop offset="0.9620" stop-color="#ffffff" stop-opacity="1.000"/><stop offset="0.9747" stop-color="#ffffff" stop-opacity="1.000"/><stop offset="0.9873" stop-color="#ffffff" stop-opacity="1.000"/><stop offset="1.0000" stop-color="#ffffff" stop-opacity="1.000"/></linearGradient>
<mask id="md"><rect x="303.0" y="166.0" width="231.5" height="157.3" fill="url(#gdm)"/></mask>
<linearGradient id="gdg" gradientUnits="userSpaceOnUse" x1="315.00" y1="0" x2="362.00" y2="0"><stop offset="0.0000" stop-color="#a3a3a3"/><stop offset="0.0417" stop-color="#acacac"/><stop offset="0.0833" stop-color="#bababa"/><stop offset="0.1250" stop-color="#bdbdbd"/><stop offset="0.1667" stop-color="#c0c0c0"/><stop offset="0.2083" stop-color="#c4c4c4"/><stop offset="0.2500" stop-color="#c8c8c8"/><stop offset="0.2917" stop-color="#cbcbcb"/><stop offset="0.3333" stop-color="#cccccc"/><stop offset="0.3750" stop-color="#cdcdcd"/><stop offset="0.4167" stop-color="#cfcfcf"/><stop offset="0.4583" stop-color="#d1d1d1"/><stop offset="0.5000" stop-color="#d4d4d4"/><stop offset="0.5417" stop-color="#d6d6d6"/><stop offset="0.5833" stop-color="#d8d8d8"/><stop offset="0.6250" stop-color="#d9d9d9"/><stop offset="0.6667" stop-color="#d9d9d9"/><stop offset="0.7083" stop-color="#dadada"/><stop offset="0.7500" stop-color="#dbdbdb"/><stop offset="0.7917" stop-color="#dcdcdc"/><stop offset="0.8333" stop-color="#dedede"/><stop offset="0.8750" stop-color="#dfdfdf"/><stop offset="0.9167" stop-color="#e0e0e0"/><stop offset="0.9583" stop-color="#e0e0e0"/><stop offset="1.0000" stop-color="#e0e0e0"/></linearGradient>
<clipPath id="nzc2"><path d="M314.7 166.0 L324.3 166.7 L327.5 167.0 L327.4 170.6 L330.8 170.7 L330.9 174.1 L334.4 174.1 L334.6 177.4 L337.9 177.6 L338.0 181.0 L341.2 181.3 L341.3 184.7 L344.3 185.2 L344.5 188.5 L348.4 188.1 L348.0 192.0 L351.2 192.3 L351.1 195.9 L355.0 199.5 L357.1 205.0 L357.8 214.0 L358.2 225.0 L359.5 234.0 L361.2 241.8 L360.5 249.0 L359.2 256.0 L358.5 264.0 L358.0 271.0 L358.0 323.3 L314.7 323.3Z"/></clipPath>
<clipPath id="nzc3"><path d="M303.0 166.0 L314.9 166.0 L314.9 323.3 L303.0 323.3Z"/></clipPath>
<linearGradient id="ge" gradientUnits="userSpaceOnUse" x1="47.00" y1="0" x2="279.00" y2="0"><stop offset="0.0000" stop-color="#ffffff"/><stop offset="0.0065" stop-color="#ffffff"/><stop offset="0.0129" stop-color="#ffffff"/><stop offset="0.0194" stop-color="#ffffff"/><stop offset="0.0258" stop-color="#ffffff"/><stop offset="0.0323" stop-color="#ffffff"/><stop offset="0.0387" stop-color="#ffffff"/><stop offset="0.0452" stop-color="#ffffff"/><stop offset="0.0516" stop-color="#ffffff"/><stop offset="0.0581" stop-color="#ffffff"/><stop offset="0.0645" stop-color="#ffffff"/><stop offset="0.0710" stop-color="#ffffff"/><stop offset="0.0774" stop-color="#ffffff"/><stop offset="0.0839" stop-color="#ffffff"/><stop offset="0.0903" stop-color="#ffffff"/><stop offset="0.0968" stop-color="#ffffff"/><stop offset="0.1032" stop-color="#ffffff"/><stop offset="0.1097" stop-color="#ffffff"/><stop offset="0.1161" stop-color="#ffffff"/><stop offset="0.1226" stop-color="#ffffff"/><stop offset="0.1290" stop-color="#ffffff"/><stop offset="0.1355" stop-color="#ffffff"/><stop offset="0.1419" stop-color="#ffffff"/><stop offset="0.1484" stop-color="#ffffff"/><stop offset="0.1548" stop-color="#ffffff"/><stop offset="0.1613" stop-color="#ffffff"/><stop offset="0.1677" stop-color="#ffffff"/><stop offset="0.1742" stop-color="#ffffff"/><stop offset="0.1806" stop-color="#ffffff"/><stop offset="0.1871" stop-color="#ffffff"/><stop offset="0.1935" stop-color="#ffffff"/><stop offset="0.2000" stop-color="#ffffff"/><stop offset="0.2065" stop-color="#ffffff"/><stop offset="0.2129" stop-color="#ffffff"/><stop offset="0.2194" stop-color="#ffffff"/><stop offset="0.2258" stop-color="#ffffff"/><stop offset="0.2323" stop-color="#ffffff"/><stop offset="0.2387" stop-color="#ffffff"/><stop offset="0.2452" stop-color="#ffffff"/><stop offset="0.2516" stop-color="#ffffff"/><stop offset="0.2581" stop-color="#ffffff"/><stop offset="0.2645" stop-color="#ffffff"/><stop offset="0.2710" stop-color="#ffffff"/><stop offset="0.2774" stop-color="#ffffff"/><stop offset="0.2839" stop-color="#ffffff"/><stop offset="0.2903" stop-color="#ffffff"/><stop offset="0.2968" stop-color="#ffffff"/><stop offset="0.3032" stop-color="#ffffff"/><stop offset="0.3097" stop-color="#ffffff"/><stop offset="0.3161" stop-color="#ffffff"/><stop offset="0.3226" stop-color="#ffffff"/><stop offset="0.3290" stop-color="#ffffff"/><stop offset="0.3355" stop-color="#ffffff"/><stop offset="0.3419" stop-color="#ffffff"/><stop offset="0.3484" stop-color="#ffffff"/><stop offset="0.3548" stop-color="#ffffff"/><stop offset="0.3613" stop-color="#ffffff"/><stop offset="0.3677" stop-color="#ffffff"/><stop offset="0.3742" stop-color="#ffffff"/><stop offset="0.3806" stop-color="#ffffff"/><stop offset="0.3871" stop-color="#ffffff"/><stop offset="0.3935" stop-color="#ffffff"/><stop offset="0.4000" stop-color="#ffffff"/><stop offset="0.4065" stop-color="#ffffff"/><stop offset="0.4129" stop-color="#ffffff"/><stop offset="0.4194" stop-color="#ffffff"/><stop offset="0.4258" stop-color="#ffffff"/><stop offset="0.4323" stop-color="#ffffff"/><stop offset="0.4387" stop-color="#ffffff"/><stop offset="0.4452" stop-color="#ffffff"/><stop offset="0.4516" stop-color="#fffcfc"/><stop offset="0.4581" stop-color="#fff7f7"/><stop offset="0.4645" stop-color="#fff3f3"/><stop offset="0.4710" stop-color="#fff1f1"/><stop offset="0.4774" stop-color="#ffeaea"/><stop offset="0.4839" stop-color="#ffe1e1"/><stop offset="0.4903" stop-color="#ffd6d6"/><stop offset="0.4968" stop-color="#ffcbcb"/><stop offset="0.5032" stop-color="#ffc2c2"/><stop offset="0.5097" stop-color="#ffbdbd"/><stop offset="0.5161" stop-color="#ffbdbd"/><stop offset="0.5226" stop-color="#ffbbbb"/><stop offset="0.5290" stop-color="#ffb9b9"/><stop offset="0.5355" stop-color="#ffb6b6"/><stop offset="0.5419" stop-color="#ffb3b3"/><stop offset="0.5484" stop-color="#ffb1b1"/><stop offset="0.5548" stop-color="#ffb0b0"/><stop offset="0.5613" stop-color="#ffb0b0"/><stop offset="0.5677" stop-color="#ffb2b2"/><stop offset="0.5742" stop-color="#ffb4b4"/><stop offset="0.5806" stop-color="#ffb7b7"/><stop offset="0.5871" stop-color="#ffbaba"/><stop offset="0.5935" stop-color="#ffbdbd"/><stop offset="0.6000" stop-color="#ffbebe"/><stop offset="0.6065" stop-color="#ffbfbf"/><stop offset="0.6129" stop-color="#ffc0c0"/><stop offset="0.6194" stop-color="#ffc3c3"/><stop offset="0.6258" stop-color="#ffc8c8"/><stop offset="0.6323" stop-color="#ffcdcd"/><stop offset="0.6387" stop-color="#ffd3d3"/><stop offset="0.6452" stop-color="#ffd8d8"/><stop offset="0.6516" stop-color="#ffdcdc"/><stop offset="0.6581" stop-color="#ffdede"/><stop offset="0.6645" stop-color="#ffdede"/><stop offset="0.6710" stop-color="#ffe1e1"/><stop offset="0.6774" stop-color="#ffe4e4"/><stop offset="0.6839" stop-color="#ffe8e8"/><stop offset="0.6903" stop-color="#ffeded"/><stop offset="0.6968" stop-color="#fff1f1"/><stop offset="0.7032" stop-color="#fff3f3"/><stop offset="0.7097" stop-color="#fff5f5"/><stop offset="0.7161" stop-color="#fff6f6"/><stop offset="0.7226" stop-color="#fff7f7"/><stop offset="0.7290" stop-color="#fff9f9"/><stop offset="0.7355" stop-color="#fffbfb"/><stop offset="0.7419" stop-color="#fffefe"/><stop offset="0.7484" stop-color="#ffffff"/><stop offset="0.7548" stop-color="#fdfdff"/><stop offset="0.7613" stop-color="#fcfcff"/><stop offset="0.7677" stop-color="#fbfbff"/><stop offset="0.7742" stop-color="#fbfbff"/><stop offset="0.7806" stop-color="#fafaff"/><stop offset="0.7871" stop-color="#fafaff"/><stop offset="0.7935" stop-color="#f9f9ff"/><stop offset="0.8000" stop-color="#f8f8ff"/><stop offset="0.8065" stop-color="#f7f7ff"/><stop offset="0.8129" stop-color="#f6f6ff"/><stop offset="0.8194" stop-color="#f5f5ff"/><stop offset="0.8258" stop-color="#f4f4ff"/><stop offset="0.8323" stop-color="#f4f4ff"/><stop offset="0.8387" stop-color="#f4f4ff"/><stop offset="0.8452" stop-color="#f4f4ff"/><stop offset="0.8516" stop-color="#f4f4ff"/><stop offset="0.8581" stop-color="#f4f4ff"/><stop offset="0.8645" stop-color="#f4f4ff"/><stop offset="0.8710" stop-color="#f4f4ff"/><stop offset="0.8774" stop-color="#f4f4ff"/><stop offset="0.8839" stop-color="#f4f4ff"/><stop offset="0.8903" stop-color="#f4f4ff"/><stop offset="0.8968" stop-color="#f4f4ff"/><stop offset="0.9032" stop-color="#f4f4ff"/><stop offset="0.9097" stop-color="#f4f4ff"/><stop offset="0.9161" stop-color="#f4f4ff"/><stop offset="0.9226" stop-color="#f4f4ff"/><stop offset="0.9290" stop-color="#f4f4ff"/><stop offset="0.9355" stop-color="#f4f4ff"/><stop offset="0.9419" stop-color="#f4f4ff"/><stop offset="0.9484" stop-color="#f4f4ff"/><stop offset="0.9548" stop-color="#f4f4ff"/><stop offset="0.9613" stop-color="#f4f4ff"/><stop offset="0.9677" stop-color="#f4f4ff"/><stop offset="0.9742" stop-color="#f4f4ff"/><stop offset="0.9806" stop-color="#f4f4ff"/><stop offset="0.9871" stop-color="#f4f4ff"/><stop offset="0.9935" stop-color="#f4f4ff"/><stop offset="1.0000" stop-color="#f4f4ff"/></linearGradient>
<radialGradient id="rge" gradientUnits="objectBoundingBox" cx="0.5" cy="0.5" r="0.5"><stop offset="0" stop-color="#ff6a6a"/><stop offset="0.6" stop-color="#ff7c7c"/><stop offset="1" stop-color="#ff9a9a" stop-opacity="0"/></radialGradient>
<linearGradient id="gearm1" gradientUnits="userSpaceOnUse" x1="0" y1="328.00" x2="0" y2="362.00"><stop offset="0.0000" stop-color="#dedeff"/><stop offset="0.0556" stop-color="#ddddff"/><stop offset="0.1111" stop-color="#dadaff"/><stop offset="0.1667" stop-color="#d6d6ff"/><stop offset="0.2222" stop-color="#d1d1ff"/><stop offset="0.2778" stop-color="#ceceff"/><stop offset="0.3333" stop-color="#ccccff"/><stop offset="0.3889" stop-color="#ccccff"/><stop offset="0.4444" stop-color="#cacaff"/><stop offset="0.5000" stop-color="#c6c6ff"/><stop offset="0.5556" stop-color="#c2c2ff"/><stop offset="0.6111" stop-color="#bcbcff"/><stop offset="0.6667" stop-color="#b6b6ff"/><stop offset="0.7222" stop-color="#b0b0ff"/><stop offset="0.7778" stop-color="#aaaaff"/><stop offset="0.8333" stop-color="#a5a5ff"/><stop offset="0.8889" stop-color="#a1a1ff"/><stop offset="0.9444" stop-color="#9f9fff"/><stop offset="1.0000" stop-color="#9e9eff"/></linearGradient>
<linearGradient id="gearm2" gradientUnits="userSpaceOnUse" x1="0" y1="490.70" x2="0" y2="456.70"><stop offset="0.0000" stop-color="#dedeff"/><stop offset="0.0556" stop-color="#ddddff"/><stop offset="0.1111" stop-color="#dadaff"/><stop offset="0.1667" stop-color="#d6d6ff"/><stop offset="0.2222" stop-color="#d1d1ff"/><stop offset="0.2778" stop-color="#ceceff"/><stop offset="0.3333" stop-color="#ccccff"/><stop offset="0.3889" stop-color="#ccccff"/><stop offset="0.4444" stop-color="#cacaff"/><stop offset="0.5000" stop-color="#c6c6ff"/><stop offset="0.5556" stop-color="#c2c2ff"/><stop offset="0.6111" stop-color="#bcbcff"/><stop offset="0.6667" stop-color="#b6b6ff"/><stop offset="0.7222" stop-color="#b0b0ff"/><stop offset="0.7778" stop-color="#aaaaff"/><stop offset="0.8333" stop-color="#a5a5ff"/><stop offset="0.8889" stop-color="#a1a1ff"/><stop offset="0.9444" stop-color="#9f9fff"/><stop offset="1.0000" stop-color="#9e9eff"/></linearGradient>
<linearGradient id="gedia" gradientUnits="userSpaceOnUse" x1="70.00" y1="0" x2="155.00" y2="0"><stop offset="0.0000" stop-color="#facccc"/><stop offset="0.0233" stop-color="#facccc"/><stop offset="0.0465" stop-color="#facccc"/><stop offset="0.0698" stop-color="#facccc"/><stop offset="0.0930" stop-color="#facccc"/><stop offset="0.1163" stop-color="#facccc"/><stop offset="0.1395" stop-color="#facccc"/><stop offset="0.1628" stop-color="#facccc"/><stop offset="0.1860" stop-color="#facccc"/><stop offset="0.2093" stop-color="#facccc"/><stop offset="0.2326" stop-color="#facccc"/><stop offset="0.2558" stop-color="#facccc"/><stop offset="0.2791" stop-color="#facccc"/><stop offset="0.3023" stop-color="#facccc"/><stop offset="0.3256" stop-color="#facccc"/><stop offset="0.3488" stop-color="#facccc"/><stop offset="0.3721" stop-color="#facccc"/><stop offset="0.3953" stop-color="#f7cccc"/><stop offset="0.4186" stop-color="#f3cdcd"/><stop offset="0.4419" stop-color="#efcece"/><stop offset="0.4651" stop-color="#ebcece"/><stop offset="0.4884" stop-color="#e7cfcf"/><stop offset="0.5116" stop-color="#e3cfcf"/><stop offset="0.5349" stop-color="#dfd0d0"/><stop offset="0.5581" stop-color="#dbd1d1"/><stop offset="0.5814" stop-color="#d7d1d1"/><stop offset="0.6047" stop-color="#d3d2d2"/><stop offset="0.6279" stop-color="#d2d2d2"/><stop offset="0.6512" stop-color="#d2d2d2"/><stop offset="0.6744" stop-color="#d2d2d2"/><stop offset="0.6977" stop-color="#d2d2d2"/><stop offset="0.7209" stop-color="#d2d2d2"/><stop offset="0.7442" stop-color="#d2d2d2"/><stop offset="0.7674" stop-color="#d2d2d2"/><stop offset="0.7907" stop-color="#d2d2d2"/><stop offset="0.8140" stop-color="#d2d2d2"/><stop offset="0.8372" stop-color="#d2d2d2"/><stop offset="0.8605" stop-color="#d2d2d2"/><stop offset="0.8837" stop-color="#d2d2d2"/><stop offset="0.9070" stop-color="#d2d2d2"/><stop offset="0.9302" stop-color="#d2d2d2"/><stop offset="0.9535" stop-color="#d2d2d2"/><stop offset="0.9767" stop-color="#d2d2d2"/><stop offset="1.0000" stop-color="#d2d2d2"/></linearGradient>
<clipPath id="cdia"><path d="M69.0 364.5 L85.0 363.0 L111.0 360.4 L123.5 359.6 L132.7 367.3 L142.0 378.1 L149.7 393.5 L154.5 409.4 L149.7 425.2 L142.0 440.6 L132.7 451.4 L123.5 459.1 L111.0 458.3 L85.0 455.7 L69.0 454.2Z"/></clipPath>
<clipPath id="nzc4"><path d="M69.0 364.5 L85.0 363.0 L111.0 360.4 L123.5 359.6 L132.7 367.3 L142.0 378.1 L149.7 393.5 L154.5 409.4 L149.7 425.2 L142.0 440.6 L132.7 451.4 L123.5 459.1 L111.0 458.3 L85.0 455.7 L69.0 454.2Z"/></clipPath>
<clipPath id="nzc5"><path d="M47.0 322.0 L69.3 322.0 L68.3 347.4 L69.3 364.0 L73.2 379.5 L77.1 393.0 L80.0 401.0 L81.0 409.4 L80.0 417.7 L77.1 425.7 L73.2 439.2 L69.3 454.7 L68.3 471.3 L69.3 496.7 L47.0 495.0Z"/></clipPath>
<linearGradient id="gf" gradientUnits="userSpaceOnUse" x1="303.00" y1="0" x2="535.00" y2="0"><stop offset="0.0000" stop-color="#ffffff"/><stop offset="0.0065" stop-color="#ffffff"/><stop offset="0.0129" stop-color="#ffffff"/><stop offset="0.0194" stop-color="#ffffff"/><stop offset="0.0258" stop-color="#ffffff"/><stop offset="0.0323" stop-color="#ffffff"/><stop offset="0.0387" stop-color="#ffffff"/><stop offset="0.0452" stop-color="#ffffff"/><stop offset="0.0516" stop-color="#ffffff"/><stop offset="0.0581" stop-color="#ffffff"/><stop offset="0.0645" stop-color="#ffffff"/><stop offset="0.0710" stop-color="#ffffff"/><stop offset="0.0774" stop-color="#ffffff"/><stop offset="0.0839" stop-color="#ffffff"/><stop offset="0.0903" stop-color="#ffffff"/><stop offset="0.0968" stop-color="#ffffff"/><stop offset="0.1032" stop-color="#ffffff"/><stop offset="0.1097" stop-color="#ffffff"/><stop offset="0.1161" stop-color="#ffffff"/><stop offset="0.1226" stop-color="#ffffff"/><stop offset="0.1290" stop-color="#ffffff"/><stop offset="0.1355" stop-color="#ffffff"/><stop offset="0.1419" stop-color="#ffffff"/><stop offset="0.1484" stop-color="#ffffff"/><stop offset="0.1548" stop-color="#ffffff"/><stop offset="0.1613" stop-color="#ffffff"/><stop offset="0.1677" stop-color="#ffffff"/><stop offset="0.1742" stop-color="#ffffff"/><stop offset="0.1806" stop-color="#ffffff"/><stop offset="0.1871" stop-color="#ffffff"/><stop offset="0.1935" stop-color="#ffffff"/><stop offset="0.2000" stop-color="#ffffff"/><stop offset="0.2065" stop-color="#ffffff"/><stop offset="0.2129" stop-color="#ffffff"/><stop offset="0.2194" stop-color="#ffffff"/><stop offset="0.2258" stop-color="#ffffff"/><stop offset="0.2323" stop-color="#ffffff"/><stop offset="0.2387" stop-color="#ffffff"/><stop offset="0.2452" stop-color="#ffffff"/><stop offset="0.2516" stop-color="#ffffff"/><stop offset="0.2581" stop-color="#ffffff"/><stop offset="0.2645" stop-color="#ffffff"/><stop offset="0.2710" stop-color="#ffffff"/><stop offset="0.2774" stop-color="#ffffff"/><stop offset="0.2839" stop-color="#ffffff"/><stop offset="0.2903" stop-color="#ffffff"/><stop offset="0.2968" stop-color="#ffffff"/><stop offset="0.3032" stop-color="#ffffff"/><stop offset="0.3097" stop-color="#ffffff"/><stop offset="0.3161" stop-color="#ffffff"/><stop offset="0.3226" stop-color="#ffffff"/><stop offset="0.3290" stop-color="#ffffff"/><stop offset="0.3355" stop-color="#ffffff"/><stop offset="0.3419" stop-color="#ffffff"/><stop offset="0.3484" stop-color="#ffffff"/><stop offset="0.3548" stop-color="#ffffff"/><stop offset="0.3613" stop-color="#ffffff"/><stop offset="0.3677" stop-color="#ffffff"/><stop offset="0.3742" stop-color="#ffffff"/><stop offset="0.3806" stop-color="#ffffff"/><stop offset="0.3871" stop-color="#ffffff"/><stop offset="0.3935" stop-color="#ffffff"/><stop offset="0.4000" stop-color="#ffffff"/><stop offset="0.4065" stop-color="#ffffff"/><stop offset="0.4129" stop-color="#ffffff"/><stop offset="0.4194" stop-color="#ffffff"/><stop offset="0.4258" stop-color="#ffffff"/><stop offset="0.4323" stop-color="#ffffff"/><stop offset="0.4387" stop-color="#ffffff"/><stop offset="0.4452" stop-color="#ffffff"/><stop offset="0.4516" stop-color="#ffffff"/><stop offset="0.4581" stop-color="#ffffff"/><stop offset="0.4645" stop-color="#ffffff"/><stop offset="0.4710" stop-color="#ffffff"/><stop offset="0.4774" stop-color="#fbfbff"/><stop offset="0.4839" stop-color="#f4f4ff"/><stop offset="0.4903" stop-color="#eeeeff"/><stop offset="0.4968" stop-color="#ebebff"/><stop offset="0.5032" stop-color="#e7e7ff"/><stop offset="0.5097" stop-color="#dedeff"/><stop offset="0.5161" stop-color="#d4d4ff"/><stop offset="0.5226" stop-color="#cbcbff"/><stop offset="0.5290" stop-color="#c7c7ff"/><stop offset="0.5355" stop-color="#c7c7ff"/><stop offset="0.5419" stop-color="#c6c6ff"/><stop offset="0.5484" stop-color="#c4c4ff"/><stop offset="0.5548" stop-color="#c2c2ff"/><stop offset="0.5613" stop-color="#c0c0ff"/><stop offset="0.5677" stop-color="#bebeff"/><stop offset="0.5742" stop-color="#bdbdff"/><stop offset="0.5806" stop-color="#bdbdff"/><stop offset="0.5871" stop-color="#bdbdff"/><stop offset="0.5935" stop-color="#bebeff"/><stop offset="0.6000" stop-color="#bfbfff"/><stop offset="0.6065" stop-color="#c1c1ff"/><stop offset="0.6129" stop-color="#c3c3ff"/><stop offset="0.6194" stop-color="#c5c5ff"/><stop offset="0.6258" stop-color="#c7c7ff"/><stop offset="0.6323" stop-color="#c9c9ff"/><stop offset="0.6387" stop-color="#c9c9ff"/><stop offset="0.6452" stop-color="#cacaff"/><stop offset="0.6516" stop-color="#ccccff"/><stop offset="0.6581" stop-color="#d0d0ff"/><stop offset="0.6645" stop-color="#d5d5ff"/><stop offset="0.6710" stop-color="#dadaff"/><stop offset="0.6774" stop-color="#dfdfff"/><stop offset="0.6839" stop-color="#e2e2ff"/><stop offset="0.6903" stop-color="#e3e3ff"/><stop offset="0.6968" stop-color="#e4e4ff"/><stop offset="0.7032" stop-color="#e8e8ff"/><stop offset="0.7097" stop-color="#ececff"/><stop offset="0.7161" stop-color="#f1f1ff"/><stop offset="0.7226" stop-color="#f5f5ff"/><stop offset="0.7290" stop-color="#f7f7ff"/><stop offset="0.7355" stop-color="#f8f8ff"/><stop offset="0.7419" stop-color="#f9f9ff"/><stop offset="0.7484" stop-color="#fbfbff"/><stop offset="0.7548" stop-color="#fdfdff"/><stop offset="0.7613" stop-color="#fefeff"/><stop offset="0.7677" stop-color="#fffefe"/><stop offset="0.7742" stop-color="#fffdfd"/><stop offset="0.7806" stop-color="#fffcfc"/><stop offset="0.7871" stop-color="#fffbfb"/><stop offset="0.7935" stop-color="#fffafa"/><stop offset="0.8000" stop-color="#fff9f9"/><stop offset="0.8065" stop-color="#fff9f9"/><stop offset="0.8129" stop-color="#fff9f9"/><stop offset="0.8194" stop-color="#fff9f9"/><stop offset="0.8258" stop-color="#fff9f9"/><stop offset="0.8323" stop-color="#fff9f9"/><stop offset="0.8387" stop-color="#fff9f9"/><stop offset="0.8452" stop-color="#fff9f9"/><stop offset="0.8516" stop-color="#fff8f8"/><stop offset="0.8581" stop-color="#fff8f8"/><stop offset="0.8645" stop-color="#fff8f8"/><stop offset="0.8710" stop-color="#fff8f8"/><stop offset="0.8774" stop-color="#fff8f8"/><stop offset="0.8839" stop-color="#fff8f8"/><stop offset="0.8903" stop-color="#fff8f8"/><stop offset="0.8968" stop-color="#fff8f8"/><stop offset="0.9032" stop-color="#fff8f8"/><stop offset="0.9097" stop-color="#fff8f8"/><stop offset="0.9161" stop-color="#fff8f8"/><stop offset="0.9226" stop-color="#fff8f8"/><stop offset="0.9290" stop-color="#fff8f8"/><stop offset="0.9355" stop-color="#fff8f8"/><stop offset="0.9419" stop-color="#fff8f8"/><stop offset="0.9484" stop-color="#fff8f8"/><stop offset="0.9548" stop-color="#fff8f8"/><stop offset="0.9613" stop-color="#fff7f7"/><stop offset="0.9677" stop-color="#fff7f7"/><stop offset="0.9742" stop-color="#fff7f7"/><stop offset="0.9806" stop-color="#fff7f7"/><stop offset="0.9871" stop-color="#fff7f7"/><stop offset="0.9935" stop-color="#fff7f7"/><stop offset="1.0000" stop-color="#fff7f7"/></linearGradient>
<radialGradient id="rgf" gradientUnits="objectBoundingBox" cx="0.5" cy="0.5" r="0.5"><stop offset="0" stop-color="#ff7c7c"/><stop offset="0.4" stop-color="#ff9292"/><stop offset="0.72" stop-color="#ffb8b8"/><stop offset="0.9" stop-color="#ffe4e4"/><stop offset="1" stop-color="#ffffff" stop-opacity="0"/></radialGradient>
<clipPath id="crf"><path d="M333.0 318.0 L412.0 318.0 L414.0 340.0 L415.0 356.0 L422.0 368.0 L414.0 386.0 L395.0 400.0 L372.0 402.0 L350.0 378.0 L337.0 350.0Z"/><path d="M333.0 498.5 L412.0 498.5 L414.0 476.5 L415.0 460.5 L422.0 448.5 L414.0 430.5 L395.0 416.5 L372.0 414.5 L350.0 438.5 L337.0 466.5Z"/></clipPath>
<linearGradient id="ghorn" gradientUnits="userSpaceOnUse" x1="312.00" y1="0" x2="428.00" y2="0"><stop offset="0.0000" stop-color="#dbdbdb"/><stop offset="0.0169" stop-color="#dbdbdb"/><stop offset="0.0339" stop-color="#dbdbdb"/><stop offset="0.0508" stop-color="#dcdcdc"/><stop offset="0.0678" stop-color="#dcdcdc"/><stop offset="0.0847" stop-color="#dcdcdc"/><stop offset="0.1017" stop-color="#dcdcdc"/><stop offset="0.1186" stop-color="#dddddd"/><stop offset="0.1356" stop-color="#dddddd"/><stop offset="0.1525" stop-color="#dddddd"/><stop offset="0.1695" stop-color="#dddddd"/><stop offset="0.1864" stop-color="#dedede"/><stop offset="0.2034" stop-color="#dedede"/><stop offset="0.2203" stop-color="#dedede"/><stop offset="0.2373" stop-color="#dedede"/><stop offset="0.2542" stop-color="#dedede"/><stop offset="0.2712" stop-color="#dedede"/><stop offset="0.2881" stop-color="#dedede"/><stop offset="0.3051" stop-color="#dddddd"/><stop offset="0.3220" stop-color="#dddddd"/><stop offset="0.3390" stop-color="#dddddd"/><stop offset="0.3559" stop-color="#dddddd"/><stop offset="0.3729" stop-color="#dddddd"/><stop offset="0.3898" stop-color="#dcdcdc"/><stop offset="0.4068" stop-color="#dcdcdc"/><stop offset="0.4237" stop-color="#dcdcdc"/><stop offset="0.4407" stop-color="#dcdcdc"/><stop offset="0.4576" stop-color="#dbdbdb"/><stop offset="0.4746" stop-color="#dbdbdb"/><stop offset="0.4915" stop-color="#dbdbdb"/><stop offset="0.5085" stop-color="#dbdbdb"/><stop offset="0.5254" stop-color="#dbdbdb"/><stop offset="0.5424" stop-color="#dbdbdb"/><stop offset="0.5593" stop-color="#dbdbdb"/><stop offset="0.5763" stop-color="#dbdbdb"/><stop offset="0.5932" stop-color="#dbdbdb"/><stop offset="0.6102" stop-color="#dbdbdb"/><stop offset="0.6271" stop-color="#dbdbdb"/><stop offset="0.6441" stop-color="#dbdbdb"/><stop offset="0.6610" stop-color="#dbdbdb"/><stop offset="0.6780" stop-color="#dbdbdb"/><stop offset="0.6949" stop-color="#dbdbdb"/><stop offset="0.7119" stop-color="#dbdbdb"/><stop offset="0.7288" stop-color="#dbdbdb"/><stop offset="0.7458" stop-color="#dcdcdc"/><stop offset="0.7627" stop-color="#dcdcdc"/><stop offset="0.7797" stop-color="#dddddd"/><stop offset="0.7966" stop-color="#dddddd"/><stop offset="0.8136" stop-color="#dddddd"/><stop offset="0.8305" stop-color="#dedede"/><stop offset="0.8475" stop-color="#dedede"/><stop offset="0.8644" stop-color="#dedede"/><stop offset="0.8814" stop-color="#dedede"/><stop offset="0.8983" stop-color="#dfdfdf"/><stop offset="0.9153" stop-color="#dfdfdf"/><stop offset="0.9322" stop-color="#dfdfdf"/><stop offset="0.9492" stop-color="#e0e0e0"/><stop offset="0.9661" stop-color="#e0e0e0"/><stop offset="0.9831" stop-color="#e0e0e0"/><stop offset="1.0000" stop-color="#e0e0e0"/></linearGradient>
<clipPath id="chorn"><path d="M373.5 395.0 L387.0 397.0 L400.6 391.5 L414.2 382.5 L423.3 371.3 L426.7 364.5 L426.8 380.0 L426.0 398.0 L429.0 408.2 L426.0 418.5 L426.8 436.5 L426.7 452.0 L423.3 445.2 L414.2 434.0 L400.6 425.0 L387.0 419.5 L373.5 421.5 L360.0 424.5 L335.0 423.5 L312.0 420.5 L312.0 396.0 L335.0 393.0 L360.0 392.0Z"/></clipPath>
<linearGradient id="gwedge" gradientUnits="userSpaceOnUse" x1="303.00" y1="0" x2="375.00" y2="0"><stop offset="0.0000" stop-color="#4c4c4c"/><stop offset="0.0270" stop-color="#4e4e4e"/><stop offset="0.0541" stop-color="#515151"/><stop offset="0.0811" stop-color="#545454"/><stop offset="0.1081" stop-color="#565656"/><stop offset="0.1351" stop-color="#575757"/><stop offset="0.1622" stop-color="#5a5a5a"/><stop offset="0.1892" stop-color="#5d5d5d"/><stop offset="0.2162" stop-color="#5e5e5e"/><stop offset="0.2432" stop-color="#5f5f5f"/><stop offset="0.2703" stop-color="#5f5f5f"/><stop offset="0.2973" stop-color="#606060"/><stop offset="0.3243" stop-color="#616161"/><stop offset="0.3514" stop-color="#626262"/><stop offset="0.3784" stop-color="#636363"/><stop offset="0.4054" stop-color="#646464"/><stop offset="0.4324" stop-color="#656565"/><stop offset="0.4595" stop-color="#656565"/><stop offset="0.4865" stop-color="#666666"/><stop offset="0.5135" stop-color="#666666"/><stop offset="0.5405" stop-color="#666666"/><stop offset="0.5676" stop-color="#666666"/><stop offset="0.5946" stop-color="#676767"/><stop offset="0.6216" stop-color="#676767"/><stop offset="0.6486" stop-color="#686868"/><stop offset="0.6757" stop-color="#696969"/><stop offset="0.7027" stop-color="#696969"/><stop offset="0.7297" stop-color="#6a6a6a"/><stop offset="0.7568" stop-color="#6b6b6b"/><stop offset="0.7838" stop-color="#6c6c6c"/><stop offset="0.8108" stop-color="#6d6d6d"/><stop offset="0.8378" stop-color="#6e6e6e"/><stop offset="0.8649" stop-color="#6e6e6e"/><stop offset="0.8919" stop-color="#6f6f6f"/><stop offset="0.9189" stop-color="#707070"/><stop offset="0.9459" stop-color="#707070"/><stop offset="0.9730" stop-color="#707070"/><stop offset="1.0000" stop-color="#707070"/></linearGradient>
<clipPath id="nzc6"><path d="M303.0 322.0 L327.6 322.0 L330.6 343.4 L337.0 358.0 L342.9 366.5 L348.4 372.5 L361.3 385.3 L373.5 395.0 L360.0 394.0 L340.0 395.5 L325.0 398.0 L312.0 401.0 L303.0 402.0Z"/></clipPath>
<clipPath id="nzc7"><path d="M303.0 494.5 L327.6 494.5 L330.6 473.1 L337.0 458.5 L342.9 450.0 L348.4 444.0 L361.3 431.2 L373.5 421.5 L360.0 422.5 L340.0 421.0 L325.0 418.5 L312.0 415.5 L303.0 414.5Z"/></clipPath>
<linearGradient id="gfl" gradientUnits="userSpaceOnUse" x1="312.00" y1="0" x2="430.00" y2="0"><stop offset="0.0000" stop-color="#525252"/><stop offset="0.0167" stop-color="#515151"/><stop offset="0.0333" stop-color="#515151"/><stop offset="0.0500" stop-color="#505050"/><stop offset="0.0667" stop-color="#4f4f4f"/><stop offset="0.0833" stop-color="#4d4d4d"/><stop offset="0.1000" stop-color="#4c4c4c"/><stop offset="0.1167" stop-color="#4a4a4a"/><stop offset="0.1333" stop-color="#484848"/><stop offset="0.1500" stop-color="#474747"/><stop offset="0.1667" stop-color="#454545"/><stop offset="0.1833" stop-color="#444444"/><stop offset="0.2000" stop-color="#434343"/><stop offset="0.2167" stop-color="#434343"/><stop offset="0.2333" stop-color="#424242"/><stop offset="0.2500" stop-color="#424242"/><stop offset="0.2667" stop-color="#424242"/><stop offset="0.2833" stop-color="#414141"/><stop offset="0.3000" stop-color="#3f3f3f"/><stop offset="0.3167" stop-color="#3e3e3e"/><stop offset="0.3333" stop-color="#3c3c3c"/><stop offset="0.3500" stop-color="#3a3a3a"/><stop offset="0.3667" stop-color="#383838"/><stop offset="0.3833" stop-color="#363636"/><stop offset="0.4000" stop-color="#343434"/><stop offset="0.4167" stop-color="#323232"/><stop offset="0.4333" stop-color="#303030"/><stop offset="0.4500" stop-color="#2f2f2f"/><stop offset="0.4667" stop-color="#2e2e2e"/><stop offset="0.4833" stop-color="#2e2e2e"/><stop offset="0.5000" stop-color="#2e2e2e"/><stop offset="0.5167" stop-color="#2d2d2d"/><stop offset="0.5333" stop-color="#2c2c2c"/><stop offset="0.5500" stop-color="#2a2a2a"/><stop offset="0.5667" stop-color="#272727"/><stop offset="0.5833" stop-color="#242424"/><stop offset="0.6000" stop-color="#212121"/><stop offset="0.6167" stop-color="#1e1e1e"/><stop offset="0.6333" stop-color="#1c1c1c"/><stop offset="0.6500" stop-color="#1a1a1a"/><stop offset="0.6667" stop-color="#181818"/><stop offset="0.6833" stop-color="#171717"/><stop offset="0.7000" stop-color="#171717"/><stop offset="0.7167" stop-color="#191919"/><stop offset="0.7333" stop-color="#1d1d1d"/><stop offset="0.7500" stop-color="#232323"/><stop offset="0.7667" stop-color="#292929"/><stop offset="0.7833" stop-color="#303030"/><stop offset="0.8000" stop-color="#373737"/><stop offset="0.8167" stop-color="#3c3c3c"/><stop offset="0.8333" stop-color="#3f3f3f"/><stop offset="0.8500" stop-color="#404040"/><stop offset="0.8667" stop-color="#454545"/><stop offset="0.8833" stop-color="#525252"/><stop offset="0.9000" stop-color="#656565"/><stop offset="0.9167" stop-color="#7b7b7b"/><stop offset="0.9333" stop-color="#909090"/><stop offset="0.9500" stop-color="#a2a2a2"/><stop offset="0.9667" stop-color="#aeaeae"/><stop offset="0.9833" stop-color="#b3b3b3"/><stop offset="1.0000" stop-color="#cccccc"/></linearGradient>
<clipPath id="nzc8"><path d="M303.0 329.6 L312.3 329.6 L312.3 486.9 L303.0 486.9Z"/></clipPath>
<linearGradient id="gez" gradientUnits="userSpaceOnUse" x1="0" y1="35.40" x2="0" y2="255.60"><stop offset="0.0000" stop-color="#ff0000"/><stop offset="0.0135" stop-color="#ff0707"/><stop offset="0.0270" stop-color="#ff0e0e"/><stop offset="0.0405" stop-color="#ff1515"/><stop offset="0.0541" stop-color="#ff1c1c"/><stop offset="0.0676" stop-color="#ff2222"/><stop offset="0.0811" stop-color="#ff2929"/><stop offset="0.0946" stop-color="#ff3030"/><stop offset="0.1081" stop-color="#ff3737"/><stop offset="0.1216" stop-color="#ff3e3e"/><stop offset="0.1351" stop-color="#ff4545"/><stop offset="0.1486" stop-color="#ff4c4c"/><stop offset="0.1622" stop-color="#ff5353"/><stop offset="0.1757" stop-color="#ff5a5a"/><stop offset="0.1892" stop-color="#ff6060"/><stop offset="0.2027" stop-color="#ff6767"/><stop offset="0.2162" stop-color="#ff6e6e"/><stop offset="0.2297" stop-color="#ff7575"/><stop offset="0.2432" stop-color="#ff7c7c"/><stop offset="0.2568" stop-color="#ff8383"/><stop offset="0.2703" stop-color="#ff8a8a"/><stop offset="0.2838" stop-color="#ff9191"/><stop offset="0.2973" stop-color="#ff9898"/><stop offset="0.3108" stop-color="#ff9f9f"/><stop offset="0.3243" stop-color="#ffa5a5"/><stop offset="0.3378" stop-color="#ffacac"/><stop offset="0.3514" stop-color="#ffb3b3"/><stop offset="0.3649" stop-color="#ffbaba"/><stop offset="0.3784" stop-color="#ffc1c1"/><stop offset="0.3919" stop-color="#ffc8c8"/><stop offset="0.4054" stop-color="#ffcfcf"/><stop offset="0.4189" stop-color="#ffd6d6"/><stop offset="0.4324" stop-color="#ffdddd"/><stop offset="0.4459" stop-color="#ffe3e3"/><stop offset="0.4595" stop-color="#ffeaea"/><stop offset="0.4730" stop-color="#fff1f1"/><stop offset="0.4865" stop-color="#fff8f8"/><stop offset="0.5000" stop-color="#ffffff"/><stop offset="0.5135" stop-color="#f8f8ff"/><stop offset="0.5270" stop-color="#f1f1ff"/><stop offset="0.5405" stop-color="#eaeaff"/><stop offset="0.5541" stop-color="#e3e3ff"/><stop offset="0.5676" stop-color="#ddddff"/><stop offset="0.5811" stop-color="#d6d6ff"/><stop offset="0.5946" stop-color="#cfcfff"/><stop offset="0.6081" stop-color="#c8c8ff"/><stop offset="0.6216" stop-color="#c1c1ff"/><stop offset="0.6351" stop-color="#babaff"/><stop offset="0.6486" stop-color="#b3b3ff"/><stop offset="0.6622" stop-color="#acacff"/><stop offset="0.6757" stop-color="#a5a5ff"/><stop offset="0.6892" stop-color="#9f9fff"/><stop offset="0.7027" stop-color="#9898ff"/><stop offset="0.7162" stop-color="#9191ff"/><stop offset="0.7297" stop-color="#8a8aff"/><stop offset="0.7432" stop-color="#8383ff"/><stop offset="0.7568" stop-color="#7c7cff"/><stop offset="0.7703" stop-color="#7575ff"/><stop offset="0.7838" stop-color="#6e6eff"/><stop offset="0.7973" stop-color="#6767ff"/><stop offset="0.8108" stop-color="#6060ff"/><stop offset="0.8243" stop-color="#5a5aff"/><stop offset="0.8378" stop-color="#5353ff"/><stop offset="0.8514" stop-color="#4c4cff"/><stop offset="0.8649" stop-color="#4545ff"/><stop offset="0.8784" stop-color="#3e3eff"/><stop offset="0.8919" stop-color="#3737ff"/><stop offset="0.9054" stop-color="#3030ff"/><stop offset="0.9189" stop-color="#2929ff"/><stop offset="0.9324" stop-color="#2222ff"/><stop offset="0.9459" stop-color="#1c1cff"/><stop offset="0.9595" stop-color="#1515ff"/><stop offset="0.9730" stop-color="#0e0eff"/><stop offset="0.9865" stop-color="#0707ff"/><stop offset="1.0000" stop-color="#0000ff"/></linearGradient>
<linearGradient id="gne" gradientUnits="userSpaceOnUse" x1="0" y1="305.60" x2="0" y2="529.00"><stop offset="0.0000" stop-color="#080808"/><stop offset="0.0133" stop-color="#0a0a0a"/><stop offset="0.0267" stop-color="#0c0c0c"/><stop offset="0.0400" stop-color="#0f0f0f"/><stop offset="0.0533" stop-color="#121212"/><stop offset="0.0667" stop-color="#151515"/><stop offset="0.0800" stop-color="#171717"/><stop offset="0.0933" stop-color="#1a1a1a"/><stop offset="0.1067" stop-color="#1d1d1d"/><stop offset="0.1200" stop-color="#202020"/><stop offset="0.1333" stop-color="#232323"/><stop offset="0.1467" stop-color="#262626"/><stop offset="0.1600" stop-color="#292929"/><stop offset="0.1733" stop-color="#2c2c2c"/><stop offset="0.1867" stop-color="#2f2f2f"/><stop offset="0.2000" stop-color="#323232"/><stop offset="0.2133" stop-color="#353535"/><stop offset="0.2267" stop-color="#383838"/><stop offset="0.2400" stop-color="#3c3c3c"/><stop offset="0.2533" stop-color="#3f3f3f"/><stop offset="0.2667" stop-color="#424242"/><stop offset="0.2800" stop-color="#454545"/><stop offset="0.2933" stop-color="#484848"/><stop offset="0.3067" stop-color="#4b4b4b"/><stop offset="0.3200" stop-color="#4e4e4e"/><stop offset="0.3333" stop-color="#525252"/><stop offset="0.3467" stop-color="#555555"/><stop offset="0.3600" stop-color="#585858"/><stop offset="0.3733" stop-color="#5b5b5b"/><stop offset="0.3867" stop-color="#5e5e5e"/><stop offset="0.4000" stop-color="#626262"/><stop offset="0.4133" stop-color="#656565"/><stop offset="0.4267" stop-color="#686868"/><stop offset="0.4400" stop-color="#6b6b6b"/><stop offset="0.4533" stop-color="#6f6f6f"/><stop offset="0.4667" stop-color="#727272"/><stop offset="0.4800" stop-color="#757575"/><stop offset="0.4933" stop-color="#797979"/><stop offset="0.5067" stop-color="#7c7c7c"/><stop offset="0.5200" stop-color="#7f7f7f"/><stop offset="0.5333" stop-color="#838383"/><stop offset="0.5467" stop-color="#868686"/><stop offset="0.5600" stop-color="#898989"/><stop offset="0.5733" stop-color="#8c8c8c"/><stop offset="0.5867" stop-color="#909090"/><stop offset="0.6000" stop-color="#939393"/><stop offset="0.6133" stop-color="#979797"/><stop offset="0.6267" stop-color="#9a9a9a"/><stop offset="0.6400" stop-color="#9d9d9d"/><stop offset="0.6533" stop-color="#a1a1a1"/><stop offset="0.6667" stop-color="#a4a4a4"/><stop offset="0.6800" stop-color="#a7a7a7"/><stop offset="0.6933" stop-color="#ababab"/><stop offset="0.7067" stop-color="#aeaeae"/><stop offset="0.7200" stop-color="#b2b2b2"/><stop offset="0.7333" stop-color="#b5b5b5"/><stop offset="0.7467" stop-color="#b8b8b8"/><stop offset="0.7600" stop-color="#bcbcbc"/><stop offset="0.7733" stop-color="#bfbfbf"/><stop offset="0.7867" stop-color="#c3c3c3"/><stop offset="0.8000" stop-color="#c6c6c6"/><stop offset="0.8133" stop-color="#c9c9c9"/><stop offset="0.8267" stop-color="#cdcdcd"/><stop offset="0.8400" stop-color="#d0d0d0"/><stop offset="0.8533" stop-color="#d4d4d4"/><stop offset="0.8667" stop-color="#d7d7d7"/><stop offset="0.8800" stop-color="#dbdbdb"/><stop offset="0.8933" stop-color="#dedede"/><stop offset="0.9067" stop-color="#e2e2e2"/><stop offset="0.9200" stop-color="#e5e5e5"/><stop offset="0.9333" stop-color="#e9e9e9"/><stop offset="0.9467" stop-color="#ececec"/><stop offset="0.9600" stop-color="#efefef"/><stop offset="0.9733" stop-color="#f3f3f3"/><stop offset="0.9867" stop-color="#f6f6f6"/><stop offset="1.0000" stop-color="#fafafa"/></linearGradient></defs>
<rect width="617" height="539" fill="#fff"/>
<rect x="47.0" y="3.5" width="231.5" height="157.3" fill="#fff" />
<rect x="47.0" y="3.5" width="231.5" height="157.3" fill="url(#ga)" mask="url(#ma)"/>
<path d="M85.58 3.50V160.80M124.17 3.50V160.80M162.75 3.50V160.80M201.33 3.50V160.80M239.92 3.50V160.80M47.00 29.72H278.50M47.00 55.93H278.50M47.00 82.15H278.50M47.00 108.37H278.50M47.00 134.58H278.50" stroke="#a8a8a8" stroke-width="0.5" stroke-dasharray="1.2 2.2" fill="none" opacity="0.45"/>
<rect x="47" y="3.5" width="50.6" height="157.3" fill="url(#gra)"/>
<path d="M85.58 3.50v4.50M85.58 160.80v-4.50M124.17 3.50v4.50M124.17 160.80v-4.50M162.75 3.50v4.50M162.75 160.80v-4.50M201.33 3.50v4.50M201.33 160.80v-4.50M239.92 3.50v4.50M239.92 160.80v-4.50M278.50 29.72h-4.50M47.00 29.72h4.50M278.50 55.93h-4.50M47.00 55.93h4.50M278.50 82.15h-4.50M47.00 82.15h4.50M278.50 108.37h-4.50M47.00 108.37h4.50M278.50 134.58h-4.50M47.00 134.58h4.50" stroke="#1a1a1a" stroke-width="1.2" fill="none"/><rect x="47.00" y="3.50" width="231.50" height="157.30" fill="none" stroke="#262626" stroke-width="1.4"/>
<rect x="303.0" y="2.8" width="231.5" height="157.3" fill="#fff" />
<rect x="303.0" y="2.8" width="231.5" height="157.3" fill="url(#gb)" mask="url(#mb)"/>
<path d="M341.58 2.80V160.10M380.17 2.80V160.10M418.75 2.80V160.10M457.33 2.80V160.10M495.92 2.80V160.10M303.00 29.02H534.50M303.00 55.23H534.50M303.00 81.45H534.50M303.00 107.67H534.50M303.00 133.88H534.50" stroke="#a8a8a8" stroke-width="0.5" stroke-dasharray="1.2 2.2" fill="none" opacity="0.45"/>
<rect x="303" y="2.8" width="48.8" height="157.3" fill="url(#grb)"/>
<path d="M341.58 2.80v4.50M341.58 160.10v-4.50M380.17 2.80v4.50M380.17 160.10v-4.50M418.75 2.80v4.50M418.75 160.10v-4.50M457.33 2.80v4.50M457.33 160.10v-4.50M495.92 2.80v4.50M495.92 160.10v-4.50M534.50 29.02h-4.50M303.00 29.02h4.50M534.50 55.23h-4.50M303.00 55.23h4.50M534.50 81.45h-4.50M303.00 81.45h4.50M534.50 107.67h-4.50M303.00 107.67h4.50M534.50 133.88h-4.50M303.00 133.88h4.50" stroke="#1a1a1a" stroke-width="1.2" fill="none"/><rect x="303.00" y="2.80" width="231.50" height="157.30" fill="none" stroke="#262626" stroke-width="1.4"/>
<g clip-path="url(#cp10)">
<rect x="47.0" y="167.0" width="231.5" height="157.3" fill="#fff" />
<rect x="47.0" y="167.0" width="231.5" height="157.3" fill="url(#gc2)" mask="url(#mc2)"/>
<path d="M85.58 167.00V324.30M124.17 167.00V324.30M162.75 167.00V324.30M201.33 167.00V324.30M239.92 167.00V324.30M47.00 193.22H278.50M47.00 219.43H278.50M47.00 245.65H278.50M47.00 271.87H278.50M47.00 298.08H278.50" stroke="#a8a8a8" stroke-width="0.5" stroke-dasharray="1.2 2.2" fill="none" opacity="0.45"/>
<path d="M65.4 167.0 L65.5 169.0 L65.6 171.7 L65.7 174.9 L65.9 178.4 L66.1 182.0 L66.4 185.4 L66.8 188.7 L67.2 192.1 L67.6 195.5 L68.2 198.9 L68.8 202.4 L69.5 205.8 L70.4 209.2 L71.4 212.7 L72.4 216.2 L73.5 219.7 L74.6 222.9 L75.6 226.0 L76.5 228.9 L77.5 231.8 L78.4 234.5 L79.2 237.0 L79.9 239.2 L80.5 241.0 L80.9 242.4 L81.1 243.5 L81.2 244.3 L81.2 244.8 L81.3 245.3 L81.3 245.7 L81.1 246.2 L80.9 246.9 L80.6 247.8 L80.3 248.8 L79.9 249.9 L79.5 251.0 L79.0 252.1 L78.4 253.3 L77.8 254.5 L77.1 255.8 L76.3 257.3 L75.6 258.9 L74.8 260.7 L73.9 262.7 L73.0 264.8 L72.1 267.1 L71.2 269.5 L70.5 272.0 L69.9 274.7 L69.3 277.6 L68.8 280.6 L68.3 283.7 L67.9 286.8 L67.5 290.0 L67.2 293.3 L66.9 296.7 L66.6 300.2 L66.4 303.7 L66.2 307.0 L66.0 310.0 L65.8 312.9 L65.7 315.7 L65.6 318.4 L65.5 320.8 L65.5 322.8 L65.4 324.3 L87.5 324.3 L87.5 167.0Z" fill="url(#gcb)"/>
<path d="M65.4 167.0 L65.5 169.0 L65.6 171.7 L65.7 174.9 L65.9 178.4 L66.1 182.0 L66.4 185.4 L66.8 188.7 L67.2 192.1 L67.6 195.5 L68.2 198.9 L68.8 202.4 L69.5 205.8 L70.4 209.2 L71.4 212.7 L72.4 216.2 L73.5 219.7 L74.6 222.9 L75.6 226.0 L76.5 228.9 L77.5 231.8 L78.4 234.5 L79.2 237.0 L79.9 239.2 L80.5 241.0 L80.9 242.4 L81.1 243.5 L81.2 244.3 L81.2 244.8 L81.3 245.3 L81.3 245.7 L81.1 246.2 L80.9 246.9 L80.6 247.8 L80.3 248.8 L79.9 249.9 L79.5 251.0 L79.0 252.1 L78.4 253.3 L77.8 254.5 L77.1 255.8 L76.3 257.3 L75.6 258.9 L74.8 260.7 L73.9 262.7 L73.0 264.8 L72.1 267.1 L71.2 269.5 L70.5 272.0 L69.9 274.7 L69.3 277.6 L68.8 280.6 L68.3 283.7 L67.9 286.8 L67.5 290.0 L67.2 293.3 L66.9 296.7 L66.6 300.2 L66.4 303.7 L66.2 307.0 L66.0 310.0 L65.8 312.9 L65.7 315.7 L65.6 318.4 L65.5 320.8 L65.5 322.8 L65.4 324.3" fill="none" stroke="#0000ff" stroke-width="7"/>
<path d="M47.0 167.0 L65.4 167.0 L65.5 169.0 L65.6 171.7 L65.7 174.9 L65.9 178.4 L66.1 182.0 L66.4 185.4 L66.8 188.7 L67.2 192.1 L67.6 195.5 L68.2 198.9 L68.8 202.4 L69.5 205.8 L70.4 209.2 L71.4 212.7 L72.4 216.2 L73.5 219.7 L74.6 222.9 L75.6 226.0 L76.5 228.9 L77.5 231.8 L78.4 234.5 L79.2 237.0 L79.9 239.2 L80.5 241.0 L80.9 242.4 L81.1 243.5 L81.2 244.3 L81.2 244.8 L81.3 245.3 L81.3 245.7 L81.1 246.2 L80.9 246.9 L80.6 247.8 L80.3 248.8 L79.9 249.9 L79.5 251.0 L79.0 252.1 L78.4 253.3 L77.8 254.5 L77.1 255.8 L76.3 257.3 L75.6 258.9 L74.8 260.7 L73.9 262.7 L73.0 264.8 L72.1 267.1 L71.2 269.5 L70.5 272.0 L69.9 274.7 L69.3 277.6 L68.8 280.6 L68.3 283.7 L67.9 286.8 L67.5 290.0 L67.2 293.3 L66.9 296.7 L66.6 300.2 L66.4 303.7 L66.2 307.0 L66.0 310.0 L65.8 312.9 L65.7 315.7 L65.6 318.4 L65.5 320.8 L65.5 322.8 L65.4 324.3 L47.0 324.3Z" fill="#383838"/>
<g clip-path="url(#nzc1)" style="mix-blend-mode:overlay" opacity="0.12"><rect x="47.0" y="167.0" width="40.0" height="157.3" filter="url(#nz)"/></g>
<path d="M65.4 167.0 L65.5 169.0 L65.6 171.7 L65.7 174.9 L65.9 178.4 L66.1 182.0 L66.4 185.4 L66.8 188.7 L67.2 192.1 L67.6 195.5 L68.2 198.9 L68.8 202.4 L69.5 205.8 L70.4 209.2 L71.4 212.7 L72.4 216.2 L73.5 219.7 L74.6 222.9 L75.6 226.0 L76.5 228.9 L77.5 231.8 L78.4 234.5 L79.2 237.0 L79.9 239.2 L80.5 241.0 L80.9 242.4 L81.1 243.5 L81.2 244.3 L81.2 244.8 L81.3 245.3 L81.3 245.7 L81.1 246.2 L80.9 246.9 L80.6 247.8 L80.3 248.8 L79.9 249.9 L79.5 251.0 L79.0 252.1 L78.4 253.3 L77.8 254.5 L77.1 255.8 L76.3 257.3 L75.6 258.9 L74.8 260.7 L73.9 262.7 L73.0 264.8 L72.1 267.1 L71.2 269.5 L70.5 272.0 L69.9 274.7 L69.3 277.6 L68.8 280.6 L68.3 283.7 L67.9 286.8 L67.5 290.0 L67.2 293.3 L66.9 296.7 L66.6 300.2 L66.4 303.7 L66.2 307.0 L66.0 310.0 L65.8 312.9 L65.7 315.7 L65.6 318.4 L65.5 320.8 L65.5 322.8 L65.4 324.3" fill="none" stroke="#8a8660" stroke-width="0.8"/>
</g>
<path d="M85.58 167.00v4.50M85.58 324.30v-4.50M124.17 167.00v4.50M124.17 324.30v-4.50M162.75 167.00v4.50M162.75 324.30v-4.50M201.33 167.00v4.50M201.33 324.30v-4.50M239.92 167.00v4.50M239.92 324.30v-4.50M278.50 193.22h-4.50M47.00 193.22h4.50M278.50 219.43h-4.50M47.00 219.43h4.50M278.50 245.65h-4.50M47.00 245.65h4.50M278.50 271.87h-4.50M47.00 271.87h4.50M278.50 298.08h-4.50M47.00 298.08h4.50" stroke="#1a1a1a" stroke-width="1.2" fill="none"/><rect x="47.00" y="167.00" width="231.50" height="157.30" fill="none" stroke="#262626" stroke-width="1.4"/>
<g clip-path="url(#cp11)">
<rect x="303.0" y="166.0" width="231.5" height="157.3" fill="url(#gd)" />
<path d="M341.58 166.00V323.30M380.17 166.00V323.30M418.75 166.00V323.30M457.33 166.00V323.30M495.92 166.00V323.30M303.00 192.22H534.50M303.00 218.43H534.50M303.00 244.65H534.50M303.00 270.87H534.50M303.00 297.08H534.50" stroke="#a8a8a8" stroke-width="0.5" stroke-dasharray="1.2 2.2" fill="none" opacity="0.45"/>
<path d="M320.0 166.0 L389.0 166.0 L389.0 323.3 L320.0 323.3Z" fill="url(#gdb1)"/>
<path d="M320.0 166.0 L389.0 166.0 L389.0 323.3 L320.0 323.3Z" fill="url(#gdb2)" mask="url(#md)"/>
<path d="M314.7 166.0 L324.3 166.7 L327.5 167.0 L327.4 170.6 L330.8 170.7 L330.9 174.1 L334.4 174.1 L334.6 177.4 L337.9 177.6 L338.0 181.0 L341.2 181.3 L341.3 184.7 L344.3 185.2 L344.5 188.5 L348.4 188.1 L348.0 192.0 L351.2 192.3 L351.1 195.9 L355.0 199.5 L357.1 205.0 L357.8 214.0 L358.2 225.0 L359.5 234.0 L361.2 241.8 L360.5 249.0 L359.2 256.0 L358.5 264.0 L358.0 271.0 L358.0 323.3 L314.7 323.3Z" fill="url(#gdg)"/>
<path d="M343 224 Q359 244 343 264" fill="none" stroke="#b4b4b4" stroke-width="2" opacity="0.5" filter="url(#b1)"/>
<g clip-path="url(#nzc2)" style="mix-blend-mode:overlay" opacity="0.10"><rect x="314.0" y="166.0" width="50.0" height="157.3" filter="url(#nz)"/></g>
<rect x="303" y="166.0" width="11.9" height="157.3" fill="#343434"/>
<g clip-path="url(#nzc3)" style="mix-blend-mode:overlay" opacity="0.12"><rect x="303.0" y="166.0" width="13.0" height="157.3" filter="url(#nz)"/></g>
</g>
<path d="M341.58 166.00v4.50M341.58 323.30v-4.50M380.17 166.00v4.50M380.17 323.30v-4.50M418.75 166.00v4.50M418.75 323.30v-4.50M457.33 166.00v4.50M457.33 323.30v-4.50M495.92 166.00v4.50M495.92 323.30v-4.50M534.50 192.22h-4.50M303.00 192.22h4.50M534.50 218.43h-4.50M303.00 218.43h4.50M534.50 244.65h-4.50M303.00 244.65h4.50M534.50 270.87h-4.50M303.00 270.87h4.50M534.50 297.08h-4.50M303.00 297.08h4.50" stroke="#1a1a1a" stroke-width="1.2" fill="none"/><rect x="303.00" y="166.00" width="231.50" height="157.30" fill="none" stroke="#262626" stroke-width="1.4"/>
<g clip-path="url(#cp20)">
<rect x="47.0" y="330.7" width="231.5" height="157.3" fill="url(#ge)" />
<path d="M85.58 330.70V488.00M124.17 330.70V488.00M162.75 330.70V488.00M201.33 330.70V488.00M239.92 330.70V488.00M47.00 356.92H278.50M47.00 383.13H278.50M47.00 409.35H278.50M47.00 435.57H278.50M47.00 461.78H278.50" stroke="#a8a8a8" stroke-width="0.5" stroke-dasharray="1.2 2.2" fill="none" opacity="0.45"/>
<path d="M75.0 322.0 L109.0 322.0 L114.0 338.0 L120.0 352.0 L122.0 362.0 L100.0 366.0 L74.0 366.0 L72.0 345.0Z" fill="#ff8e8e" filter="url(#b2)"/>
<ellipse cx="92" cy="345.0" rx="17" ry="22" fill="url(#rge)"/>
<path d="M75.0 496.7 L109.0 496.7 L114.0 480.7 L120.0 466.7 L122.0 456.7 L100.0 452.7 L74.0 452.7 L72.0 473.7Z" fill="#ff8e8e" filter="url(#b2)"/>
<ellipse cx="92" cy="473.7" rx="17" ry="22" fill="url(#rge)"/>
<path d="M121.0 322.0 L124.0 335.0 L129.0 350.0 L134.0 362.0 L142.0 374.0" fill="none" stroke="#d6d6ff" stroke-width="30" stroke-linejoin="round" filter="url(#b3)"/>
<path d="M121.0 496.7 L124.0 483.7 L129.0 468.7 L134.0 456.7 L142.0 444.7" fill="none" stroke="#d6d6ff" stroke-width="30" stroke-linejoin="round" filter="url(#b3)"/>
<path d="M121.0 322.0 L124.0 335.0 L129.0 350.0 L134.0 362.0 L142.0 374.0" fill="none" stroke="url(#gearm1)" stroke-width="12" stroke-linejoin="round" filter="url(#b2)"/>
<path d="M121.0 496.7 L124.0 483.7 L129.0 468.7 L134.0 456.7 L142.0 444.7" fill="none" stroke="url(#gearm2)" stroke-width="12" stroke-linejoin="round" filter="url(#b2)"/>
<path d="M123.5 359.6 L132.7 367.3 L142.0 378.1 L149.7 393.5 L154.5 409.4 L149.7 425.2 L142.0 440.6 L132.7 451.4 L123.5 459.1" fill="none" stroke="#7c7cff" stroke-width="8" stroke-linejoin="round" filter="url(#b1)"/>
<path d="M71.0 322.0 L70.0 345.0 L71.0 368.0" fill="none" stroke="#6060ff" stroke-width="8" filter="url(#b1)"/>
<path d="M71.0 496.7 L70.0 473.7 L71.0 450.7" fill="none" stroke="#6060ff" stroke-width="8" filter="url(#b1)"/>
<path d="M69.0 364.5 L85.0 363.0 L111.0 360.4 L123.5 359.6 L132.7 367.3 L142.0 378.1 L149.7 393.5 L154.5 409.4 L149.7 425.2 L142.0 440.6 L132.7 451.4 L123.5 459.1 L111.0 458.3 L85.0 455.7 L69.0 454.2Z" fill="url(#gedia)"/>
<g clip-path="url(#cdia)">
<path d="M123.5 359.6 L132.7 367.3 L142.0 378.1 L149.7 393.5 L154.5 409.4 L149.7 425.2 L142.0 440.6 L132.7 451.4 L123.5 459.1" fill="none" stroke="#9a9a9a" stroke-width="5" filter="url(#b1)"/>
<ellipse cx="131" cy="409.4" rx="14" ry="22" fill="#e2e2e8" filter="url(#b5)"/>
<path d="M80 402.4 L140 409.4 L80 416.4 Z" fill="#8c8c8c" filter="url(#b2)"/>
</g>
<g clip-path="url(#nzc4)" style="mix-blend-mode:overlay" opacity="0.38"><rect x="66.0" y="355.0" width="92.0" height="108.0" filter="url(#nz2)"/></g>
<path d="M78 405.4 L96 407.9 L114 409.4 L96 410.9 L78 413.4 Z" fill="#404040" filter="url(#b1)"/>
<path d="M47.0 322.0 L69.3 322.0 L68.3 347.4 L69.3 364.0 L73.2 379.5 L77.1 393.0 L80.0 401.0 L81.0 409.4 L80.0 417.7 L77.1 425.7 L73.2 439.2 L69.3 454.7 L68.3 471.3 L69.3 496.7 L47.0 495.0Z" fill="#404040"/>
<g clip-path="url(#nzc5)" style="mix-blend-mode:overlay" opacity="0.13"><rect x="47.0" y="330.7" width="40.0" height="157.3" filter="url(#nz)"/></g>
</g>
<path d="M85.58 330.70v4.50M85.58 488.00v-4.50M124.17 330.70v4.50M124.17 488.00v-4.50M162.75 330.70v4.50M162.75 488.00v-4.50M201.33 330.70v4.50M201.33 488.00v-4.50M239.92 330.70v4.50M239.92 488.00v-4.50M278.50 356.92h-4.50M47.00 356.92h4.50M278.50 383.13h-4.50M47.00 383.13h4.50M278.50 409.35h-4.50M47.00 409.35h4.50M278.50 435.57h-4.50M47.00 435.57h4.50M278.50 461.78h-4.50M47.00 461.78h4.50" stroke="#1a1a1a" stroke-width="1.2" fill="none"/><rect x="47.00" y="330.70" width="231.50" height="157.30" fill="none" stroke="#262626" stroke-width="1.4"/>
<g clip-path="url(#cp21)">
<rect x="303.0" y="329.6" width="231.5" height="157.3" fill="url(#gf)" />
<path d="M341.58 329.60V486.90M380.17 329.60V486.90M418.75 329.60V486.90M457.33 329.60V486.90M495.92 329.60V486.90M303.00 355.82H534.50M303.00 382.03H534.50M303.00 408.25H534.50M303.00 434.47H534.50M303.00 460.68H534.50" stroke="#a8a8a8" stroke-width="0.5" stroke-dasharray="1.2 2.2" fill="none" opacity="0.45"/>
<g filter="url(#b2)"><g clip-path="url(#crf)">
<ellipse cx="380" cy="357.0" rx="46" ry="58" fill="url(#rgf)"/>
<ellipse cx="380" cy="459.5" rx="46" ry="58" fill="url(#rgf)"/>
</g></g>
<path d="M327.6 322.0 L330.6 343.4 L337.0 358.0 L342.9 366.5 L348.4 372.5 L361.3 385.3 L373.5 395.0" fill="none" stroke="#b4b4ff" stroke-width="11" filter="url(#b1)"/>
<path d="M327.6 494.5 L330.6 473.1 L337.0 458.5 L342.9 450.0 L348.4 444.0 L361.3 431.2 L373.5 421.5" fill="none" stroke="#b4b4ff" stroke-width="11" filter="url(#b1)"/>
<path d="M373.5 395.0 L387.0 397.0 L400.6 391.5 L414.2 382.5 L423.3 371.3 L426.7 364.5 L426.8 380.0 L426.0 398.0 L429.0 408.2 L426.0 418.5 L426.8 436.5 L426.7 452.0 L423.3 445.2 L414.2 434.0 L400.6 425.0 L387.0 419.5 L373.5 421.5 L360.0 424.5 L335.0 423.5 L312.0 420.5 L312.0 396.0 L335.0 393.0 L360.0 392.0Z" fill="url(#ghorn)"/>
<g clip-path="url(#chorn)">
<rect x="312" y="403.8" width="120" height="9" fill="#9c9c9c" filter="url(#b2)"/>
<path d="M375 394.2 L428 378.2 L428 438.2 L375 422.2 Z" fill="#b8b8b8" filter="url(#b5)"/>
</g>
<path d="M303.0 322.0 L327.6 322.0 L330.6 343.4 L337.0 358.0 L342.9 366.5 L348.4 372.5 L361.3 385.3 L373.5 395.0 L360.0 394.0 L340.0 395.5 L325.0 398.0 L312.0 401.0 L303.0 402.0Z" fill="url(#gwedge)"/>
<g clip-path="url(#nzc6)" style="mix-blend-mode:overlay" opacity="0.14"><rect x="303.0" y="329.6" width="75.0" height="157.3" filter="url(#nz)"/></g>
<path d="M303.0 494.5 L327.6 494.5 L330.6 473.1 L337.0 458.5 L342.9 450.0 L348.4 444.0 L361.3 431.2 L373.5 421.5 L360.0 422.5 L340.0 421.0 L325.0 418.5 L312.0 415.5 L303.0 414.5Z" fill="url(#gwedge)"/>
<g clip-path="url(#nzc7)" style="mix-blend-mode:overlay" opacity="0.14"><rect x="303.0" y="329.6" width="75.0" height="157.3" filter="url(#nz)"/></g>
<path d="M312 405.8 L400 405.8 L428 407.2 L428 409.2 L400 410.8 L312 410.8 Z" fill="url(#gfl)" filter="url(#b1)"/>
<rect x="303" y="329.6" width="9.3" height="157.3" fill="#262626"/>
<g clip-path="url(#nzc8)" style="mix-blend-mode:overlay" opacity="0.10"><rect x="303.0" y="329.6" width="10.0" height="157.3" filter="url(#nz)"/></g>
</g>
<path d="M341.58 329.60v4.50M341.58 486.90v-4.50M380.17 329.60v4.50M380.17 486.90v-4.50M418.75 329.60v4.50M418.75 486.90v-4.50M457.33 329.60v4.50M457.33 486.90v-4.50M495.92 329.60v4.50M495.92 486.90v-4.50M534.50 355.82h-4.50M303.00 355.82h4.50M534.50 382.03h-4.50M303.00 382.03h4.50M534.50 408.25h-4.50M303.00 408.25h4.50M534.50 434.47h-4.50M303.00 434.47h4.50M534.50 460.68h-4.50M303.00 460.68h4.50" stroke="#1a1a1a" stroke-width="1.2" fill="none"/><rect x="303.00" y="329.60" width="231.50" height="157.30" fill="none" stroke="#262626" stroke-width="1.4"/>
<rect x="47.0" y="111.0" width="231.5" height="49.2" fill="#fff"/><path d="M85.58 111.00V160.20M124.17 111.00V160.20M162.75 111.00V160.20M201.33 111.00V160.20M239.92 111.00V160.20M47.00 123.20H278.50M47.00 148.00H278.50" stroke="#c8c8c8" stroke-width="0.5" stroke-dasharray="1.2 2.2" fill="none" opacity="0.6"/><path d="M85.58 160.20v-2.50M124.17 160.20v-2.50M162.75 160.20v-2.50M201.33 160.20v-2.50M239.92 160.20v-2.50M278.50 123.20h-2.50M278.50 135.60h-2.50M278.50 148.00h-2.50" stroke="#555" stroke-width="0.8" fill="none"/><polyline points="47.5,136.0 48.2,136.0 48.9,136.0 49.6,136.0 50.3,136.0 51.0,136.0 51.7,136.0 52.4,136.0 53.1,136.0 53.8,136.0 54.5,136.0 55.2,136.0 55.9,136.0 56.6,136.0 57.3,136.0 58.0,136.0 58.7,136.0 59.4,136.0 60.1,136.0 60.8,136.0 61.5,136.0 62.2,136.0 62.9,136.0 63.6,136.0 64.3,136.0 65.0,136.0 65.7,136.0 66.4,136.0 67.1,136.0 67.8,136.0 68.5,136.0 69.2,136.1 69.9,136.1 70.6,136.1 71.3,136.1 72.0,136.1 72.7,136.2 73.4,136.2 74.1,136.2 74.8,136.2 75.5,136.3 76.2,136.3 76.9,136.4 77.6,136.4 78.3,136.5 79.0,136.5 79.7,136.6 80.4,136.6 81.1,136.7 81.8,136.7 82.5,136.8 83.2,136.9 83.9,137.0 84.6,137.0 85.3,137.1 86.0,137.2 86.7,137.2 87.4,137.3 88.1,137.4 88.8,137.4 89.5,137.5 90.2,137.6 90.9,137.6 91.6,137.6 92.3,137.7 93.0,137.7 93.7,137.7 94.4,137.7 95.1,137.7 95.8,137.7 96.5,137.7 97.2,137.6 97.9,137.6 98.6,137.5 99.3,137.4 100.0,137.3 100.7,137.1 101.4,137.0 102.1,136.8 102.8,136.6 103.5,136.4 104.2,136.2 104.9,135.9 105.7,135.6 106.4,135.3 107.1,135.0 107.8,134.7 108.5,134.3 109.2,134.0 109.9,133.6 110.6,133.2 111.3,132.8 112.0,132.4 112.7,132.0 113.4,131.5 114.1,131.1 114.8,130.7 115.5,130.2 116.2,129.8 116.9,129.4 117.6,129.0 118.3,128.6 119.0,128.2 119.7,127.8 120.4,127.4 121.1,127.1 121.8,126.8 122.5,126.5 123.2,126.2 123.9,126.0 124.6,125.8 125.3,125.6 126.0,125.5 126.7,125.4 127.4,125.4 128.1,125.3 128.8,125.4 129.5,125.4 130.2,125.5 130.9,125.7 131.6,125.9 132.3,126.1 133.0,126.4 133.7,126.7 134.4,127.1 135.1,127.5 135.8,127.9 136.5,128.4 137.2,128.9 137.9,129.4 138.6,130.0 139.3,130.6 140.0,131.2 140.7,131.9 141.4,132.6 142.1,133.3 142.8,134.0 143.5,134.7 144.2,135.4 144.9,136.2 145.6,137.0 146.3,137.7 147.0,138.5 147.7,139.2 148.4,140.0 149.1,140.7 149.8,141.4 150.5,142.1 151.2,142.8 151.9,143.5 152.6,144.2 153.3,144.8 154.0,145.4 154.7,146.0 155.4,146.5 156.1,147.0 156.8,147.5 157.5,148.0 158.2,148.4 158.9,148.7 159.6,149.1 160.3,149.4 161.0,149.6 161.7,149.8 162.4,150.0 163.1,150.1 163.8,150.2 164.5,150.2 165.2,150.2 165.9,150.1 166.6,150.1 167.3,149.9 168.0,149.7 168.7,149.5 169.4,149.2 170.1,148.9 170.8,148.6 171.5,148.2 172.2,147.8 172.9,147.3 173.6,146.8 174.3,146.3 175.0,145.7 175.7,145.2 176.4,144.5 177.1,143.9 177.8,143.2 178.5,142.5 179.2,141.8 179.9,141.1 180.6,140.4 181.3,139.6 182.0,138.9 182.7,138.1 183.4,137.4 184.1,136.6 184.8,135.9 185.5,135.1 186.2,134.4 186.9,133.7 187.6,133.0 188.3,132.3 189.0,131.6 189.7,131.0 190.4,130.3 191.1,129.8 191.8,129.2 192.5,128.7 193.2,128.2 193.9,127.7 194.6,127.3 195.3,126.9 196.0,126.6 196.7,126.3 197.4,126.0 198.1,125.8 198.8,125.6 199.5,125.5 200.2,125.4 200.9,125.3 201.6,125.3 202.3,125.4 203.0,125.4 203.7,125.6 204.4,125.7 205.1,125.9 205.8,126.1 206.5,126.3 207.2,126.6 207.9,126.9 208.6,127.2 209.3,127.6 210.0,128.0 210.7,128.3 211.4,128.7 212.1,129.1 212.8,129.6 213.5,130.0 214.2,130.4 214.9,130.9 215.6,131.3 216.3,131.7 217.0,132.1 217.7,132.6 218.4,133.0 219.1,133.4 219.8,133.8 220.6,134.1 221.3,134.5 222.0,134.8 222.7,135.2 223.4,135.5 224.1,135.8 224.8,136.0 225.5,136.3 226.2,136.5 226.9,136.7 227.6,136.9 228.3,137.1 229.0,137.2 229.7,137.3 230.4,137.4 231.1,137.5 231.8,137.6 232.5,137.7 233.2,137.7 233.9,137.7 234.6,137.7 235.3,137.7 236.0,137.7 236.7,137.7 237.4,137.7 238.1,137.6 238.8,137.6 239.5,137.5 240.2,137.5 240.9,137.4 241.6,137.3 242.3,137.3 243.0,137.2 243.7,137.1 244.4,137.1 245.1,137.0 245.8,136.9 246.5,136.9 247.2,136.8 247.9,136.7 248.6,136.7 249.3,136.6 250.0,136.5 250.7,136.5 251.4,136.4 252.1,136.4 252.8,136.3 253.5,136.3 254.2,136.3 254.9,136.2 255.6,136.2 256.3,136.2 257.0,136.1 257.7,136.1 258.4,136.1 259.1,136.1 259.8,136.1 260.5,136.1 261.2,136.0 261.9,136.0 262.6,136.0 263.3,136.0 264.0,136.0 264.7,136.0 265.4,136.0 266.1,136.0 266.8,136.0 267.5,136.0 268.2,136.0 268.9,136.0 269.6,136.0 270.3,136.0 271.0,136.0 271.7,136.0 272.4,136.0 273.1,136.0 273.8,136.0 274.5,136.0 275.2,136.0 275.9,136.0 276.6,136.0 277.3,136.0 278.0,136.0" fill="none" stroke="#6e6e6e" stroke-width="1.0" stroke-linejoin="round"/><rect x="47.4" y="111.0" width="229.9" height="49.2" fill="none" stroke="#3a6c9e" stroke-width="1.5"/><path d="M47.0 111.0V160.2 M278.5 111.0V160.2" stroke="#1a1a1a" stroke-width="1.3"/>
<rect x="303.0" y="110.4" width="231.5" height="49.2" fill="#fff"/><path d="M341.58 110.40V159.60M380.17 110.40V159.60M418.75 110.40V159.60M457.33 110.40V159.60M495.92 110.40V159.60M303.00 122.60H534.50M303.00 147.40H534.50" stroke="#c8c8c8" stroke-width="0.5" stroke-dasharray="1.2 2.2" fill="none" opacity="0.6"/><path d="M341.58 159.60v-2.50M380.17 159.60v-2.50M418.75 159.60v-2.50M457.33 159.60v-2.50M495.92 159.60v-2.50M534.50 122.60h-2.50M534.50 135.00h-2.50M534.50 147.40h-2.50" stroke="#555" stroke-width="0.8" fill="none"/><polyline points="303.5,135.1 304.2,135.1 304.9,135.1 305.6,135.1 306.3,135.1 307.0,135.1 307.7,135.1 308.4,135.1 309.1,135.1 309.8,135.1 310.5,135.1 311.2,135.1 311.9,135.1 312.6,135.1 313.3,135.1 314.0,135.1 314.7,135.1 315.4,135.1 316.1,135.1 316.8,135.1 317.5,135.1 318.2,135.1 318.9,135.1 319.6,135.1 320.3,135.1 321.0,135.1 321.7,135.1 322.4,135.1 323.1,135.1 323.8,135.1 324.5,135.1 325.2,135.1 325.9,135.0 326.6,135.0 327.3,135.0 328.0,135.0 328.7,135.0 329.4,135.0 330.1,134.9 330.8,134.9 331.5,134.9 332.2,134.8 332.9,134.8 333.6,134.8 334.3,134.7 335.0,134.7 335.7,134.6 336.4,134.6 337.1,134.5 337.8,134.5 338.5,134.4 339.2,134.3 339.9,134.3 340.6,134.2 341.3,134.2 342.0,134.1 342.7,134.0 343.4,134.0 344.1,133.9 344.8,133.8 345.5,133.8 346.2,133.7 346.9,133.7 347.6,133.6 348.3,133.6 349.0,133.6 349.7,133.5 350.4,133.5 351.1,133.5 351.8,133.5 352.5,133.6 353.2,133.6 353.9,133.6 354.6,133.7 355.3,133.8 356.0,133.9 356.7,134.0 357.4,134.1 358.1,134.3 358.8,134.5 359.5,134.6 360.2,134.9 360.9,135.1 361.7,135.3 362.4,135.6 363.1,135.9 363.8,136.2 364.5,136.5 365.2,136.9 365.9,137.2 366.6,137.6 367.3,138.0 368.0,138.4 368.7,138.8 369.4,139.2 370.1,139.6 370.8,140.0 371.5,140.5 372.2,140.9 372.9,141.3 373.6,141.7 374.3,142.1 375.0,142.5 375.7,142.9 376.4,143.3 377.1,143.6 377.8,144.0 378.5,144.3 379.2,144.5 379.9,144.8 380.6,145.0 381.3,145.2 382.0,145.4 382.7,145.5 383.4,145.6 384.1,145.6 384.8,145.6 385.5,145.6 386.2,145.5 386.9,145.4 387.6,145.2 388.3,145.0 389.0,144.8 389.7,144.5 390.4,144.2 391.1,143.8 391.8,143.4 392.5,142.9 393.2,142.4 393.9,141.9 394.6,141.4 395.3,140.8 396.0,140.2 396.7,139.5 397.4,138.8 398.1,138.2 398.8,137.4 399.5,136.7 400.2,136.0 400.9,135.2 401.6,134.5 402.3,133.7 403.0,132.9 403.7,132.2 404.4,131.4 405.1,130.6 405.8,129.9 406.5,129.2 407.2,128.5 407.9,127.8 408.6,127.1 409.3,126.4 410.0,125.8 410.7,125.2 411.4,124.6 412.1,124.1 412.8,123.6 413.5,123.1 414.2,122.7 414.9,122.3 415.6,121.9 416.3,121.6 417.0,121.4 417.7,121.1 418.4,120.9 419.1,120.8 419.8,120.7 420.5,120.7 421.2,120.6 421.9,120.7 422.6,120.8 423.3,120.9 424.0,121.0 424.7,121.3 425.4,121.5 426.1,121.8 426.8,122.1 427.5,122.5 428.2,122.9 428.9,123.4 429.6,123.9 430.3,124.4 431.0,125.0 431.7,125.5 432.4,126.2 433.1,126.8 433.8,127.5 434.5,128.2 435.2,128.9 435.9,129.6 436.6,130.3 437.3,131.1 438.0,131.8 438.7,132.6 439.4,133.4 440.1,134.1 440.8,134.9 441.5,135.7 442.2,136.4 442.9,137.1 443.6,137.9 444.3,138.6 445.0,139.2 445.7,139.9 446.4,140.5 447.1,141.1 447.8,141.7 448.5,142.2 449.2,142.7 449.9,143.2 450.6,143.6 451.3,144.0 452.0,144.4 452.7,144.7 453.4,144.9 454.1,145.1 454.8,145.3 455.5,145.5 456.2,145.6 456.9,145.6 457.6,145.6 458.3,145.6 459.0,145.5 459.7,145.4 460.4,145.3 461.1,145.1 461.8,144.9 462.5,144.6 463.2,144.4 463.9,144.1 464.6,143.8 465.3,143.4 466.0,143.1 466.7,142.7 467.4,142.3 468.1,141.9 468.8,141.5 469.5,141.1 470.2,140.6 470.9,140.2 471.6,139.8 472.3,139.4 473.0,138.9 473.7,138.5 474.4,138.1 475.1,137.8 475.8,137.4 476.6,137.0 477.3,136.7 478.0,136.3 478.7,136.0 479.4,135.7 480.1,135.4 480.8,135.2 481.5,134.9 482.2,134.7 482.9,134.5 483.6,134.3 484.3,134.2 485.0,134.0 485.7,133.9 486.4,133.8 487.1,133.7 487.8,133.7 488.5,133.6 489.2,133.6 489.9,133.5 490.6,133.5 491.3,133.5 492.0,133.5 492.7,133.6 493.4,133.6 494.1,133.6 494.8,133.7 495.5,133.7 496.2,133.8 496.9,133.8 497.6,133.9 498.3,133.9 499.0,134.0 499.7,134.1 500.4,134.1 501.1,134.2 501.8,134.3 502.5,134.3 503.2,134.4 503.9,134.4 504.6,134.5 505.3,134.6 506.0,134.6 506.7,134.7 507.4,134.7 508.1,134.7 508.8,134.8 509.5,134.8 510.2,134.9 510.9,134.9 511.6,134.9 512.3,134.9 513.0,135.0 513.7,135.0 514.4,135.0 515.1,135.0 515.8,135.0 516.5,135.1 517.2,135.1 517.9,135.1 518.6,135.1 519.3,135.1 520.0,135.1 520.7,135.1 521.4,135.1 522.1,135.1 522.8,135.1 523.5,135.1 524.2,135.1 524.9,135.1 525.6,135.1 526.3,135.1 527.0,135.1 527.7,135.1 528.4,135.1 529.1,135.1 529.8,135.1 530.5,135.1 531.2,135.1 531.9,135.1 532.6,135.1 533.3,135.1 534.0,135.1" fill="none" stroke="#6e6e6e" stroke-width="1.0" stroke-linejoin="round"/><rect x="303.4" y="110.4" width="229.9" height="49.2" fill="none" stroke="#3a6c9e" stroke-width="1.5"/><path d="M303.0 110.4V159.6 M534.5 110.4V159.6" stroke="#1a1a1a" stroke-width="1.3"/>
<rect x="47.0" y="273.4" width="231.5" height="49.8" fill="#fff"/><path d="M85.58 273.40V323.20M124.17 273.40V323.20M162.75 273.40V323.20M201.33 273.40V323.20M239.92 273.40V323.20M47.00 285.90H278.50M47.00 310.70H278.50" stroke="#c8c8c8" stroke-width="0.5" stroke-dasharray="1.2 2.2" fill="none" opacity="0.6"/><path d="M85.58 323.20v-2.50M124.17 323.20v-2.50M162.75 323.20v-2.50M201.33 323.20v-2.50M239.92 323.20v-2.50M278.50 285.90h-2.50M278.50 298.30h-2.50M278.50 310.70h-2.50" stroke="#555" stroke-width="0.8" fill="none"/><polyline points="47.5,298.6 52.0,298.4 56.7,298.0 61.0,296.5 65.4,295.3 70.0,297.5 74.2,302.1 77.0,306.5 79.0,311.8 80.7,316.0 82.0,318.6 83.2,314.5 84.5,309.0 86.0,304.0 87.8,299.2 90.5,293.5 93.6,288.5 97.0,285.0 100.0,283.0 103.3,282.1 107.0,282.4 113.0,284.6 118.0,286.8 122.8,289.4 128.0,293.0 132.5,296.3 137.0,298.8 142.2,300.5 148.0,301.0 153.9,300.8 165.0,300.1 200.0,299.6 278.0,299.4" fill="none" stroke="#6e6e6e" stroke-width="1.0" stroke-linejoin="round"/><rect x="47.4" y="273.4" width="229.9" height="49.8" fill="none" stroke="#3a6c9e" stroke-width="1.5"/><path d="M47.0 273.4V323.2 M278.5 273.4V323.2" stroke="#1a1a1a" stroke-width="1.3"/>
<rect x="303.0" y="273.4" width="231.5" height="49.5" fill="#fff"/><path d="M341.58 273.40V322.90M380.17 273.40V322.90M418.75 273.40V322.90M457.33 273.40V322.90M495.92 273.40V322.90M303.00 285.75H534.50M303.00 310.55H534.50" stroke="#c8c8c8" stroke-width="0.5" stroke-dasharray="1.2 2.2" fill="none" opacity="0.6"/><path d="M341.58 322.90v-2.50M380.17 322.90v-2.50M418.75 322.90v-2.50M457.33 322.90v-2.50M495.92 322.90v-2.50M534.50 285.75h-2.50M534.50 298.15h-2.50M534.50 310.55h-2.50" stroke="#555" stroke-width="0.8" fill="none"/><polyline points="303.5,298.4 306.0,298.6 309.1,299.5 311.0,302.0 312.5,305.2 314.0,308.5 315.4,310.8 317.0,309.0 319.3,304.0 321.0,300.0 322.7,296.8 326.0,294.5 329.5,293.8 333.0,295.2 337.4,298.4 342.0,302.5 347.7,309.7 352.0,313.5 356.0,316.8 361.3,318.8 366.0,318.0 370.0,316.0 374.9,313.1 381.0,308.5 388.5,302.9 394.0,299.6 399.8,297.2 406.0,296.0 413.5,295.6 425.0,296.2 440.0,296.8 480.0,297.0 534.0,297.2" fill="none" stroke="#6e6e6e" stroke-width="1.0" stroke-linejoin="round"/><rect x="303.4" y="273.4" width="229.9" height="49.5" fill="none" stroke="#3a6c9e" stroke-width="1.5"/><path d="M303.0 273.4V322.9 M534.5 273.4V322.9" stroke="#1a1a1a" stroke-width="1.3"/>
<path d="M165.0 29.3L179.4 15.1L179.4 22.2L212.9 22.2L212.9 36.4L179.4 36.4L179.4 43.5Z" fill="#ffff00" stroke="#111" stroke-width="1.5" stroke-linejoin="miter"/>
<path d="M422.6 29.0L437.2 14.8L437.2 21.9L471.0 21.9L471.0 36.1L437.2 36.1L437.2 43.2Z" fill="#ffff00" stroke="#111" stroke-width="1.5" stroke-linejoin="miter"/>
<path d="M212.5 455.7L199.9 442.8L199.9 449.2L168.3 449.2L168.3 462.1L199.9 462.1L199.9 468.6Z" fill="#ffff00" stroke="#111" stroke-width="1.5" stroke-linejoin="miter"/>
<path d="M471.0 455.5L457.6 443.2L457.6 448.9L426.0 448.9L426.0 462.1L457.6 462.1L457.6 467.8Z" fill="#ffff00" stroke="#111" stroke-width="1.5" stroke-linejoin="miter"/>
<text x="226.3" y="41.2" font-size="34.5" font-family="Liberation Serif, serif" font-weight="bold">(a)</text>
<text x="484.2" y="41.2" font-size="34.5" font-family="Liberation Serif, serif" font-weight="bold">(b)</text>
<text x="226.3" y="206.1" font-size="34.5" font-family="Liberation Serif, serif" font-weight="bold">(c)</text>
<text x="484.2" y="205.9" font-size="34.5" font-family="Liberation Serif, serif" font-weight="bold">(d)</text>
<text x="226.3" y="378.0" font-size="34.5" font-family="Liberation Serif, serif" font-weight="bold">(e)</text>
<text x="484.3" y="377.7" font-size="34.5" font-family="Liberation Serif, serif" font-weight="bold">(f)</text>
<text x="196.0" y="84.2" font-size="19.0" font-family="Liberation Serif, serif"  stroke="#000" stroke-width="0.25">t = 0.0T</text>
<text x="191.6" y="249.4" font-size="19.0" font-family="Liberation Serif, serif"  stroke="#000" stroke-width="0.25">t = 1.25T</text>
<text x="191.2" y="413.8" font-size="19.0" font-family="Liberation Serif, serif"  stroke="#000" stroke-width="0.25">t = 2.25T</text>
<text x="38.5" y="31.8" font-size="19.5" font-family="Liberation Serif, serif" text-anchor="end" stroke="#000" stroke-width="0.25">1</text>
<text x="38.5" y="84.4" font-size="19.5" font-family="Liberation Serif, serif" text-anchor="end" stroke="#000" stroke-width="0.25">0</text>
<text x="38.5" y="137.0" font-size="19.5" font-family="Liberation Serif, serif" text-anchor="end" stroke="#000" stroke-width="0.25">-1</text>
<text x="38.5" y="196.0" font-size="19.5" font-family="Liberation Serif, serif" text-anchor="end" stroke="#000" stroke-width="0.25">1</text>
<text x="38.5" y="248.6" font-size="19.5" font-family="Liberation Serif, serif" text-anchor="end" stroke="#000" stroke-width="0.25">0</text>
<text x="38.5" y="301.2" font-size="19.5" font-family="Liberation Serif, serif" text-anchor="end" stroke="#000" stroke-width="0.25">-1</text>
<text x="38.5" y="361.6" font-size="19.5" font-family="Liberation Serif, serif" text-anchor="end" stroke="#000" stroke-width="0.25">1</text>
<text x="38.5" y="414.2" font-size="19.5" font-family="Liberation Serif, serif" text-anchor="end" stroke="#000" stroke-width="0.25">0</text>
<text x="38.5" y="466.8" font-size="19.5" font-family="Liberation Serif, serif" text-anchor="end" stroke="#000" stroke-width="0.25">-1</text>
<text x="48.5" y="512.6" font-size="19.5" font-family="Liberation Serif, serif" text-anchor="middle" stroke="#000" stroke-width="0.25">0</text>
<text x="124.4" y="512.6" font-size="19.5" font-family="Liberation Serif, serif" text-anchor="middle" stroke="#000" stroke-width="0.25">1</text>
<text x="205.0" y="512.6" font-size="19.5" font-family="Liberation Serif, serif" text-anchor="middle" stroke="#000" stroke-width="0.25">2</text>
<text x="280.5" y="512.6" font-size="19.5" font-family="Liberation Serif, serif" text-anchor="middle" stroke="#000" stroke-width="0.25">3</text>
<text x="306.5" y="512.6" font-size="19.5" font-family="Liberation Serif, serif" text-anchor="middle" stroke="#000" stroke-width="0.25">0</text>
<text x="382.3" y="512.6" font-size="19.5" font-family="Liberation Serif, serif" text-anchor="middle" stroke="#000" stroke-width="0.25">1</text>
<text x="462.5" y="512.6" font-size="19.5" font-family="Liberation Serif, serif" text-anchor="middle" stroke="#000" stroke-width="0.25">2</text>
<text x="538.0" y="512.6" font-size="19.5" font-family="Liberation Serif, serif" text-anchor="middle" stroke="#000" stroke-width="0.25">3</text>
<g transform="translate(16.70 110.60) rotate(-90)" stroke="#000" stroke-width="0.25"><text x="0.69" y="0" font-size="21.0" font-style="italic" font-family="Liberation Serif, serif">X</text><text x="19.88" y="0" font-size="21" font-family="Liberation Serif, serif">(</text><text x="25.10" y="2.6" font-size="27" font-family="Liberation Serif, serif">/</text><text x="38.80" y="0" font-size="20" font-style="italic" font-family="Liberation Serif, serif">&#955;</text><text x="46.60" y="5" font-size="15.5" font-family="Liberation Serif, serif">0</text><text x="57.73" y="0" font-size="21" font-family="Liberation Serif, serif">)</text></g>
<g transform="translate(16.70 276.70) rotate(-90)" stroke="#000" stroke-width="0.25"><text x="0.69" y="0" font-size="21.0" font-style="italic" font-family="Liberation Serif, serif">X</text><text x="19.88" y="0" font-size="21" font-family="Liberation Serif, serif">(</text><text x="25.10" y="2.6" font-size="27" font-family="Liberation Serif, serif">/</text><text x="38.80" y="0" font-size="20" font-style="italic" font-family="Liberation Serif, serif">&#955;</text><text x="46.60" y="5" font-size="15.5" font-family="Liberation Serif, serif">0</text><text x="57.73" y="0" font-size="21" font-family="Liberation Serif, serif">)</text></g>
<g transform="translate(16.70 441.20) rotate(-90)" stroke="#000" stroke-width="0.25"><text x="0.69" y="0" font-size="21.0" font-style="italic" font-family="Liberation Serif, serif">X</text><text x="19.88" y="0" font-size="21" font-family="Liberation Serif, serif">(</text><text x="25.10" y="2.6" font-size="27" font-family="Liberation Serif, serif">/</text><text x="38.80" y="0" font-size="20" font-style="italic" font-family="Liberation Serif, serif">&#955;</text><text x="46.60" y="5" font-size="15.5" font-family="Liberation Serif, serif">0</text><text x="57.73" y="0" font-size="21" font-family="Liberation Serif, serif">)</text></g>
<g transform="translate(135.80 532.70)" stroke="#000" stroke-width="0.25"><text x="-0.25" y="0" font-size="20.5" font-style="italic" font-family="Liberation Serif, serif">Z</text><text x="19.18" y="0" font-size="21" font-family="Liberation Serif, serif">(</text><text x="24.40" y="2.6" font-size="27" font-family="Liberation Serif, serif">/</text><text x="38.10" y="0" font-size="20" font-style="italic" font-family="Liberation Serif, serif">&#955;</text><text x="45.90" y="5" font-size="15.5" font-family="Liberation Serif, serif">0</text><text x="57.03" y="0" font-size="21" font-family="Liberation Serif, serif">)</text></g>
<g transform="translate(390.80 532.70)" stroke="#000" stroke-width="0.25"><text x="-0.25" y="0" font-size="20.5" font-style="italic" font-family="Liberation Serif, serif">Z</text><text x="19.18" y="0" font-size="21" font-family="Liberation Serif, serif">(</text><text x="24.40" y="2.6" font-size="27" font-family="Liberation Serif, serif">/</text><text x="38.10" y="0" font-size="20" font-style="italic" font-family="Liberation Serif, serif">&#955;</text><text x="45.90" y="5" font-size="15.5" font-family="Liberation Serif, serif">0</text><text x="57.03" y="0" font-size="21" font-family="Liberation Serif, serif">)</text></g>
<rect x="559.5" y="35.4" width="19.5" height="220.2" fill="url(#gez)" stroke="#111" stroke-width="1"/>
<path d="M559.5 35.4h3M579.0 35.4h-3M559.5 90.4h3M579.0 90.4h-3M559.5 145.5h3M579.0 145.5h-3M559.5 200.5h3M579.0 200.5h-3M559.5 255.6h3M579.0 255.6h-3" stroke="#111" stroke-width="1"/>
<text x="586.3" y="42.2" font-size="19.0" font-family="Liberation Serif, serif"  stroke="#000" stroke-width="0.25">1</text>
<text x="586.3" y="95.2" font-size="19.0" font-family="Liberation Serif, serif"  stroke="#000" stroke-width="0.25">0.5</text>
<text x="586.3" y="153.0" font-size="19.0" font-family="Liberation Serif, serif"  stroke="#000" stroke-width="0.25">0</text>
<text x="586.3" y="206.0" font-size="19.0" font-family="Liberation Serif, serif"  stroke="#000" stroke-width="0.25">-0.5</text>
<text x="586.3" y="259.3" font-size="19.0" font-family="Liberation Serif, serif"  stroke="#000" stroke-width="0.25">-1</text>
<text x="559.06" y="22.3" font-size="23" font-family="Liberation Serif, serif" font-weight="bold" font-style="italic">E</text>
<text x="573.95" y="26.7" font-size="19.5" font-family="Liberation Serif, serif" font-weight="bold" font-style="italic">z</text>
<rect x="559.5" y="305.6" width="19.5" height="223.4" fill="url(#gne)" stroke="#111" stroke-width="1"/>
<path d="M559.5 528.7h1.8M579.0 528.7h-1.8M559.5 522.0h1.8M579.0 522.0h-1.8M559.5 516.2h1.8M579.0 516.2h-1.8M559.5 511.3h1.8M579.0 511.3h-1.8M559.5 506.9h1.8M579.0 506.9h-1.8M559.5 503.0h3.0M579.0 503.0h-3.0M559.5 477.3h1.8M579.0 477.3h-1.8M559.5 462.2h1.8M579.0 462.2h-1.8M559.5 451.5h1.8M579.0 451.5h-1.8M559.5 443.2h1.8M579.0 443.2h-1.8M559.5 436.5h1.8M579.0 436.5h-1.8M559.5 430.7h1.8M579.0 430.7h-1.8M559.5 425.8h1.8M579.0 425.8h-1.8M559.5 421.4h1.8M579.0 421.4h-1.8M559.5 417.5h3.0M579.0 417.5h-3.0M559.5 391.8h1.8M579.0 391.8h-1.8M559.5 376.7h1.8M579.0 376.7h-1.8M559.5 366.0h1.8M579.0 366.0h-1.8M559.5 357.7h1.8M579.0 357.7h-1.8M559.5 351.0h1.8M579.0 351.0h-1.8M559.5 345.2h1.8M579.0 345.2h-1.8M559.5 340.3h1.8M579.0 340.3h-1.8M559.5 335.9h1.8M579.0 335.9h-1.8M559.5 332.0h3.0M579.0 332.0h-3.0M559.5 306.3h1.8M579.0 306.3h-1.8" stroke="#111" stroke-width="0.9"/>
<text x="585.6" y="335.5" font-size="19.0" font-family="Liberation Serif, serif"  stroke="#000" stroke-width="0.25">10</text>
<text x="585.6" y="425.8" font-size="19.0" font-family="Liberation Serif, serif"  stroke="#000" stroke-width="0.25">1</text>
<text x="585.6" y="509.0" font-size="19.0" font-family="Liberation Serif, serif"  stroke="#000" stroke-width="0.25">0.1</text>
<g transform="translate(545.5 291.8) scale(1.28 1)"><text x="0" y="0" font-size="23" font-family="Liberation Serif, serif" font-weight="bold" font-style="italic">n</text></g>
<text x="560.6" y="297.8" font-size="17" font-family="Liberation Serif, serif" font-weight="bold" font-style="italic">e</text>
<text x="570.5" y="292.6" font-size="23" font-family="Liberation Serif, serif" font-weight="bold" font-style="italic">(</text>
<g transform="translate(578.6 291.8) scale(1.28 1)"><text x="0" y="0" font-size="23" font-family="Liberation Serif, serif" font-weight="bold" font-style="italic">n</text></g>
<text x="595.5" y="297.8" font-size="17" font-family="Liberation Serif, serif" font-weight="bold" font-style="italic">c</text>
<text x="608.3" y="292.6" font-size="23" font-family="Liberation Serif, serif" font-weight="bold" font-style="italic">)</text>
</svg>
</body></html>
